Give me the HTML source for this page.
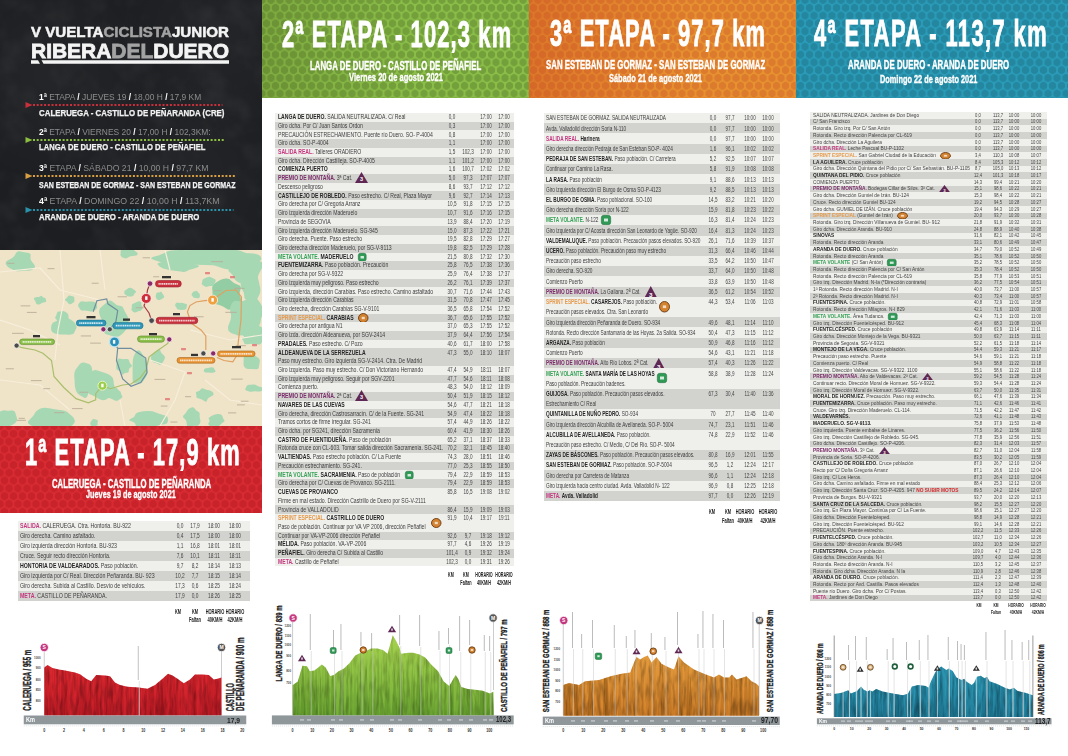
<!DOCTYPE html><html><head><meta charset="utf-8"><style>
*{margin:0;padding:0;box-sizing:border-box}
html,body{width:1068px;height:756px;overflow:hidden;background:#fff;font-family:"Liberation Sans",sans-serif}
.t{position:absolute;white-space:nowrap;line-height:1}
.abs{position:absolute}

</style></head><body>
<div class="abs" style="left:0;top:0;width:262px;height:250px;background:#1c1e21;background-image:radial-gradient(circle at 20% 30%,rgba(255,255,255,.035),transparent 40%),radial-gradient(circle at 70% 70%,rgba(255,255,255,.03),transparent 45%),radial-gradient(circle at 85% 15%,rgba(255,255,255,.03),transparent 35%)"></div>
<svg class="abs" style="left:0;top:0" width="262" height="250"><filter id="dn" x="0" y="0" width="100%" height="100%"><feTurbulence type="fractalNoise" baseFrequency="0.035" numOctaves="3" seed="7"/><feColorMatrix type="matrix" values="0 0 0 0 1  0 0 0 0 1  0 0 0 0 1  1.4 0 0 0 -0.62"/></filter><rect width="262" height="250" fill="#fff" filter="url(#dn)" opacity=".07"/></svg>
<div class="t" style="left:31.30px;top:26.42px;font-size:13.8px;font-weight:700;color:#f4f4f4;transform:scaleX(1.0943);transform-origin:0 0;-webkit-text-stroke:.5px currentColor;">V VUELTA<span style="color:#a3a3a3">CICLISTA</span>JUNIOR</div>
<div class="t" style="left:31.30px;top:41.01px;font-size:20.9px;font-weight:700;color:#f4f4f4;transform:scaleX(1.0030);transform-origin:0 0;-webkit-text-stroke:.8px currentColor;">RIBERA<span style="color:#a3a3a3">DEL</span>DUERO</div>
<svg class="abs" style="left:0;top:0" width="262" height="70"><g fill="#f4f4f4"><polygon points="31,60.3 38,60.3 40,63.8 31,63.8"/><polygon points="41.5,60.3 229,60.3 229,63.8 43.5,63.8"/></g></svg>
<div class="t" style="left:38.50px;top:91.67px;font-size:9.6px;font-weight:400;color:#8d8d8d;transform:scaleX(0.8759);transform-origin:0 0;"><b style="color:#fff">1ª</b> <span style="color:#8d8d8d">ETAPA</span> <b style="color:#fff">/</b> <span style="color:#8d8d8d">JUEVES 19</span> <b style="color:#fff">/</b> <span style="color:#8d8d8d">18,00 H</span>  <b style="color:#fff">/</b> <span style="color:#8d8d8d">17,9 KM</span></div>
<svg class="abs" style="left:0;top:101.0px" width="262" height="8"><polygon points="25.5,1 32.5,4 25.5,7" fill="#c8303c"/><line x1="33" y1="4" x2="222.5" y2="4" stroke="#c8303c" stroke-width="2" stroke-dasharray="2 1.7"/></svg>
<div class="t" style="left:39.20px;top:108.79px;font-size:8.4px;font-weight:700;color:#f2f2f2;transform:scaleX(0.9408);transform-origin:0 0;-webkit-text-stroke:.25px #f2f2f2;">CALERUEGA - CASTILLO DE PEÑARANDA (CRE)</div>
<div class="t" style="left:38.50px;top:127.17px;font-size:9.6px;font-weight:400;color:#8d8d8d;transform:scaleX(0.8790);transform-origin:0 0;"><b style="color:#fff">2ª</b> <span style="color:#8d8d8d">ETAPA</span> <b style="color:#fff">/</b> <span style="color:#8d8d8d">VIERNES 20</span> <b style="color:#fff">/</b> <span style="color:#8d8d8d">17,00 H</span>  <b style="color:#fff">/</b> <span style="color:#8d8d8d">102,3KM:</span></div>
<svg class="abs" style="left:0;top:135.6px" width="262" height="8"><polygon points="25.5,1 32.5,4 25.5,7" fill="#8cbf3f"/><line x1="33" y1="4" x2="225" y2="4" stroke="#8cbf3f" stroke-width="2" stroke-dasharray="2 1.7"/></svg>
<div class="t" style="left:39.20px;top:143.39px;font-size:8.4px;font-weight:700;color:#f2f2f2;transform:scaleX(0.9091);transform-origin:0 0;-webkit-text-stroke:.25px #f2f2f2;">LANGA DE DUERO -  CASTILLO DE PEÑAFIEL</div>
<div class="t" style="left:38.50px;top:162.77px;font-size:9.6px;font-weight:400;color:#8d8d8d;transform:scaleX(0.9030);transform-origin:0 0;"><b style="color:#fff">3ª</b> <span style="color:#8d8d8d">ETAPA</span> <b style="color:#fff">/</b> <span style="color:#8d8d8d">SÁBADO 21</span> <b style="color:#fff">/</b> <span style="color:#8d8d8d">10,00 H</span>  <b style="color:#fff">/</b> <span style="color:#8d8d8d">97,7 KM</span></div>
<svg class="abs" style="left:0;top:171.6px" width="262" height="8"><polygon points="25.5,1 32.5,4 25.5,7" fill="#d9a042"/><line x1="33" y1="4" x2="236" y2="4" stroke="#d9a042" stroke-width="2" stroke-dasharray="2 1.7"/></svg>
<div class="t" style="left:39.20px;top:180.89px;font-size:8.4px;font-weight:700;color:#f2f2f2;transform:scaleX(0.8377);transform-origin:0 0;-webkit-text-stroke:.25px #f2f2f2;">SAN ESTEBAN DE GORMAZ -  SAN ESTEBAN DE GORMAZ</div>
<div class="t" style="left:38.50px;top:195.67px;font-size:9.6px;font-weight:400;color:#8d8d8d;transform:scaleX(0.9180);transform-origin:0 0;"><b style="color:#fff">4ª</b> <span style="color:#8d8d8d">ETAPA</span> <b style="color:#fff">/</b> <span style="color:#8d8d8d">DOMINGO 22</span> <b style="color:#fff">/</b> <span style="color:#8d8d8d">10,00 H</span>  <b style="color:#fff">/</b> <span style="color:#8d8d8d">113,7KM</span></div>
<svg class="abs" style="left:0;top:205.6px" width="262" height="8"><polygon points="25.5,1 32.5,4 25.5,7" fill="#2a92aa"/><line x1="33" y1="4" x2="233.5" y2="4" stroke="#2a92aa" stroke-width="2" stroke-dasharray="2 1.7"/></svg>
<div class="t" style="left:39.20px;top:213.39px;font-size:8.4px;font-weight:700;color:#f2f2f2;transform:scaleX(0.9314);transform-origin:0 0;-webkit-text-stroke:.25px #f2f2f2;">ARANDA DE DUERO -  ARANDA DE DUERO</div>
<svg class="abs" style="left:0;top:250px" width="262" height="176" viewBox="0 250 262 176"><rect x="0" y="250" width="262" height="176" fill="#efe3c8"/><path d="M31.1,260.4 Q32.1,262.0 34.1,264.6 Q36.1,267.2 33.5,269.1 Q31.0,271.0 27.4,270.7 Q23.7,270.4 20.8,271.1 Q17.9,271.7 15.2,270.7 Q12.5,269.6 9.9,268.2 Q7.3,266.7 6.0,264.4 Q4.7,262.0 8.0,260.3 Q11.3,258.6 12.9,257.4 Q14.6,256.2 15.9,253.3 Q17.3,250.4 20.6,251.5 Q24.0,252.6 27.5,252.8 Q31.0,253.0 30.6,256.0 Q30.1,258.9 31.1,260.4Z" fill="#a6d8b4"/><path d="M136.4,252.0 Q138.0,253.0 137.5,254.4 Q137.0,255.7 134.4,255.8 Q131.7,255.9 130.6,256.3 Q129.4,256.7 127.6,257.8 Q125.9,258.8 124.1,258.1 Q122.4,257.4 121.2,256.4 Q120.1,255.4 120.5,254.2 Q120.9,253.0 120.6,251.9 Q120.4,250.7 121.5,249.8 Q122.7,248.9 124.4,248.4 Q126.1,247.9 127.8,248.5 Q129.4,249.1 131.1,249.2 Q132.8,249.2 133.8,250.1 Q134.8,251.0 136.4,252.0Z" fill="#a6d8b4"/><path d="M74.4,299.1 Q74.3,300.0 74.4,300.9 Q74.6,301.8 73.8,302.3 Q72.9,302.9 72.0,303.5 Q71.2,304.1 70.0,304.2 Q68.8,304.2 68.2,303.3 Q67.6,302.4 67.2,301.8 Q66.7,301.3 65.4,300.6 Q64.1,300.0 65.1,299.2 Q66.1,298.5 66.7,297.9 Q67.3,297.3 68.0,296.2 Q68.6,295.0 69.8,295.6 Q71.1,296.2 72.4,296.2 Q73.7,296.3 74.1,297.3 Q74.4,298.3 74.4,299.1Z" fill="#a6d8b4"/><path d="M76.1,325.3 Q77.1,327.0 76.1,328.7 Q75.1,330.4 74.4,332.4 Q73.6,334.4 71.0,334.6 Q68.3,334.9 66.1,334.6 Q63.8,334.4 61.1,334.4 Q58.3,334.4 54.9,333.4 Q51.5,332.4 51.2,329.7 Q50.8,327.0 51.7,324.5 Q52.5,322.0 55.9,321.2 Q59.2,320.4 61.1,318.7 Q63.0,317.1 65.8,317.8 Q68.5,318.5 70.6,319.5 Q72.6,320.6 73.9,322.1 Q75.1,323.6 76.1,325.3Z" fill="#a6d8b4"/><path d="M126.9,315.0 Q129.0,318.0 128.6,321.9 Q128.3,325.9 126.2,329.2 Q124.2,332.6 121.0,335.0 Q117.9,337.5 114.2,336.6 Q110.5,335.7 106.8,334.6 Q103.2,333.5 104.0,328.3 Q104.7,323.1 102.5,320.6 Q100.3,318.0 99.3,313.7 Q98.3,309.3 101.4,306.9 Q104.5,304.4 107.4,301.7 Q110.2,298.9 113.3,302.3 Q116.4,305.8 119.5,305.7 Q122.6,305.7 123.7,308.9 Q124.8,312.0 126.9,315.0Z" fill="#a6d8b4"/><path d="M255.5,256.1 Q263.2,258.0 260.7,260.3 Q258.2,262.6 247.0,263.8 Q235.9,265.0 225.3,265.3 Q214.6,265.6 205.8,265.0 Q197.0,264.3 184.0,265.0 Q171.0,265.7 165.8,263.8 Q160.7,261.8 154.2,259.9 Q147.7,258.0 155.4,256.2 Q163.2,254.4 166.1,252.1 Q169.1,249.9 182.2,250.1 Q195.3,250.3 206.6,249.0 Q218.0,247.7 229.1,248.9 Q240.2,250.1 244.0,252.2 Q247.9,254.3 255.5,256.1Z" fill="#a6d8b4"/><path d="M197.1,265.0 Q200.4,266.0 198.2,267.1 Q195.9,268.3 192.5,268.9 Q189.2,269.5 187.0,270.9 Q184.8,272.4 180.6,271.6 Q176.3,270.9 172.7,270.5 Q169.2,270.1 166.1,269.3 Q163.0,268.5 160.7,267.2 Q158.4,266.0 157.7,264.3 Q157.0,262.7 162.4,262.0 Q167.8,261.4 171.1,260.0 Q174.3,258.5 180.0,258.5 Q185.7,258.5 188.2,260.3 Q190.7,262.0 192.2,263.0 Q193.7,264.0 197.1,265.0Z" fill="#a6d8b4"/><path d="M262.7,266.4 Q261.2,270.0 259.6,272.4 Q258.0,274.9 257.6,278.4 Q257.2,281.9 252.6,281.1 Q248.0,280.4 244.5,282.2 Q240.9,283.9 237.8,282.0 Q234.6,280.1 233.7,277.3 Q232.8,274.6 229.9,272.3 Q226.9,270.0 230.0,267.7 Q233.0,265.5 233.6,262.5 Q234.2,259.5 238.1,259.5 Q242.0,259.6 245.0,259.6 Q248.1,259.5 251.9,259.5 Q255.7,259.5 260.0,261.2 Q264.2,262.8 262.7,266.4Z" fill="#a6d8b4"/><path d="M240.4,289.9 Q238.7,294.0 240.9,298.4 Q243.0,302.7 238.2,303.3 Q233.4,303.9 231.6,307.6 Q229.7,311.4 226.6,308.7 Q223.4,306.0 220.7,305.4 Q218.0,304.7 213.3,303.8 Q208.7,302.9 211.1,298.4 Q213.4,294.0 212.4,290.3 Q211.4,286.5 214.1,284.1 Q216.9,281.8 219.8,280.3 Q222.7,278.8 226.0,278.6 Q229.3,278.4 231.5,281.0 Q233.7,283.6 237.9,284.7 Q242.0,285.8 240.4,289.9Z" fill="#93cda3"/><path d="M260.8,313.4 Q261.6,318.0 260.4,322.4 Q259.2,326.9 256.3,329.3 Q253.5,331.7 251.5,337.8 Q249.6,343.9 245.9,338.7 Q242.3,333.5 238.3,334.4 Q234.4,335.2 230.3,332.5 Q226.3,329.7 229.1,323.8 Q232.0,318.0 230.6,313.1 Q229.2,308.2 231.5,303.9 Q233.7,299.7 237.9,300.9 Q242.2,302.1 245.4,300.0 Q248.5,298.0 252.7,298.4 Q256.8,298.8 258.4,303.8 Q259.9,308.7 260.8,313.4Z" fill="#a6d8b4"/><path d="M142.1,306.2 Q143.2,307.0 142.7,308.0 Q142.2,309.1 141.5,310.1 Q140.9,311.1 139.5,311.1 Q138.1,311.1 136.8,311.9 Q135.4,312.7 134.0,312.2 Q132.6,311.6 131.9,310.5 Q131.1,309.4 131.6,308.2 Q132.1,307.0 131.8,305.9 Q131.5,304.8 132.6,304.1 Q133.6,303.5 134.7,303.1 Q135.9,302.8 137.3,301.8 Q138.7,300.9 140.2,301.4 Q141.8,302.0 141.4,303.7 Q141.0,305.4 142.1,306.2Z" fill="#a6d8b4"/><path d="M187.1,305.0 Q186.8,306.0 186.7,306.9 Q186.6,307.8 186.1,308.8 Q185.6,309.9 184.0,309.8 Q182.3,309.8 181.0,309.9 Q179.7,309.9 178.4,309.6 Q177.1,309.3 176.8,308.4 Q176.5,307.4 175.8,306.7 Q175.0,306.0 175.1,305.1 Q175.2,304.1 175.9,303.2 Q176.6,302.4 178.3,302.7 Q180.0,303.0 181.1,302.8 Q182.2,302.5 183.0,303.1 Q183.9,303.6 185.6,303.8 Q187.3,304.0 187.1,305.0Z" fill="#a6d8b4"/><path d="M199.7,294.2 Q199.9,295.0 199.9,295.9 Q199.9,296.9 199.3,297.7 Q198.7,298.4 197.7,298.3 Q196.7,298.1 196.0,298.0 Q195.4,297.8 194.5,297.9 Q193.7,297.9 193.3,297.2 Q192.9,296.5 192.1,295.8 Q191.3,295.0 191.7,294.0 Q192.0,293.1 192.7,292.4 Q193.4,291.7 194.2,291.3 Q195.1,291.0 196.0,290.9 Q197.0,290.7 197.5,291.6 Q198.0,292.5 198.7,292.9 Q199.5,293.3 199.7,294.2Z" fill="#a6d8b4"/><path d="M113.6,380.9 Q113.6,384.0 114.7,387.6 Q115.9,391.2 113.1,394.1 Q110.4,396.9 106.6,399.2 Q102.8,401.5 98.7,398.8 Q94.7,396.1 91.6,395.0 Q88.5,394.0 86.7,391.6 Q85.0,389.2 83.9,386.6 Q82.8,384.0 81.2,380.3 Q79.7,376.6 84.4,375.7 Q89.1,374.7 91.5,371.9 Q93.9,369.1 97.6,370.4 Q101.4,371.7 104.6,372.7 Q107.9,373.6 110.8,375.7 Q113.6,377.7 113.6,380.9Z" fill="#a6d8b4"/><path d="M120.9,392.9 Q121.0,394.0 122.0,395.4 Q123.0,396.9 121.6,398.0 Q120.1,399.1 118.3,400.2 Q116.5,401.3 114.4,400.2 Q112.3,399.1 110.7,398.6 Q109.2,398.0 107.0,397.5 Q104.8,396.9 104.5,395.5 Q104.2,394.0 105.5,392.8 Q106.8,391.7 107.3,390.3 Q107.8,388.8 110.0,388.7 Q112.1,388.5 114.2,387.9 Q116.3,387.2 117.4,388.8 Q118.4,390.3 119.6,391.1 Q120.9,391.8 120.9,392.9Z" fill="#a6d8b4"/><path d="M131.2,364.5 Q132.8,366.0 130.7,367.3 Q128.6,368.5 128.8,370.8 Q128.9,373.1 127.1,372.7 Q125.3,372.3 123.6,374.1 Q122.0,375.9 121.4,373.2 Q120.8,370.6 118.6,370.4 Q116.4,370.2 116.3,368.1 Q116.3,366.0 116.4,363.9 Q116.4,361.8 117.4,359.9 Q118.4,358.0 120.5,358.7 Q122.7,359.3 124.0,359.1 Q125.4,358.9 127.1,359.0 Q128.9,359.0 129.2,361.0 Q129.5,363.0 131.2,364.5Z" fill="#a6d8b4"/><path d="M16.4,416.3 Q17.1,418.0 16.9,419.9 Q16.7,421.9 14.9,423.3 Q13.1,424.7 10.9,425.6 Q8.6,426.5 6.0,426.4 Q3.5,426.3 0.7,426.0 Q-2.1,425.7 -2.7,423.5 Q-3.4,421.4 -5.1,419.7 Q-6.9,418.0 -4.4,416.6 Q-1.8,415.2 -1.2,413.5 Q-0.7,411.7 1.5,410.9 Q3.6,410.0 5.9,410.5 Q8.1,411.0 11.3,410.5 Q14.5,410.0 15.1,412.3 Q15.7,414.5 16.4,416.3Z" fill="#a6d8b4"/><path d="M71.9,416.1 Q74.3,418.0 74.8,420.5 Q75.3,423.1 72.1,425.5 Q68.8,427.8 61.8,427.2 Q54.7,426.6 49.3,427.9 Q43.9,429.2 38.6,428.0 Q33.3,426.7 29.9,424.7 Q26.4,422.7 28.8,420.4 Q31.2,418.0 32.7,416.4 Q34.1,414.8 35.1,412.7 Q36.0,410.7 40.0,408.8 Q43.9,406.9 49.3,408.3 Q54.6,409.6 59.8,409.9 Q65.0,410.2 67.2,412.1 Q69.4,414.1 71.9,416.1Z" fill="#a6d8b4"/><path d="M97.7,422.0 Q97.3,423.0 97.6,423.9 Q97.9,424.9 97.1,425.4 Q96.3,425.8 95.5,426.0 Q94.7,426.2 93.9,426.6 Q93.1,426.9 92.3,426.5 Q91.5,426.1 91.0,425.4 Q90.4,424.7 90.3,423.9 Q90.1,423.0 90.5,422.2 Q90.9,421.5 91.4,420.9 Q91.8,420.3 92.4,419.5 Q93.0,418.7 93.9,419.1 Q94.8,419.5 95.8,419.5 Q96.7,419.6 97.5,420.3 Q98.2,421.0 97.7,422.0Z" fill="#a6d8b4"/><path d="M146.6,362.5 Q147.8,366.0 147.6,370.5 Q147.4,375.1 145.7,377.6 Q144.0,380.2 142.4,381.9 Q140.8,383.7 139.1,383.1 Q137.3,382.5 135.0,383.2 Q132.6,384.0 132.6,378.4 Q132.6,372.9 132.6,369.4 Q132.6,366.0 132.7,362.6 Q132.8,359.2 133.7,356.5 Q134.7,353.8 136.0,352.0 Q137.4,350.1 139.0,350.4 Q140.5,350.7 141.7,352.9 Q142.9,355.0 144.2,357.0 Q145.5,359.0 146.6,362.5Z" fill="#a6d8b4"/><path d="M164.1,355.6 Q165.4,357.0 164.7,358.7 Q164.0,360.4 163.1,361.8 Q162.3,363.3 161.0,364.3 Q159.6,365.4 158.2,364.1 Q156.8,362.9 155.4,362.9 Q154.0,362.9 152.7,361.8 Q151.4,360.7 151.1,358.9 Q150.7,357.0 151.6,355.4 Q152.4,353.8 153.7,353.2 Q155.0,352.5 155.8,351.5 Q156.7,350.5 158.2,349.4 Q159.7,348.3 160.3,350.5 Q160.9,352.7 161.9,353.5 Q162.9,354.3 164.1,355.6Z" fill="#a6d8b4"/><path d="M214.5,369.5 Q214.9,370.0 215.4,370.7 Q216.0,371.4 215.0,372.0 Q214.0,372.5 212.7,372.7 Q211.3,372.9 210.1,372.7 Q208.9,372.5 207.3,372.6 Q205.6,372.7 204.7,372.1 Q203.7,371.5 203.8,370.8 Q204.0,370.0 204.3,369.3 Q204.6,368.7 205.7,368.3 Q206.8,368.0 207.9,367.9 Q209.0,367.9 210.1,367.6 Q211.2,367.3 212.6,367.4 Q213.9,367.5 214.0,368.3 Q214.1,369.0 214.5,369.5Z" fill="#a6d8b4"/><path d="M213.5,393.4 Q214.1,395.0 211.9,396.0 Q209.8,397.1 208.7,397.8 Q207.7,398.4 207.0,400.5 Q206.3,402.5 204.4,401.1 Q202.5,399.8 201.3,399.3 Q200.1,398.7 198.1,398.3 Q196.2,397.8 196.4,396.4 Q196.7,395.0 196.0,393.4 Q195.2,391.8 197.5,391.4 Q199.8,391.0 200.8,389.3 Q201.8,387.6 203.7,388.7 Q205.6,389.7 207.4,389.9 Q209.3,390.0 211.1,390.9 Q213.0,391.8 213.5,393.4Z" fill="#a6d8b4"/><path d="M261.7,387.3 Q264.1,388.0 263.6,389.1 Q263.1,390.2 261.5,391.0 Q259.8,391.8 257.2,391.4 Q254.5,391.0 252.7,391.5 Q250.9,392.1 249.3,391.5 Q247.6,391.0 246.2,390.4 Q244.8,389.8 245.3,388.9 Q245.9,388.0 246.1,387.3 Q246.3,386.6 246.9,385.8 Q247.6,385.0 249.4,384.8 Q251.3,384.7 253.1,384.5 Q255.0,384.2 256.0,385.0 Q257.1,385.7 258.2,386.2 Q259.2,386.7 261.7,387.3Z" fill="#a6d8b4"/><path d="M167.8,417.9 Q168.1,420.0 167.7,422.1 Q167.3,424.1 162.3,424.6 Q157.2,425.1 155.2,427.6 Q153.1,430.0 148.9,428.2 Q144.7,426.5 140.2,426.7 Q135.7,426.9 135.6,424.8 Q135.5,422.7 131.4,421.3 Q127.4,420.0 131.2,418.6 Q134.9,417.2 135.2,415.1 Q135.5,413.0 139.5,412.1 Q143.5,411.2 148.0,411.1 Q152.6,411.0 155.7,412.5 Q158.9,414.0 163.2,414.9 Q167.5,415.8 167.8,417.9Z" fill="#a6d8b4"/><path d="M199.7,414.6 Q199.4,417.0 200.2,419.7 Q200.9,422.4 199.4,424.3 Q197.9,426.3 195.7,425.8 Q193.5,425.2 191.7,427.0 Q189.8,428.8 188.2,427.1 Q186.6,425.4 186.6,422.8 Q186.6,420.2 184.3,418.6 Q182.0,417.0 183.9,415.1 Q185.8,413.3 186.7,411.6 Q187.6,410.0 188.9,408.8 Q190.3,407.7 192.1,407.2 Q193.9,406.8 194.9,408.8 Q195.9,410.8 198.0,411.5 Q200.0,412.2 199.7,414.6Z" fill="#a6d8b4"/><path d="M224.0,419.8 Q225.1,421.0 223.6,422.1 Q222.0,423.2 221.1,424.0 Q220.2,424.9 219.0,426.0 Q217.9,427.2 216.3,426.3 Q214.7,425.4 212.5,425.9 Q210.2,426.4 209.0,425.2 Q207.7,424.0 208.9,422.5 Q210.1,421.0 209.1,419.6 Q208.1,418.1 209.5,417.2 Q211.0,416.3 212.5,415.5 Q214.1,414.7 216.2,414.2 Q218.2,413.7 220.3,414.3 Q222.3,415.0 222.6,416.8 Q222.8,418.5 224.0,419.8Z" fill="#a6d8b4"/><path d="M263.0,338.7 Q262.8,340.0 262.4,341.2 Q262.0,342.4 260.9,343.7 Q259.8,344.9 256.8,344.5 Q253.8,344.0 252.1,343.9 Q250.3,343.7 247.5,344.2 Q244.6,344.6 244.2,343.3 Q243.8,342.0 243.3,341.0 Q242.7,340.0 242.1,338.7 Q241.4,337.4 244.1,337.1 Q246.9,336.8 248.1,335.4 Q249.3,334.0 251.7,334.6 Q254.2,335.1 255.5,336.1 Q256.7,337.0 259.9,337.2 Q263.1,337.3 263.0,338.7Z" fill="#a6d8b4"/><path d="M259.8,360.3 Q259.8,362.0 259.5,363.5 Q259.1,365.1 258.9,367.3 Q258.6,369.4 256.2,369.3 Q253.8,369.2 252.0,369.1 Q250.2,369.0 248.1,368.9 Q245.9,368.9 244.6,367.3 Q243.4,365.7 243.5,363.9 Q243.6,362.0 243.6,360.2 Q243.5,358.3 244.1,356.0 Q244.6,353.6 247.4,354.3 Q250.2,355.0 252.0,354.9 Q253.8,354.8 255.2,355.8 Q256.6,356.8 258.1,357.7 Q259.7,358.7 259.8,360.3Z" fill="#a6d8b4"/><path d="M247.4,328.8 Q248.2,330.0 247.4,331.2 Q246.6,332.4 246.3,334.0 Q246.0,335.6 243.8,335.4 Q241.6,335.2 239.9,335.5 Q238.2,335.9 236.8,335.1 Q235.4,334.3 234.3,333.4 Q233.1,332.5 231.5,331.2 Q229.9,330.0 232.1,329.0 Q234.4,328.0 234.8,326.7 Q235.2,325.5 236.8,325.3 Q238.5,325.1 240.1,324.8 Q241.6,324.6 244.0,324.3 Q246.4,324.0 246.4,325.8 Q246.5,327.6 247.4,328.8Z" fill="#a6d8b4"/><path d="M260.4,259.7 Q258.4,262.0 258.1,263.9 Q257.8,265.7 256.1,267.9 Q254.4,270.1 249.6,272.0 Q244.9,273.8 239.0,272.2 Q233.0,270.6 228.7,269.6 Q224.3,268.7 220.4,267.4 Q216.6,266.1 211.3,264.0 Q206.0,262.0 211.9,260.1 Q217.8,258.2 218.0,255.2 Q218.2,252.2 224.7,251.3 Q231.2,250.3 237.1,251.9 Q243.0,253.5 249.4,253.3 Q255.8,253.2 259.1,255.3 Q262.5,257.4 260.4,259.7Z" fill="#a6d8b4"/><path d="M259.8,286.0 Q260.4,288.0 260.4,290.4 Q260.3,292.7 259.2,294.9 Q258.1,297.0 256.5,300.3 Q255.0,303.5 252.3,302.1 Q249.6,300.6 246.9,300.0 Q244.3,299.4 244.3,295.9 Q244.3,292.4 242.6,290.2 Q240.9,288.0 240.6,284.6 Q240.2,281.3 242.6,279.5 Q245.1,277.7 247.0,274.9 Q248.9,272.2 252.0,272.4 Q255.0,272.6 256.7,275.6 Q258.4,278.6 258.8,281.3 Q259.1,283.9 259.8,286.0Z" fill="#a6d8b4"/><path d="M262.6,307.9 Q263.4,310.0 263.0,312.3 Q262.7,314.7 261.7,316.9 Q260.6,319.2 258.2,318.9 Q255.8,318.5 253.8,319.6 Q251.8,320.6 249.5,320.1 Q247.2,319.5 245.6,317.4 Q244.0,315.3 245.3,312.7 Q246.6,310.0 245.9,307.6 Q245.2,305.3 246.6,303.5 Q248.0,301.7 250.0,301.0 Q252.0,300.2 254.3,299.0 Q256.5,297.7 258.1,299.9 Q259.7,302.1 260.8,303.9 Q261.9,305.8 262.6,307.9Z" fill="#a6d8b4"/><path d="M262.9,329.9 Q263.1,332.0 262.9,334.0 Q262.6,336.1 261.9,338.2 Q261.2,340.4 259.6,341.6 Q257.9,342.7 256.0,342.7 Q254.1,342.7 253.0,340.6 Q252.0,338.5 250.0,337.7 Q248.1,336.9 248.7,334.4 Q249.3,332.0 249.8,330.3 Q250.4,328.5 251.5,327.5 Q252.6,326.6 253.5,324.9 Q254.4,323.2 255.8,324.0 Q257.3,324.9 258.5,325.4 Q259.8,325.9 261.3,326.9 Q262.7,327.9 262.9,329.9Z" fill="#a6d8b4"/><path d="M96.9,304.9 Q97.2,306.0 97.2,307.2 Q97.2,308.5 95.8,309.5 Q94.4,310.5 92.4,311.2 Q90.4,311.9 88.3,311.1 Q86.2,310.3 83.6,310.6 Q80.9,310.9 80.3,309.6 Q79.6,308.3 78.7,307.1 Q77.8,306.0 78.2,304.8 Q78.7,303.5 79.9,302.3 Q81.0,301.2 83.6,301.4 Q86.3,301.7 88.1,301.6 Q89.9,301.5 92.1,301.6 Q94.3,301.6 95.4,302.7 Q96.5,303.7 96.9,304.9Z" fill="#a6d8b4"/><path d="M68.5,316.4 Q68.3,318.0 69.2,319.9 Q70.0,321.9 68.8,323.4 Q67.5,324.9 65.7,325.7 Q63.9,326.4 62.1,326.2 Q60.2,325.9 58.5,325.3 Q56.7,324.6 57.1,322.4 Q57.5,320.2 56.0,319.1 Q54.5,318.0 55.5,316.7 Q56.6,315.4 56.8,313.6 Q57.1,311.8 58.8,311.6 Q60.5,311.4 62.1,311.2 Q63.6,310.9 65.0,311.7 Q66.5,312.4 67.5,313.6 Q68.6,314.8 68.5,316.4Z" fill="#a6d8b4"/><path d="M135.8,291.2 Q136.6,292.0 135.4,292.7 Q134.2,293.3 134.1,294.3 Q134.0,295.3 132.8,296.0 Q131.6,296.6 130.0,296.6 Q128.4,296.6 127.3,295.9 Q126.2,295.2 125.2,294.5 Q124.2,293.9 124.3,292.9 Q124.4,292.0 124.5,291.1 Q124.5,290.2 125.8,289.9 Q127.1,289.6 127.8,288.6 Q128.5,287.7 130.0,287.8 Q131.4,287.9 132.3,288.6 Q133.3,289.3 134.2,289.8 Q135.0,290.4 135.8,291.2Z" fill="#a6d8b4"/><path d="M215.7,280.6 Q215.5,282.0 214.8,283.0 Q214.1,284.1 213.5,285.2 Q212.9,286.4 211.0,286.0 Q209.2,285.7 207.7,286.6 Q206.3,287.4 205.1,286.5 Q203.9,285.6 202.6,285.0 Q201.3,284.3 201.8,283.2 Q202.3,282.0 202.3,281.0 Q202.2,280.0 203.2,279.3 Q204.2,278.6 205.4,278.1 Q206.6,277.6 208.2,277.0 Q209.8,276.5 211.0,277.3 Q212.3,278.1 214.1,278.7 Q215.9,279.3 215.7,280.6Z" fill="#a6d8b4"/><path d="M163.7,295.4 Q164.2,296.0 164.2,296.8 Q164.2,297.6 163.4,298.1 Q162.6,298.6 161.8,299.1 Q161.0,299.7 159.9,299.9 Q158.8,300.0 157.7,299.7 Q156.6,299.4 156.4,298.4 Q156.1,297.5 155.8,296.7 Q155.4,296.0 155.9,295.3 Q156.3,294.6 156.3,293.4 Q156.3,292.3 157.7,292.4 Q159.0,292.6 160.2,291.9 Q161.4,291.3 161.9,292.4 Q162.4,293.6 162.8,294.2 Q163.3,294.7 163.7,295.4Z" fill="#a6d8b4"/><path d="M45.8,299.1 Q45.9,300.0 46.2,301.1 Q46.5,302.1 44.7,302.2 Q42.8,302.3 42.0,302.9 Q41.2,303.4 39.7,304.2 Q38.3,304.9 37.1,304.2 Q35.9,303.4 35.8,302.4 Q35.7,301.4 35.1,300.7 Q34.5,300.0 34.0,298.9 Q33.4,297.9 34.9,297.4 Q36.4,297.0 37.7,297.1 Q39.0,297.1 40.3,296.2 Q41.6,295.2 42.3,296.4 Q43.0,297.5 44.4,297.8 Q45.8,298.1 45.8,299.1Z" fill="#a6d8b4"/><path d="M93.0,376.6 Q93.3,380.0 92.5,382.9 Q91.7,385.9 90.4,388.0 Q89.1,390.2 87.9,394.7 Q86.7,399.2 84.2,397.7 Q81.7,396.3 79.4,395.1 Q77.1,393.8 75.9,390.5 Q74.7,387.1 74.7,383.6 Q74.7,380.0 74.2,376.1 Q73.8,372.2 75.7,369.6 Q77.5,367.0 79.5,364.4 Q81.4,361.9 83.9,362.5 Q86.4,363.0 88.9,364.1 Q91.4,365.1 92.1,369.2 Q92.7,373.3 93.0,376.6Z" fill="#a6d8b4"/><path d="M0,272 L40,268 L60,290 L100,300" fill="none" stroke="#f7eedc" stroke-width="1.2"/><path d="M60,250 L64,300 L58,330 L55,360" fill="none" stroke="#f7eedc" stroke-width="1.2"/><path d="M100,250 L105,290" fill="none" stroke="#f7eedc" stroke-width="1.2"/><path d="M0,320 L30,330 L60,345" fill="none" stroke="#f7eedc" stroke-width="1.2"/><path d="M150,360 L185,372 L175,400 L160,426" fill="none" stroke="#f7eedc" stroke-width="1.2"/><path d="M190,330 L230,340 L262,335" fill="none" stroke="#f7eedc" stroke-width="1.2"/><path d="M0,380 L40,385 L70,410" fill="none" stroke="#f7eedc" stroke-width="1.2"/><path d="M205,380 L230,400 L262,405" fill="none" stroke="#f7eedc" stroke-width="1.2"/><path d="M165,250 L170,270" fill="none" stroke="#f7eedc" stroke-width="1.2"/><path d="M120,400 L125,426" fill="none" stroke="#f7eedc" stroke-width="1.2"/><rect x="154.5" y="378.9" width="10.8" height="1.1" fill="#b9ad98" opacity=".8"/><rect x="231.2" y="378.6" width="11.5" height="1.1" fill="#b9ad98" opacity=".8"/><rect x="12.0" y="332.8" width="11.7" height="1.1" fill="#b9ad98" opacity=".8"/><rect x="160.8" y="405.5" width="6.7" height="1.1" fill="#b9ad98" opacity=".8"/><rect x="117.6" y="296.2" width="9.3" height="1.1" fill="#b9ad98" opacity=".8"/><rect x="142.7" y="257.2" width="7.3" height="1.1" fill="#b9ad98" opacity=".8"/><rect x="72.1" y="408.0" width="10.6" height="1.1" fill="#b9ad98" opacity=".8"/><rect x="43.3" y="388.1" width="6.8" height="1.1" fill="#b9ad98" opacity=".8"/><rect x="153.2" y="276.2" width="6.0" height="1.1" fill="#b9ad98" opacity=".8"/><rect x="214.1" y="290.0" width="7.3" height="1.1" fill="#b9ad98" opacity=".8"/><rect x="240.8" y="400.7" width="7.7" height="1.1" fill="#b9ad98" opacity=".8"/><rect x="235.8" y="345.1" width="10.1" height="1.1" fill="#b9ad98" opacity=".8"/><rect x="54.1" y="412.1" width="10.1" height="1.1" fill="#b9ad98" opacity=".8"/><rect x="237.0" y="404.3" width="7.8" height="1.1" fill="#b9ad98" opacity=".8"/><rect x="91.7" y="282.7" width="6.9" height="1.1" fill="#b9ad98" opacity=".8"/><rect x="20.6" y="305.3" width="9.6" height="1.1" fill="#b9ad98" opacity=".8"/><rect x="5.8" y="368.2" width="8.0" height="1.1" fill="#b9ad98" opacity=".8"/><rect x="79.4" y="391.7" width="8.9" height="1.1" fill="#b9ad98" opacity=".8"/><rect x="80.8" y="335.4" width="10.2" height="1.1" fill="#b9ad98" opacity=".8"/><rect x="18.7" y="417.8" width="6.1" height="1.1" fill="#b9ad98" opacity=".8"/><rect x="185.0" y="396.1" width="6.1" height="1.1" fill="#b9ad98" opacity=".8"/><rect x="194.1" y="316.2" width="9.5" height="1.1" fill="#b9ad98" opacity=".8"/><rect x="7.2" y="262.8" width="7.1" height="1.1" fill="#b9ad98" opacity=".8"/><rect x="234.2" y="287.8" width="10.5" height="1.1" fill="#b9ad98" opacity=".8"/><rect x="228.1" y="412.3" width="8.1" height="1.1" fill="#b9ad98" opacity=".8"/><rect x="90.2" y="342.6" width="10.7" height="1.1" fill="#b9ad98" opacity=".8"/><rect x="30.9" y="380.0" width="10.8" height="1.1" fill="#b9ad98" opacity=".8"/><rect x="211.3" y="261.1" width="11.7" height="1.1" fill="#b9ad98" opacity=".8"/><rect x="26.9" y="311.9" width="9.7" height="1.1" fill="#b9ad98" opacity=".8"/><rect x="225.3" y="311.8" width="11.5" height="1.1" fill="#b9ad98" opacity=".8"/><rect x="135.8" y="307.2" width="7.9" height="1.1" fill="#b9ad98" opacity=".8"/><rect x="47.6" y="268.1" width="6.9" height="1.1" fill="#b9ad98" opacity=".8"/><rect x="170.4" y="421.5" width="7.0" height="1.1" fill="#b9ad98" opacity=".8"/><rect x="16.7" y="419.8" width="9.2" height="1.1" fill="#b9ad98" opacity=".8"/><rect x="205" y="272" width="5" height="2.2" rx=".6" fill="#e07070" opacity=".8"/><rect x="230" y="276" width="5" height="2.2" rx=".6" fill="#e07070" opacity=".8"/><rect x="181" y="348" width="5" height="2.2" rx=".6" fill="#e07070" opacity=".8"/><rect x="187" y="372" width="5" height="2.2" rx=".6" fill="#e07070" opacity=".8"/><rect x="165" y="398" width="5" height="2.2" rx=".6" fill="#e07070" opacity=".8"/><rect x="252" y="344" width="5" height="2.2" rx=".6" fill="#e07070" opacity=".8"/><path d="M150,283.6 L147.5,290 L146.3,298.3 L144,306 L149,313 L151.6,320.6" fill="none" stroke="#a83a44" stroke-width="1.2"/><path d="M212.6,300.1 L204.6,300.7 L196,302 L189.9,305.6 L187.4,311.8 L191,323 L201,330 L205.8,336 L205.8,350" fill="none" stroke="#e0a060" stroke-width="1.2"/><path d="M212.6,300.1 L218,296 L226,290.5 L236,290 L241.4,297 L241,320 L239,336 L237.7,347 M236.5,356 L232.8,361.8 L224,360.5 L216.9,357.5" fill="none" stroke="#e0a060" stroke-width="1.2"/><path d="M16.6,345.6 L22,347.7 L35,350 L42.9,353.2 L51.5,360.5 L54,376.5 L63.8,387.5 L76,398.6 L88.3,402.8 L95.7,399.8 L95.7,393.6 L102.4,385.7 L110.4,388.7 L122.7,385 L131,384 L140,378 L146,370 L149,357 L155.5,352 L167.8,343.4 L169.3,339.4" fill="none" stroke="#a9bf6c" stroke-width="1.2"/><path d="M114.1,342.1 L117.7,348.3 L131,348.3 L145.7,358 L147,372.8 L140.8,382.6 L131,386.3 L122.7,378.9 L116.5,360.5 L117.7,348.3" fill="none" stroke="#6f8e9e" stroke-width="1.2"/><path d="M93.2,311.8 L96.9,300.7 L106.7,298.9 L107.9,303.8 L117.7,310.6 L115.9,321.6 L110,329" fill="none" stroke="#6f8e9e" stroke-width="1.2"/><rect x="155.5" y="280.5" width="25.8" height="6.5" rx="3.2" fill="#c8303c" stroke="#9c2030" stroke-width=".6"/><line x1="158.5" y1="283.8" x2="178.3" y2="283.8" stroke="#fff" stroke-width="1.8" stroke-dasharray="1.3 .5" opacity=".8"/><rect x="156.1" y="317.3" width="41.7" height="6.5" rx="3.2" fill="#c8303c" stroke="#9c2030" stroke-width=".6"/><line x1="159.1" y1="320.6" x2="194.8" y2="320.6" stroke="#fff" stroke-width="1.8" stroke-dasharray="1.3 .5" opacity=".8"/><rect x="76.3" y="320.1" width="29.7" height="5.9" rx="2.9" fill="#2f98b8" stroke="#1f7090" stroke-width=".6"/><line x1="79.3" y1="323.1" x2="103.0" y2="323.1" stroke="#fff" stroke-width="1.8" stroke-dasharray="1.3 .5" opacity=".8"/><rect x="112.8" y="322.6" width="30.3" height="6.2" rx="3.1" fill="#2f98b8" stroke="#1f7090" stroke-width=".6"/><line x1="115.8" y1="325.7" x2="140.1" y2="325.7" stroke="#fff" stroke-width="1.8" stroke-dasharray="1.3 .5" opacity=".8"/><rect x="19.6" y="339" width="35.0" height="5.6" rx="2.8" fill="#8cc04a" stroke="#5a8a2a" stroke-width=".6"/><line x1="22.6" y1="341.8" x2="51.6" y2="341.8" stroke="#fff" stroke-width="1.8" stroke-dasharray="1.3 .5" opacity=".8"/><rect x="137.5" y="336" width="27.0" height="6.2" rx="3.1" fill="#8cc04a" stroke="#5a8a2a" stroke-width=".6"/><line x1="140.5" y1="339.1" x2="161.5" y2="339.1" stroke="#fff" stroke-width="1.8" stroke-dasharray="1.3 .5" opacity=".8"/><rect x="177" y="357.5" width="38.0" height="5.7" rx="2.8" fill="#e89434" stroke="#a86a20" stroke-width=".6"/><line x1="180.0" y1="360.4" x2="212.0" y2="360.4" stroke="#fff" stroke-width="1.8" stroke-dasharray="1.3 .5" opacity=".8"/><rect x="217.5" y="351" width="37.6" height="5.6" rx="2.8" fill="#e89434" stroke="#a86a20" stroke-width=".6"/><line x1="220.5" y1="353.8" x2="252.1" y2="353.8" stroke="#fff" stroke-width="1.8" stroke-dasharray="1.3 .5" opacity=".8"/><circle cx="150" cy="283.6" r="2.8" fill="#8b2a6b" stroke="#fff" stroke-width="0.7"/><circle cx="146.2" cy="298.4" r="5" fill="#cf2e3a" stroke="#fff" stroke-width="0.7"/><circle cx="151.6" cy="320.6" r="2.8" fill="#4a4a4a" stroke="#fff" stroke-width="0.7"/><circle cx="212.6" cy="300.1" r="5" fill="#f0a040" stroke="#fff" stroke-width="0.7"/><circle cx="103.4" cy="329.3" r="2.6" fill="#8b2a6b" stroke="#fff" stroke-width="0.7"/><circle cx="109.8" cy="329.3" r="2.6" fill="#4a4a4a" stroke="#fff" stroke-width="0.7"/><circle cx="114.5" cy="341.9" r="5" fill="#2a90b8" stroke="#bfe6f2" stroke-width="1.2"/><circle cx="102.4" cy="385.7" r="4.5" fill="#9acd4a" stroke="#e6f5c8" stroke-width="1"/><circle cx="16.6" cy="345.6" r="2.6" fill="#4a4a4a" stroke="#fff" stroke-width="0.7"/><circle cx="169.3" cy="339.4" r="2.6" fill="#8b2a6b" stroke="#fff" stroke-width="0.7"/><circle cx="203.4" cy="353.4" r="2.6" fill="#4a4a4a" stroke="#fff" stroke-width="0.7"/><circle cx="213.2" cy="353.4" r="2.6" fill="#8b2a6b" stroke="#fff" stroke-width="0.7"/><rect x="145.10000000000002" y="296.3" width="2.4" height="3.6" fill="#fff"/><rect x="211.4" y="298.1" width="2.4" height="3.6" fill="#fff"/><rect x="112.89999999999999" y="340.1" width="2.4" height="3.6" fill="#fff"/><rect x="101.2" y="383.7" width="2.4" height="3.6" fill="#fff"/><rect x="162" y="276" width="9" height="2.3" fill="#333"/><rect x="173" y="313" width="7" height="2.3" fill="#333"/><rect x="86.5" y="316" width="9" height="2.3" fill="#333"/><rect x="123" y="318.5" width="7" height="2.3" fill="#333"/><rect x="33" y="335" width="7" height="2.3" fill="#333"/><rect x="149" y="333" width="8" height="2.3" fill="#333"/><rect x="191" y="353.8" width="7" height="2.3" fill="#333"/><rect x="232" y="346" width="9" height="2.3" fill="#333"/></svg>
<div class="abs" style="left:0px;top:426px;width:262px;height:87px;background-color:#d82b33;background-image:radial-gradient(circle,#c8232a 0 3.5px,transparent 4.1px),radial-gradient(circle,#c8232a 0 3.5px,transparent 4.1px);background-size:9px 15.6px,9px 15.6px;background-position:0 0,4.5px 7.8px"></div>
<div class="t" style="left:24.50px;top:435.29px;font-size:36.4px;font-weight:700;color:#fff;transform:scaleX(0.6000);transform-origin:0 0;letter-spacing:1.852px;-webkit-text-stroke:.9px #fff;">1ª ETAPA - 17,9 km</div>
<div class="t" style="left:52.30px;top:476.50px;font-size:13.0px;font-weight:700;color:#fff;transform:scaleX(0.5968);transform-origin:0 0;-webkit-text-stroke:.4px #fff;">CALERUEGA - CASTILLO DE PEÑARANDA</div>
<div class="t" style="left:86.40px;top:488.51px;font-size:11.8px;font-weight:700;color:#fff;transform:scaleX(0.6195);transform-origin:0 0;-webkit-text-stroke:.35px #fff;">Jueves 19 de agosto 2021</div>
<div class="abs" style="left:262px;top:0px;width:267px;height:97.5px;background-color:#8bbe49;background-image:linear-gradient(90deg,rgba(60,70,20,.16),rgba(60,70,20,0) 55%),radial-gradient(circle,#74a03b 0 3.5px,transparent 4.1px),radial-gradient(circle,#74a03b 0 3.5px,transparent 4.1px);background-size:100% 100%,9px 15.6px,9px 15.6px;background-position:0 0,0 0,4.5px 7.8px"></div>
<div class="t" style="left:281.90px;top:16.79px;font-size:36.4px;font-weight:700;color:#fff;transform:scaleX(0.6000);transform-origin:0 0;letter-spacing:1.958px;-webkit-text-stroke:.9px #fff;">2ª ETAPA - 102,3 km</div>
<div class="t" style="left:310.20px;top:59.00px;font-size:13.0px;font-weight:700;color:#fff;transform:scaleX(0.6027);transform-origin:0 0;-webkit-text-stroke:.4px #fff;">LANGA DE DUERO - CASTILLO DE PEÑAFIEL</div>
<div class="t" style="left:348.80px;top:72.41px;font-size:11.8px;font-weight:700;color:#fff;transform:scaleX(0.6379);transform-origin:0 0;-webkit-text-stroke:.35px #fff;">Viernes 20 de agosto 2021</div>
<div class="abs" style="left:529px;top:0px;width:267px;height:97.5px;background-color:#e79230;background-image:linear-gradient(90deg,rgba(200,70,30,.35),rgba(200,70,30,0) 60%),radial-gradient(circle,#dc7a2d 0 3.5px,transparent 4.1px),radial-gradient(circle,#dc7a2d 0 3.5px,transparent 4.1px);background-size:100% 100%,9px 15.6px,9px 15.6px;background-position:0 0,0 0,4.5px 7.8px"></div>
<div class="t" style="left:550.25px;top:15.69px;font-size:36.4px;font-weight:700;color:#fff;transform:scaleX(0.6000);transform-origin:0 0;letter-spacing:1.881px;-webkit-text-stroke:.9px #fff;">3ª ETAPA - 97,7 km</div>
<div class="t" style="left:546.00px;top:57.75px;font-size:13.0px;font-weight:700;color:#fff;transform:scaleX(0.6023);transform-origin:0 0;-webkit-text-stroke:.4px #fff;">SAN ESTEBAN DE GORMAZ - SAN ESTEBAN DE GORMAZ</div>
<div class="t" style="left:608.50px;top:72.51px;font-size:11.8px;font-weight:700;color:#fff;transform:scaleX(0.6303);transform-origin:0 0;-webkit-text-stroke:.35px #fff;">Sábado 21 de agosto 2021</div>
<div class="abs" style="left:796px;top:0px;width:272px;height:97.5px;background-color:#2a9bb8;background-image:radial-gradient(circle,#24879f 0 3.5px,transparent 4.1px),radial-gradient(circle,#24879f 0 3.5px,transparent 4.1px);background-size:9px 15.6px,9px 15.6px;background-position:0 0,4.5px 7.8px"></div>
<div class="t" style="left:814.30px;top:16.29px;font-size:36.4px;font-weight:700;color:#fff;transform:scaleX(0.6000);transform-origin:0 0;letter-spacing:2.394px;-webkit-text-stroke:.9px #fff;">4ª ETAPA - 113,7 km</div>
<div class="t" style="left:848.20px;top:58.30px;font-size:13.0px;font-weight:700;color:#fff;transform:scaleX(0.6032);transform-origin:0 0;-webkit-text-stroke:.4px #fff;">ARANDA DE DUERO - ARANDA DE DUERO</div>
<div class="t" style="left:880.00px;top:73.51px;font-size:11.8px;font-weight:700;color:#fff;transform:scaleX(0.6242);transform-origin:0 0;-webkit-text-stroke:.35px #fff;">Domingo 22 de agosto 2021</div>
<div class="abs" style="left:17.5px;top:521.30px;width:232.00px;height:10.04px;background:#efefec"></div>
<div class="t" style="left:20.00px;top:522.28px;font-size:8.0px;color:#3c3c3c;transform:scaleX(0.655);transform-origin:0 0"><span style="color:#c4377f;font-weight:700">SALIDA.</span> CALERUEGA. Ctra. Hontoria. BU-922</div>
<div class="t" style="left:159.50px;width:40px;text-align:center;top:522.28px;font-size:8.0px;color:#444;transform:scaleX(0.6)">0,0</div>
<div class="t" style="left:174.50px;width:40px;text-align:center;top:522.28px;font-size:8.0px;color:#444;transform:scaleX(0.6)">17,9</div>
<div class="t" style="left:193.75px;width:40px;text-align:center;top:522.28px;font-size:8.0px;color:#444;transform:scaleX(0.6)">18:00</div>
<div class="t" style="left:214.50px;width:40px;text-align:center;top:522.28px;font-size:8.0px;color:#444;transform:scaleX(0.6)">18:00</div>
<div class="abs" style="left:17.5px;top:531.29px;width:232.00px;height:10.04px;background:#d2d2cf"></div>
<div class="t" style="left:20.00px;top:532.27px;font-size:8.0px;color:#3c3c3c;transform:scaleX(0.655);transform-origin:0 0">Giro derecha. Camino asfaltado.</div>
<div class="t" style="left:159.50px;width:40px;text-align:center;top:532.27px;font-size:8.0px;color:#444;transform:scaleX(0.6)">0,4</div>
<div class="t" style="left:174.50px;width:40px;text-align:center;top:532.27px;font-size:8.0px;color:#444;transform:scaleX(0.6)">17,5</div>
<div class="t" style="left:193.75px;width:40px;text-align:center;top:532.27px;font-size:8.0px;color:#444;transform:scaleX(0.6)">18:00</div>
<div class="t" style="left:214.50px;width:40px;text-align:center;top:532.27px;font-size:8.0px;color:#444;transform:scaleX(0.6)">18:00</div>
<div class="abs" style="left:17.5px;top:541.27px;width:232.00px;height:10.04px;background:#efefec"></div>
<div class="t" style="left:20.00px;top:542.26px;font-size:8.0px;color:#3c3c3c;transform:scaleX(0.655);transform-origin:0 0">Giro izquierda dirección Hontoria. BU-923</div>
<div class="t" style="left:159.50px;width:40px;text-align:center;top:542.26px;font-size:8.0px;color:#444;transform:scaleX(0.6)">1,1</div>
<div class="t" style="left:174.50px;width:40px;text-align:center;top:542.26px;font-size:8.0px;color:#444;transform:scaleX(0.6)">16,8</div>
<div class="t" style="left:193.75px;width:40px;text-align:center;top:542.26px;font-size:8.0px;color:#444;transform:scaleX(0.6)">18:01</div>
<div class="t" style="left:214.50px;width:40px;text-align:center;top:542.26px;font-size:8.0px;color:#444;transform:scaleX(0.6)">18:01</div>
<div class="abs" style="left:17.5px;top:551.26px;width:232.00px;height:10.04px;background:#d2d2cf"></div>
<div class="t" style="left:20.00px;top:552.24px;font-size:8.0px;color:#3c3c3c;transform:scaleX(0.655);transform-origin:0 0">Cruce. Seguir recto dirección Hontoria.</div>
<div class="t" style="left:159.50px;width:40px;text-align:center;top:552.24px;font-size:8.0px;color:#444;transform:scaleX(0.6)">7,6</div>
<div class="t" style="left:174.50px;width:40px;text-align:center;top:552.24px;font-size:8.0px;color:#444;transform:scaleX(0.6)">10,1</div>
<div class="t" style="left:193.75px;width:40px;text-align:center;top:552.24px;font-size:8.0px;color:#444;transform:scaleX(0.6)">18:11</div>
<div class="t" style="left:214.50px;width:40px;text-align:center;top:552.24px;font-size:8.0px;color:#444;transform:scaleX(0.6)">18:11</div>
<div class="abs" style="left:17.5px;top:561.25px;width:232.00px;height:10.04px;background:#efefec"></div>
<div class="t" style="left:20.00px;top:562.23px;font-size:8.0px;color:#3c3c3c;transform:scaleX(0.655);transform-origin:0 0"><span style="color:#262626;font-weight:700">HONTORIA DE VALDEARADOS.</span> Paso población.</div>
<div class="t" style="left:159.50px;width:40px;text-align:center;top:562.23px;font-size:8.0px;color:#444;transform:scaleX(0.6)">9,7</div>
<div class="t" style="left:174.50px;width:40px;text-align:center;top:562.23px;font-size:8.0px;color:#444;transform:scaleX(0.6)">8,2</div>
<div class="t" style="left:193.75px;width:40px;text-align:center;top:562.23px;font-size:8.0px;color:#444;transform:scaleX(0.6)">18:14</div>
<div class="t" style="left:214.50px;width:40px;text-align:center;top:562.23px;font-size:8.0px;color:#444;transform:scaleX(0.6)">18:13</div>
<div class="abs" style="left:17.5px;top:571.24px;width:232.00px;height:10.04px;background:#d2d2cf"></div>
<div class="t" style="left:20.00px;top:572.22px;font-size:8.0px;color:#3c3c3c;transform:scaleX(0.655);transform-origin:0 0">Giro izquierda por C/ Real. Dirección Peñaranda. BU- 923</div>
<div class="t" style="left:159.50px;width:40px;text-align:center;top:572.22px;font-size:8.0px;color:#444;transform:scaleX(0.6)">10,2</div>
<div class="t" style="left:174.50px;width:40px;text-align:center;top:572.22px;font-size:8.0px;color:#444;transform:scaleX(0.6)">7,7</div>
<div class="t" style="left:193.75px;width:40px;text-align:center;top:572.22px;font-size:8.0px;color:#444;transform:scaleX(0.6)">18:15</div>
<div class="t" style="left:214.50px;width:40px;text-align:center;top:572.22px;font-size:8.0px;color:#444;transform:scaleX(0.6)">18:14</div>
<div class="abs" style="left:17.5px;top:581.23px;width:232.00px;height:10.04px;background:#efefec"></div>
<div class="t" style="left:20.00px;top:582.21px;font-size:8.0px;color:#3c3c3c;transform:scaleX(0.655);transform-origin:0 0">Giro derecha. Subida al Castillo. Desvío de vehículos.</div>
<div class="t" style="left:159.50px;width:40px;text-align:center;top:582.21px;font-size:8.0px;color:#444;transform:scaleX(0.6)">17,3</div>
<div class="t" style="left:174.50px;width:40px;text-align:center;top:582.21px;font-size:8.0px;color:#444;transform:scaleX(0.6)">0,6</div>
<div class="t" style="left:193.75px;width:40px;text-align:center;top:582.21px;font-size:8.0px;color:#444;transform:scaleX(0.6)">18:25</div>
<div class="t" style="left:214.50px;width:40px;text-align:center;top:582.21px;font-size:8.0px;color:#444;transform:scaleX(0.6)">18:24</div>
<div class="abs" style="left:17.5px;top:591.21px;width:232.00px;height:10.04px;background:#d2d2cf"></div>
<div class="t" style="left:20.00px;top:592.19px;font-size:8.0px;color:#3c3c3c;transform:scaleX(0.655);transform-origin:0 0"><span style="color:#c4377f;font-weight:700">META.</span> CASTILLO DE PEÑARANDA.</div>
<div class="t" style="left:159.50px;width:40px;text-align:center;top:592.19px;font-size:8.0px;color:#444;transform:scaleX(0.6)">17,9</div>
<div class="t" style="left:174.50px;width:40px;text-align:center;top:592.19px;font-size:8.0px;color:#444;transform:scaleX(0.6)">0,0</div>
<div class="t" style="left:193.75px;width:40px;text-align:center;top:592.19px;font-size:8.0px;color:#444;transform:scaleX(0.6)">18:26</div>
<div class="t" style="left:214.50px;width:40px;text-align:center;top:592.19px;font-size:8.0px;color:#444;transform:scaleX(0.6)">18:25</div>
<div class="abs" style="left:274.8px;top:113.00px;width:239.00px;height:8.77px;background:#efefec"></div>
<div class="t" style="left:277.80px;top:114.15px;font-size:6.4px;color:#3c3c3c;transform:scaleX(0.8);transform-origin:0 0"><span style="color:#262626;font-weight:700">LANGA DE DUERO.</span> SALIDA NEUTRALIZADA. C/ Real</div>
<div class="t" style="left:432.40px;width:40px;text-align:center;top:114.15px;font-size:6.4px;color:#444;transform:scaleX(0.72)">0,0</div>
<div class="t" style="left:466.40px;width:40px;text-align:center;top:114.15px;font-size:6.4px;color:#444;transform:scaleX(0.72)">17:00</div>
<div class="t" style="left:484.40px;width:40px;text-align:center;top:114.15px;font-size:6.4px;color:#444;transform:scaleX(0.72)">17:00</div>
<div class="abs" style="left:274.8px;top:121.72px;width:239.00px;height:8.77px;background:#d2d2cf"></div>
<div class="t" style="left:277.80px;top:122.87px;font-size:6.4px;color:#3c3c3c;transform:scaleX(0.8);transform-origin:0 0">Giro dcha. Por C/ Juan Santos Ordon</div>
<div class="t" style="left:432.40px;width:40px;text-align:center;top:122.87px;font-size:6.4px;color:#444;transform:scaleX(0.72)">0,3</div>
<div class="t" style="left:466.40px;width:40px;text-align:center;top:122.87px;font-size:6.4px;color:#444;transform:scaleX(0.72)">17:00</div>
<div class="t" style="left:484.40px;width:40px;text-align:center;top:122.87px;font-size:6.4px;color:#444;transform:scaleX(0.72)">17:00</div>
<div class="abs" style="left:274.8px;top:130.44px;width:239.00px;height:8.77px;background:#efefec"></div>
<div class="t" style="left:277.80px;top:131.59px;font-size:6.4px;color:#3c3c3c;transform:scaleX(0.8);transform-origin:0 0">PRECAUCIÓN ESTRECHAMIENTO. Puente río Duero. SO- P-4004</div>
<div class="t" style="left:432.40px;width:40px;text-align:center;top:131.59px;font-size:6.4px;color:#444;transform:scaleX(0.72)">0,8</div>
<div class="t" style="left:466.40px;width:40px;text-align:center;top:131.59px;font-size:6.4px;color:#444;transform:scaleX(0.72)">17:00</div>
<div class="t" style="left:484.40px;width:40px;text-align:center;top:131.59px;font-size:6.4px;color:#444;transform:scaleX(0.72)">17:00</div>
<div class="abs" style="left:274.8px;top:139.16px;width:239.00px;height:8.77px;background:#d2d2cf"></div>
<div class="t" style="left:277.80px;top:140.31px;font-size:6.4px;color:#3c3c3c;transform:scaleX(0.8);transform-origin:0 0">Giro dcha. SO-P-4004</div>
<div class="t" style="left:432.40px;width:40px;text-align:center;top:140.31px;font-size:6.4px;color:#444;transform:scaleX(0.72)">1,1</div>
<div class="t" style="left:466.40px;width:40px;text-align:center;top:140.31px;font-size:6.4px;color:#444;transform:scaleX(0.72)">17:00</div>
<div class="t" style="left:484.40px;width:40px;text-align:center;top:140.31px;font-size:6.4px;color:#444;transform:scaleX(0.72)">17:00</div>
<div class="abs" style="left:274.8px;top:147.88px;width:239.00px;height:8.77px;background:#efefec"></div>
<div class="t" style="left:277.80px;top:149.03px;font-size:6.4px;color:#3c3c3c;transform:scaleX(0.8);transform-origin:0 0"><span style="color:#c4377f;font-weight:700">SALIDA REAL.</span> Talleres ORADIERO</div>
<div class="t" style="left:432.40px;width:40px;text-align:center;top:149.03px;font-size:6.4px;color:#444;transform:scaleX(0.72)">1,5</div>
<div class="t" style="left:447.50px;width:40px;text-align:center;top:149.03px;font-size:6.4px;color:#444;transform:scaleX(0.72)">102,3</div>
<div class="t" style="left:466.40px;width:40px;text-align:center;top:149.03px;font-size:6.4px;color:#444;transform:scaleX(0.72)">17:00</div>
<div class="t" style="left:484.40px;width:40px;text-align:center;top:149.03px;font-size:6.4px;color:#444;transform:scaleX(0.72)">17:00</div>
<div class="abs" style="left:274.8px;top:156.60px;width:239.00px;height:8.77px;background:#d2d2cf"></div>
<div class="t" style="left:277.80px;top:157.75px;font-size:6.4px;color:#3c3c3c;transform:scaleX(0.8);transform-origin:0 0">Giro dcha. Dirección Castilleja. SO-P-4005</div>
<div class="t" style="left:432.40px;width:40px;text-align:center;top:157.75px;font-size:6.4px;color:#444;transform:scaleX(0.72)">1,1</div>
<div class="t" style="left:447.50px;width:40px;text-align:center;top:157.75px;font-size:6.4px;color:#444;transform:scaleX(0.72)">101,2</div>
<div class="t" style="left:466.40px;width:40px;text-align:center;top:157.75px;font-size:6.4px;color:#444;transform:scaleX(0.72)">17:00</div>
<div class="t" style="left:484.40px;width:40px;text-align:center;top:157.75px;font-size:6.4px;color:#444;transform:scaleX(0.72)">17:00</div>
<div class="abs" style="left:274.8px;top:165.32px;width:239.00px;height:8.77px;background:#efefec"></div>
<div class="t" style="left:277.80px;top:166.47px;font-size:6.4px;color:#3c3c3c;transform:scaleX(0.8);transform-origin:0 0"><span style="color:#262626;font-weight:700">COMIENZA PUERTO</span></div>
<div class="t" style="left:432.40px;width:40px;text-align:center;top:166.47px;font-size:6.4px;color:#444;transform:scaleX(0.72)">1,6</div>
<div class="t" style="left:447.50px;width:40px;text-align:center;top:166.47px;font-size:6.4px;color:#444;transform:scaleX(0.72)">100,7</div>
<div class="t" style="left:466.40px;width:40px;text-align:center;top:166.47px;font-size:6.4px;color:#444;transform:scaleX(0.72)">17:02</div>
<div class="t" style="left:484.40px;width:40px;text-align:center;top:166.47px;font-size:6.4px;color:#444;transform:scaleX(0.72)">17:02</div>
<div class="abs" style="left:274.8px;top:174.03px;width:239.00px;height:8.77px;background:#d2d2cf"></div>
<div class="t" style="left:277.80px;top:175.18px;font-size:6.4px;color:#3c3c3c;transform:scaleX(0.8);transform-origin:0 0"><span style="color:#7b2c6a;font-weight:700">PREMIO DE MONTAÑA.</span> 3ª Cat.</div>
<svg class="abs" style="left:355.14px;top:172.39px;overflow:visible" width="13" height="11"><polygon points="6.50,0 13.00,11.00 0,11.00" fill="#5f2753"/><text x="6.50" y="9.35" font-size="5.50" fill="#fff" text-anchor="middle" font-family="Liberation Sans" font-weight="700">3</text></svg>
<div class="t" style="left:432.40px;width:40px;text-align:center;top:175.18px;font-size:6.4px;color:#444;transform:scaleX(0.72)">5,0</div>
<div class="t" style="left:447.50px;width:40px;text-align:center;top:175.18px;font-size:6.4px;color:#444;transform:scaleX(0.72)">97,3</div>
<div class="t" style="left:466.40px;width:40px;text-align:center;top:175.18px;font-size:6.4px;color:#444;transform:scaleX(0.72)">17:07</div>
<div class="t" style="left:484.40px;width:40px;text-align:center;top:175.18px;font-size:6.4px;color:#444;transform:scaleX(0.72)">17:07</div>
<div class="abs" style="left:274.8px;top:182.75px;width:239.00px;height:8.77px;background:#efefec"></div>
<div class="t" style="left:277.80px;top:183.90px;font-size:6.4px;color:#3c3c3c;transform:scaleX(0.8);transform-origin:0 0">Descenso peligroso</div>
<div class="t" style="left:432.40px;width:40px;text-align:center;top:183.90px;font-size:6.4px;color:#444;transform:scaleX(0.72)">8,6</div>
<div class="t" style="left:447.50px;width:40px;text-align:center;top:183.90px;font-size:6.4px;color:#444;transform:scaleX(0.72)">93,7</div>
<div class="t" style="left:466.40px;width:40px;text-align:center;top:183.90px;font-size:6.4px;color:#444;transform:scaleX(0.72)">17:12</div>
<div class="t" style="left:484.40px;width:40px;text-align:center;top:183.90px;font-size:6.4px;color:#444;transform:scaleX(0.72)">17:12</div>
<div class="abs" style="left:274.8px;top:191.47px;width:239.00px;height:8.77px;background:#d2d2cf"></div>
<div class="t" style="left:277.80px;top:192.62px;font-size:6.4px;color:#3c3c3c;transform:scaleX(0.8);transform-origin:0 0"><span style="color:#262626;font-weight:700">CASTILLEJO DE ROBLEDO.</span> Paso estrecho. C/ Real, Plaza Mayor</div>
<div class="t" style="left:432.40px;width:40px;text-align:center;top:192.62px;font-size:6.4px;color:#444;transform:scaleX(0.72)">9,6</div>
<div class="t" style="left:447.50px;width:40px;text-align:center;top:192.62px;font-size:6.4px;color:#444;transform:scaleX(0.72)">92,7</div>
<div class="t" style="left:466.40px;width:40px;text-align:center;top:192.62px;font-size:6.4px;color:#444;transform:scaleX(0.72)">17:14</div>
<div class="t" style="left:484.40px;width:40px;text-align:center;top:192.62px;font-size:6.4px;color:#444;transform:scaleX(0.72)">17:13</div>
<div class="abs" style="left:274.8px;top:200.19px;width:239.00px;height:8.77px;background:#efefec"></div>
<div class="t" style="left:277.80px;top:201.34px;font-size:6.4px;color:#3c3c3c;transform:scaleX(0.8);transform-origin:0 0">Giro derecha por C/ Gregoria Arranz</div>
<div class="t" style="left:432.40px;width:40px;text-align:center;top:201.34px;font-size:6.4px;color:#444;transform:scaleX(0.72)">10,5</div>
<div class="t" style="left:447.50px;width:40px;text-align:center;top:201.34px;font-size:6.4px;color:#444;transform:scaleX(0.72)">91,8</div>
<div class="t" style="left:466.40px;width:40px;text-align:center;top:201.34px;font-size:6.4px;color:#444;transform:scaleX(0.72)">17:15</div>
<div class="t" style="left:484.40px;width:40px;text-align:center;top:201.34px;font-size:6.4px;color:#444;transform:scaleX(0.72)">17:15</div>
<div class="abs" style="left:274.8px;top:208.91px;width:239.00px;height:8.77px;background:#d2d2cf"></div>
<div class="t" style="left:277.80px;top:210.06px;font-size:6.4px;color:#3c3c3c;transform:scaleX(0.8);transform-origin:0 0">Giro izquierda dirección Maderuelo</div>
<div class="t" style="left:432.40px;width:40px;text-align:center;top:210.06px;font-size:6.4px;color:#444;transform:scaleX(0.72)">10,7</div>
<div class="t" style="left:447.50px;width:40px;text-align:center;top:210.06px;font-size:6.4px;color:#444;transform:scaleX(0.72)">91,6</div>
<div class="t" style="left:466.40px;width:40px;text-align:center;top:210.06px;font-size:6.4px;color:#444;transform:scaleX(0.72)">17:16</div>
<div class="t" style="left:484.40px;width:40px;text-align:center;top:210.06px;font-size:6.4px;color:#444;transform:scaleX(0.72)">17:15</div>
<div class="abs" style="left:274.8px;top:217.63px;width:239.00px;height:8.77px;background:#efefec"></div>
<div class="t" style="left:277.80px;top:218.78px;font-size:6.4px;color:#3c3c3c;transform:scaleX(0.8);transform-origin:0 0">Provincia de SEGOVIA</div>
<div class="t" style="left:432.40px;width:40px;text-align:center;top:218.78px;font-size:6.4px;color:#444;transform:scaleX(0.72)">13,9</div>
<div class="t" style="left:447.50px;width:40px;text-align:center;top:218.78px;font-size:6.4px;color:#444;transform:scaleX(0.72)">88,4</div>
<div class="t" style="left:466.40px;width:40px;text-align:center;top:218.78px;font-size:6.4px;color:#444;transform:scaleX(0.72)">17:20</div>
<div class="t" style="left:484.40px;width:40px;text-align:center;top:218.78px;font-size:6.4px;color:#444;transform:scaleX(0.72)">17:19</div>
<div class="abs" style="left:274.8px;top:226.35px;width:239.00px;height:8.77px;background:#d2d2cf"></div>
<div class="t" style="left:277.80px;top:227.50px;font-size:6.4px;color:#3c3c3c;transform:scaleX(0.8);transform-origin:0 0">Giro izquierda dirección Maderuelo. SG-945</div>
<div class="t" style="left:432.40px;width:40px;text-align:center;top:227.50px;font-size:6.4px;color:#444;transform:scaleX(0.72)">15,0</div>
<div class="t" style="left:447.50px;width:40px;text-align:center;top:227.50px;font-size:6.4px;color:#444;transform:scaleX(0.72)">87,3</div>
<div class="t" style="left:466.40px;width:40px;text-align:center;top:227.50px;font-size:6.4px;color:#444;transform:scaleX(0.72)">17:22</div>
<div class="t" style="left:484.40px;width:40px;text-align:center;top:227.50px;font-size:6.4px;color:#444;transform:scaleX(0.72)">17:21</div>
<div class="abs" style="left:274.8px;top:235.07px;width:239.00px;height:8.77px;background:#efefec"></div>
<div class="t" style="left:277.80px;top:236.22px;font-size:6.4px;color:#3c3c3c;transform:scaleX(0.8);transform-origin:0 0">Giro derecha. Puente. Paso estrecho</div>
<div class="t" style="left:432.40px;width:40px;text-align:center;top:236.22px;font-size:6.4px;color:#444;transform:scaleX(0.72)">19,5</div>
<div class="t" style="left:447.50px;width:40px;text-align:center;top:236.22px;font-size:6.4px;color:#444;transform:scaleX(0.72)">82,8</div>
<div class="t" style="left:466.40px;width:40px;text-align:center;top:236.22px;font-size:6.4px;color:#444;transform:scaleX(0.72)">17:29</div>
<div class="t" style="left:484.40px;width:40px;text-align:center;top:236.22px;font-size:6.4px;color:#444;transform:scaleX(0.72)">17:27</div>
<div class="abs" style="left:274.8px;top:243.79px;width:239.00px;height:8.77px;background:#d2d2cf"></div>
<div class="t" style="left:277.80px;top:244.94px;font-size:6.4px;color:#3c3c3c;transform:scaleX(0.8);transform-origin:0 0">Giro derecha dirección Maderuelo, por SG-V-9113</div>
<div class="t" style="left:432.40px;width:40px;text-align:center;top:244.94px;font-size:6.4px;color:#444;transform:scaleX(0.72)">19,8</div>
<div class="t" style="left:447.50px;width:40px;text-align:center;top:244.94px;font-size:6.4px;color:#444;transform:scaleX(0.72)">82,5</div>
<div class="t" style="left:466.40px;width:40px;text-align:center;top:244.94px;font-size:6.4px;color:#444;transform:scaleX(0.72)">17:29</div>
<div class="t" style="left:484.40px;width:40px;text-align:center;top:244.94px;font-size:6.4px;color:#444;transform:scaleX(0.72)">17:28</div>
<div class="abs" style="left:274.8px;top:252.51px;width:239.00px;height:8.77px;background:#efefec"></div>
<div class="t" style="left:277.80px;top:253.66px;font-size:6.4px;color:#3c3c3c;transform:scaleX(0.8);transform-origin:0 0"><span style="color:#37a257;font-weight:700">META VOLANTE.</span> <span style="color:#262626;font-weight:700">MADERUELO</span></div>
<svg class="abs" style="left:358.46px;top:252.62px;overflow:visible" width="8.5" height="8.5"><rect x=".3" y=".3" width="7.90" height="7.90" rx="2.12" fill="#2f9a55" stroke="#1f6a3a" stroke-width=".5"/><rect x="2.55" y="2.97" width="3.40" height="2.55" fill="#fff" opacity=".8"/></svg>
<div class="t" style="left:432.40px;width:40px;text-align:center;top:253.66px;font-size:6.4px;color:#444;transform:scaleX(0.72)">21,5</div>
<div class="t" style="left:447.50px;width:40px;text-align:center;top:253.66px;font-size:6.4px;color:#444;transform:scaleX(0.72)">80,8</div>
<div class="t" style="left:466.40px;width:40px;text-align:center;top:253.66px;font-size:6.4px;color:#444;transform:scaleX(0.72)">17:32</div>
<div class="t" style="left:484.40px;width:40px;text-align:center;top:253.66px;font-size:6.4px;color:#444;transform:scaleX(0.72)">17:30</div>
<div class="abs" style="left:274.8px;top:261.23px;width:239.00px;height:8.77px;background:#d2d2cf"></div>
<div class="t" style="left:277.80px;top:262.38px;font-size:6.4px;color:#3c3c3c;transform:scaleX(0.8);transform-origin:0 0"><span style="color:#262626;font-weight:700">FUENTEMIZARRA.</span> Paso población. Precaución</div>
<div class="t" style="left:432.40px;width:40px;text-align:center;top:262.38px;font-size:6.4px;color:#444;transform:scaleX(0.72)">25,8</div>
<div class="t" style="left:447.50px;width:40px;text-align:center;top:262.38px;font-size:6.4px;color:#444;transform:scaleX(0.72)">76,5</div>
<div class="t" style="left:466.40px;width:40px;text-align:center;top:262.38px;font-size:6.4px;color:#444;transform:scaleX(0.72)">17:38</div>
<div class="t" style="left:484.40px;width:40px;text-align:center;top:262.38px;font-size:6.4px;color:#444;transform:scaleX(0.72)">17:36</div>
<div class="abs" style="left:274.8px;top:269.95px;width:239.00px;height:8.77px;background:#efefec"></div>
<div class="t" style="left:277.80px;top:271.10px;font-size:6.4px;color:#3c3c3c;transform:scaleX(0.8);transform-origin:0 0">Giro derecha por SG-V-9322</div>
<div class="t" style="left:432.40px;width:40px;text-align:center;top:271.10px;font-size:6.4px;color:#444;transform:scaleX(0.72)">25,9</div>
<div class="t" style="left:447.50px;width:40px;text-align:center;top:271.10px;font-size:6.4px;color:#444;transform:scaleX(0.72)">76,4</div>
<div class="t" style="left:466.40px;width:40px;text-align:center;top:271.10px;font-size:6.4px;color:#444;transform:scaleX(0.72)">17:38</div>
<div class="t" style="left:484.40px;width:40px;text-align:center;top:271.10px;font-size:6.4px;color:#444;transform:scaleX(0.72)">17:37</div>
<div class="abs" style="left:274.8px;top:278.67px;width:239.00px;height:8.77px;background:#d2d2cf"></div>
<div class="t" style="left:277.80px;top:279.82px;font-size:6.4px;color:#3c3c3c;transform:scaleX(0.8);transform-origin:0 0">Giro izquierda muy peligroso. Paso estrecho</div>
<div class="t" style="left:432.40px;width:40px;text-align:center;top:279.82px;font-size:6.4px;color:#444;transform:scaleX(0.72)">26,2</div>
<div class="t" style="left:447.50px;width:40px;text-align:center;top:279.82px;font-size:6.4px;color:#444;transform:scaleX(0.72)">76,1</div>
<div class="t" style="left:466.40px;width:40px;text-align:center;top:279.82px;font-size:6.4px;color:#444;transform:scaleX(0.72)">17:39</div>
<div class="t" style="left:484.40px;width:40px;text-align:center;top:279.82px;font-size:6.4px;color:#444;transform:scaleX(0.72)">17:37</div>
<div class="abs" style="left:274.8px;top:287.38px;width:239.00px;height:8.77px;background:#efefec"></div>
<div class="t" style="left:277.80px;top:288.53px;font-size:6.4px;color:#3c3c3c;transform:scaleX(0.8);transform-origin:0 0">Giro izquierda, dirección Carabias. Paso estrecho. Camino asfaltado</div>
<div class="t" style="left:432.40px;width:40px;text-align:center;top:288.53px;font-size:6.4px;color:#444;transform:scaleX(0.72)">30,7</div>
<div class="t" style="left:447.50px;width:40px;text-align:center;top:288.53px;font-size:6.4px;color:#444;transform:scaleX(0.72)">71,6</div>
<div class="t" style="left:466.40px;width:40px;text-align:center;top:288.53px;font-size:6.4px;color:#444;transform:scaleX(0.72)">17:44</div>
<div class="t" style="left:484.40px;width:40px;text-align:center;top:288.53px;font-size:6.4px;color:#444;transform:scaleX(0.72)">17:43</div>
<div class="abs" style="left:274.8px;top:296.10px;width:239.00px;height:8.77px;background:#d2d2cf"></div>
<div class="t" style="left:277.80px;top:297.25px;font-size:6.4px;color:#3c3c3c;transform:scaleX(0.8);transform-origin:0 0">Giro izquierda dirección Carabias</div>
<div class="t" style="left:432.40px;width:40px;text-align:center;top:297.25px;font-size:6.4px;color:#444;transform:scaleX(0.72)">31,5</div>
<div class="t" style="left:447.50px;width:40px;text-align:center;top:297.25px;font-size:6.4px;color:#444;transform:scaleX(0.72)">70,8</div>
<div class="t" style="left:466.40px;width:40px;text-align:center;top:297.25px;font-size:6.4px;color:#444;transform:scaleX(0.72)">17:47</div>
<div class="t" style="left:484.40px;width:40px;text-align:center;top:297.25px;font-size:6.4px;color:#444;transform:scaleX(0.72)">17:45</div>
<div class="abs" style="left:274.8px;top:304.82px;width:239.00px;height:8.77px;background:#efefec"></div>
<div class="t" style="left:277.80px;top:305.97px;font-size:6.4px;color:#3c3c3c;transform:scaleX(0.8);transform-origin:0 0">Giro derecha, dirección Carabias SG-V-9101</div>
<div class="t" style="left:432.40px;width:40px;text-align:center;top:305.97px;font-size:6.4px;color:#444;transform:scaleX(0.72)">36,5</div>
<div class="t" style="left:447.50px;width:40px;text-align:center;top:305.97px;font-size:6.4px;color:#444;transform:scaleX(0.72)">65,8</div>
<div class="t" style="left:466.40px;width:40px;text-align:center;top:305.97px;font-size:6.4px;color:#444;transform:scaleX(0.72)">17:54</div>
<div class="t" style="left:484.40px;width:40px;text-align:center;top:305.97px;font-size:6.4px;color:#444;transform:scaleX(0.72)">17:52</div>
<div class="abs" style="left:274.8px;top:313.54px;width:239.00px;height:8.77px;background:#d2d2cf"></div>
<div class="t" style="left:277.80px;top:314.69px;font-size:6.4px;color:#3c3c3c;transform:scaleX(0.8);transform-origin:0 0"><span style="color:#e49a4c;font-weight:700">SPRINT ESPECIAL.</span> <span style="color:#262626;font-weight:700">CARABIAS</span></div>
<svg class="abs" style="left:358.47px;top:312.90px;overflow:visible" width="10.5" height="10"><ellipse cx="5.25" cy="5.00" rx="4.75" ry="4.50" fill="#d3822f" stroke="#6a3a10" stroke-width=".9"/><rect x="3.67" y="3.80" width="3.15" height="2.40" fill="#fff" opacity=".7"/></svg>
<div class="t" style="left:432.40px;width:40px;text-align:center;top:314.69px;font-size:6.4px;color:#444;transform:scaleX(0.72)">36,7</div>
<div class="t" style="left:447.50px;width:40px;text-align:center;top:314.69px;font-size:6.4px;color:#444;transform:scaleX(0.72)">65,6</div>
<div class="t" style="left:466.40px;width:40px;text-align:center;top:314.69px;font-size:6.4px;color:#444;transform:scaleX(0.72)">17:55</div>
<div class="t" style="left:484.40px;width:40px;text-align:center;top:314.69px;font-size:6.4px;color:#444;transform:scaleX(0.72)">17:52</div>
<div class="abs" style="left:274.8px;top:322.26px;width:239.00px;height:8.77px;background:#efefec"></div>
<div class="t" style="left:277.80px;top:323.41px;font-size:6.4px;color:#3c3c3c;transform:scaleX(0.8);transform-origin:0 0">Giro derecha por antigua N1</div>
<div class="t" style="left:432.40px;width:40px;text-align:center;top:323.41px;font-size:6.4px;color:#444;transform:scaleX(0.72)">37,0</div>
<div class="t" style="left:447.50px;width:40px;text-align:center;top:323.41px;font-size:6.4px;color:#444;transform:scaleX(0.72)">65,3</div>
<div class="t" style="left:466.40px;width:40px;text-align:center;top:323.41px;font-size:6.4px;color:#444;transform:scaleX(0.72)">17:55</div>
<div class="t" style="left:484.40px;width:40px;text-align:center;top:323.41px;font-size:6.4px;color:#444;transform:scaleX(0.72)">17:52</div>
<div class="abs" style="left:274.8px;top:330.98px;width:239.00px;height:8.77px;background:#d2d2cf"></div>
<div class="t" style="left:277.80px;top:332.13px;font-size:6.4px;color:#3c3c3c;transform:scaleX(0.8);transform-origin:0 0">Giro izda. dirección Aldeanueva, por SGV-2414</div>
<div class="t" style="left:432.40px;width:40px;text-align:center;top:332.13px;font-size:6.4px;color:#444;transform:scaleX(0.72)">37,9</div>
<div class="t" style="left:447.50px;width:40px;text-align:center;top:332.13px;font-size:6.4px;color:#444;transform:scaleX(0.72)">64,4</div>
<div class="t" style="left:466.40px;width:40px;text-align:center;top:332.13px;font-size:6.4px;color:#444;transform:scaleX(0.72)">17:56</div>
<div class="t" style="left:484.40px;width:40px;text-align:center;top:332.13px;font-size:6.4px;color:#444;transform:scaleX(0.72)">17:54</div>
<div class="abs" style="left:274.8px;top:339.70px;width:239.00px;height:8.77px;background:#efefec"></div>
<div class="t" style="left:277.80px;top:340.85px;font-size:6.4px;color:#3c3c3c;transform:scaleX(0.8);transform-origin:0 0"><span style="color:#262626;font-weight:700">PRADALES.</span> Paso estrecho. C/ Pozo</div>
<div class="t" style="left:432.40px;width:40px;text-align:center;top:340.85px;font-size:6.4px;color:#444;transform:scaleX(0.72)">40,6</div>
<div class="t" style="left:447.50px;width:40px;text-align:center;top:340.85px;font-size:6.4px;color:#444;transform:scaleX(0.72)">61,7</div>
<div class="t" style="left:466.40px;width:40px;text-align:center;top:340.85px;font-size:6.4px;color:#444;transform:scaleX(0.72)">18:00</div>
<div class="t" style="left:484.40px;width:40px;text-align:center;top:340.85px;font-size:6.4px;color:#444;transform:scaleX(0.72)">17:58</div>
<div class="abs" style="left:274.8px;top:348.42px;width:239.00px;height:17.49px;background:#d2d2cf"></div>
<div class="t" style="left:277.80px;top:349.57px;font-size:6.4px;color:#3c3c3c;transform:scaleX(0.8);transform-origin:0 0"><span style="color:#262626;font-weight:700">ALDEANUEVA DE LA SERREZUELA</span></div>
<div class="t" style="left:277.80px;top:358.29px;font-size:6.4px;color:#3c3c3c;transform:scaleX(0.8);transform-origin:0 0">Paso muy estrecho. Giro izquierda SG-V-2414. Ctra. De Madrid</div>
<div class="t" style="left:432.40px;width:40px;text-align:center;top:349.57px;font-size:6.4px;color:#444;transform:scaleX(0.72)">47,3</div>
<div class="t" style="left:447.50px;width:40px;text-align:center;top:349.57px;font-size:6.4px;color:#444;transform:scaleX(0.72)">55,0</div>
<div class="t" style="left:466.40px;width:40px;text-align:center;top:349.57px;font-size:6.4px;color:#444;transform:scaleX(0.72)">18:10</div>
<div class="t" style="left:484.40px;width:40px;text-align:center;top:349.57px;font-size:6.4px;color:#444;transform:scaleX(0.72)">18:07</div>
<div class="abs" style="left:274.8px;top:365.86px;width:239.00px;height:8.77px;background:#efefec"></div>
<div class="t" style="left:277.80px;top:367.01px;font-size:6.4px;color:#3c3c3c;transform:scaleX(0.8);transform-origin:0 0">Giro izquierda. Paso muy estrecho. C/ Don Victoriano Hernando</div>
<div class="t" style="left:432.40px;width:40px;text-align:center;top:367.01px;font-size:6.4px;color:#444;transform:scaleX(0.72)">47,4</div>
<div class="t" style="left:447.50px;width:40px;text-align:center;top:367.01px;font-size:6.4px;color:#444;transform:scaleX(0.72)">54,9</div>
<div class="t" style="left:466.40px;width:40px;text-align:center;top:367.01px;font-size:6.4px;color:#444;transform:scaleX(0.72)">18:11</div>
<div class="t" style="left:484.40px;width:40px;text-align:center;top:367.01px;font-size:6.4px;color:#444;transform:scaleX(0.72)">18:07</div>
<div class="abs" style="left:274.8px;top:374.58px;width:239.00px;height:8.77px;background:#d2d2cf"></div>
<div class="t" style="left:277.80px;top:375.73px;font-size:6.4px;color:#3c3c3c;transform:scaleX(0.8);transform-origin:0 0">Giro izquierda muy peligroso. Seguir por SGV-2201</div>
<div class="t" style="left:432.40px;width:40px;text-align:center;top:375.73px;font-size:6.4px;color:#444;transform:scaleX(0.72)">47,7</div>
<div class="t" style="left:447.50px;width:40px;text-align:center;top:375.73px;font-size:6.4px;color:#444;transform:scaleX(0.72)">54,6</div>
<div class="t" style="left:466.40px;width:40px;text-align:center;top:375.73px;font-size:6.4px;color:#444;transform:scaleX(0.72)">18:11</div>
<div class="t" style="left:484.40px;width:40px;text-align:center;top:375.73px;font-size:6.4px;color:#444;transform:scaleX(0.72)">18:08</div>
<div class="abs" style="left:274.8px;top:383.30px;width:239.00px;height:8.77px;background:#efefec"></div>
<div class="t" style="left:277.80px;top:384.45px;font-size:6.4px;color:#3c3c3c;transform:scaleX(0.8);transform-origin:0 0">Comienza puerto.</div>
<div class="t" style="left:432.40px;width:40px;text-align:center;top:384.45px;font-size:6.4px;color:#444;transform:scaleX(0.72)">48,3</div>
<div class="t" style="left:447.50px;width:40px;text-align:center;top:384.45px;font-size:6.4px;color:#444;transform:scaleX(0.72)">54,0</div>
<div class="t" style="left:466.40px;width:40px;text-align:center;top:384.45px;font-size:6.4px;color:#444;transform:scaleX(0.72)">18:12</div>
<div class="t" style="left:484.40px;width:40px;text-align:center;top:384.45px;font-size:6.4px;color:#444;transform:scaleX(0.72)">18:09</div>
<div class="abs" style="left:274.8px;top:392.02px;width:239.00px;height:8.77px;background:#d2d2cf"></div>
<div class="t" style="left:277.80px;top:393.17px;font-size:6.4px;color:#3c3c3c;transform:scaleX(0.8);transform-origin:0 0"><span style="color:#7b2c6a;font-weight:700">PREMIO DE MONTAÑA.</span> 2ª Cat.</div>
<svg class="abs" style="left:355.14px;top:390.38px;overflow:visible" width="13" height="11"><polygon points="6.50,0 13.00,11.00 0,11.00" fill="#5f2753"/><text x="6.50" y="9.35" font-size="5.50" fill="#fff" text-anchor="middle" font-family="Liberation Sans" font-weight="700">3</text></svg>
<div class="t" style="left:432.40px;width:40px;text-align:center;top:393.17px;font-size:6.4px;color:#444;transform:scaleX(0.72)">50,4</div>
<div class="t" style="left:447.50px;width:40px;text-align:center;top:393.17px;font-size:6.4px;color:#444;transform:scaleX(0.72)">51,9</div>
<div class="t" style="left:466.40px;width:40px;text-align:center;top:393.17px;font-size:6.4px;color:#444;transform:scaleX(0.72)">18:15</div>
<div class="t" style="left:484.40px;width:40px;text-align:center;top:393.17px;font-size:6.4px;color:#444;transform:scaleX(0.72)">18:12</div>
<div class="abs" style="left:274.8px;top:400.73px;width:239.00px;height:8.77px;background:#efefec"></div>
<div class="t" style="left:277.80px;top:401.88px;font-size:6.4px;color:#3c3c3c;transform:scaleX(0.8);transform-origin:0 0"><span style="color:#262626;font-weight:700">NAVARES DE LAS CUEVAS</span></div>
<div class="t" style="left:432.40px;width:40px;text-align:center;top:401.88px;font-size:6.4px;color:#444;transform:scaleX(0.72)">54,6</div>
<div class="t" style="left:447.50px;width:40px;text-align:center;top:401.88px;font-size:6.4px;color:#444;transform:scaleX(0.72)">47,7</div>
<div class="t" style="left:466.40px;width:40px;text-align:center;top:401.88px;font-size:6.4px;color:#444;transform:scaleX(0.72)">18:21</div>
<div class="t" style="left:484.40px;width:40px;text-align:center;top:401.88px;font-size:6.4px;color:#444;transform:scaleX(0.72)">18:18</div>
<div class="abs" style="left:274.8px;top:409.45px;width:239.00px;height:8.77px;background:#d2d2cf"></div>
<div class="t" style="left:277.80px;top:410.60px;font-size:6.4px;color:#3c3c3c;transform:scaleX(0.8);transform-origin:0 0">Giro derecha, dirección Castrosarracín. C/ de la Fuente. SG-241</div>
<div class="t" style="left:432.40px;width:40px;text-align:center;top:410.60px;font-size:6.4px;color:#444;transform:scaleX(0.72)">54,9</div>
<div class="t" style="left:447.50px;width:40px;text-align:center;top:410.60px;font-size:6.4px;color:#444;transform:scaleX(0.72)">47,4</div>
<div class="t" style="left:466.40px;width:40px;text-align:center;top:410.60px;font-size:6.4px;color:#444;transform:scaleX(0.72)">18:22</div>
<div class="t" style="left:484.40px;width:40px;text-align:center;top:410.60px;font-size:6.4px;color:#444;transform:scaleX(0.72)">18:18</div>
<div class="abs" style="left:274.8px;top:418.17px;width:239.00px;height:8.77px;background:#efefec"></div>
<div class="t" style="left:277.80px;top:419.32px;font-size:6.4px;color:#3c3c3c;transform:scaleX(0.8);transform-origin:0 0">Tramos cortos de firme irregular. SG-241</div>
<div class="t" style="left:432.40px;width:40px;text-align:center;top:419.32px;font-size:6.4px;color:#444;transform:scaleX(0.72)">57,4</div>
<div class="t" style="left:447.50px;width:40px;text-align:center;top:419.32px;font-size:6.4px;color:#444;transform:scaleX(0.72)">44,9</div>
<div class="t" style="left:466.40px;width:40px;text-align:center;top:419.32px;font-size:6.4px;color:#444;transform:scaleX(0.72)">18:26</div>
<div class="t" style="left:484.40px;width:40px;text-align:center;top:419.32px;font-size:6.4px;color:#444;transform:scaleX(0.72)">18:22</div>
<div class="abs" style="left:274.8px;top:426.89px;width:239.00px;height:8.77px;background:#d2d2cf"></div>
<div class="t" style="left:277.80px;top:428.04px;font-size:6.4px;color:#3c3c3c;transform:scaleX(0.8);transform-origin:0 0">Giro dcha. por SG241, dirección Sacramenia</div>
<div class="t" style="left:432.40px;width:40px;text-align:center;top:428.04px;font-size:6.4px;color:#444;transform:scaleX(0.72)">60,4</div>
<div class="t" style="left:447.50px;width:40px;text-align:center;top:428.04px;font-size:6.4px;color:#444;transform:scaleX(0.72)">41,9</div>
<div class="t" style="left:466.40px;width:40px;text-align:center;top:428.04px;font-size:6.4px;color:#444;transform:scaleX(0.72)">18:30</div>
<div class="t" style="left:484.40px;width:40px;text-align:center;top:428.04px;font-size:6.4px;color:#444;transform:scaleX(0.72)">18:26</div>
<div class="abs" style="left:274.8px;top:435.61px;width:239.00px;height:8.77px;background:#efefec"></div>
<div class="t" style="left:277.80px;top:436.76px;font-size:6.4px;color:#3c3c3c;transform:scaleX(0.8);transform-origin:0 0"><span style="color:#262626;font-weight:700">CASTRO DE FUENTIDUEÑA.</span> Paso de población</div>
<div class="t" style="left:432.40px;width:40px;text-align:center;top:436.76px;font-size:6.4px;color:#444;transform:scaleX(0.72)">65,2</div>
<div class="t" style="left:447.50px;width:40px;text-align:center;top:436.76px;font-size:6.4px;color:#444;transform:scaleX(0.72)">37,1</div>
<div class="t" style="left:466.40px;width:40px;text-align:center;top:436.76px;font-size:6.4px;color:#444;transform:scaleX(0.72)">18:37</div>
<div class="t" style="left:484.40px;width:40px;text-align:center;top:436.76px;font-size:6.4px;color:#444;transform:scaleX(0.72)">18:33</div>
<div class="abs" style="left:274.8px;top:444.33px;width:239.00px;height:8.77px;background:#d2d2cf"></div>
<div class="t" style="left:277.80px;top:445.48px;font-size:6.4px;color:#3c3c3c;transform:scaleX(0.8);transform-origin:0 0">Rotonda cruce con CL-603. Tomar salida dirección Sacramenia. SG-241.</div>
<div class="t" style="left:432.40px;width:40px;text-align:center;top:445.48px;font-size:6.4px;color:#444;transform:scaleX(0.72)">70,2</div>
<div class="t" style="left:447.50px;width:40px;text-align:center;top:445.48px;font-size:6.4px;color:#444;transform:scaleX(0.72)">32,1</div>
<div class="t" style="left:466.40px;width:40px;text-align:center;top:445.48px;font-size:6.4px;color:#444;transform:scaleX(0.72)">18:45</div>
<div class="t" style="left:484.40px;width:40px;text-align:center;top:445.48px;font-size:6.4px;color:#444;transform:scaleX(0.72)">18:40</div>
<div class="abs" style="left:274.8px;top:453.05px;width:239.00px;height:8.77px;background:#efefec"></div>
<div class="t" style="left:277.80px;top:454.20px;font-size:6.4px;color:#3c3c3c;transform:scaleX(0.8);transform-origin:0 0"><span style="color:#262626;font-weight:700">VALTIENDAS.</span> Paso estrecho población. C/ La Fuente</div>
<div class="t" style="left:432.40px;width:40px;text-align:center;top:454.20px;font-size:6.4px;color:#444;transform:scaleX(0.72)">74,3</div>
<div class="t" style="left:447.50px;width:40px;text-align:center;top:454.20px;font-size:6.4px;color:#444;transform:scaleX(0.72)">28,0</div>
<div class="t" style="left:466.40px;width:40px;text-align:center;top:454.20px;font-size:6.4px;color:#444;transform:scaleX(0.72)">18:51</div>
<div class="t" style="left:484.40px;width:40px;text-align:center;top:454.20px;font-size:6.4px;color:#444;transform:scaleX(0.72)">18:46</div>
<div class="abs" style="left:274.8px;top:461.77px;width:239.00px;height:8.77px;background:#d2d2cf"></div>
<div class="t" style="left:277.80px;top:462.92px;font-size:6.4px;color:#3c3c3c;transform:scaleX(0.8);transform-origin:0 0">Precaución estrechamiento. SG-241.</div>
<div class="t" style="left:432.40px;width:40px;text-align:center;top:462.92px;font-size:6.4px;color:#444;transform:scaleX(0.72)">77,0</div>
<div class="t" style="left:447.50px;width:40px;text-align:center;top:462.92px;font-size:6.4px;color:#444;transform:scaleX(0.72)">25,3</div>
<div class="t" style="left:466.40px;width:40px;text-align:center;top:462.92px;font-size:6.4px;color:#444;transform:scaleX(0.72)">18:55</div>
<div class="t" style="left:484.40px;width:40px;text-align:center;top:462.92px;font-size:6.4px;color:#444;transform:scaleX(0.72)">18:50</div>
<div class="abs" style="left:274.8px;top:470.49px;width:239.00px;height:8.77px;background:#efefec"></div>
<div class="t" style="left:277.80px;top:471.64px;font-size:6.4px;color:#3c3c3c;transform:scaleX(0.8);transform-origin:0 0"><span style="color:#37a257;font-weight:700">META VOLANTE.</span> <span style="color:#262626;font-weight:700">SACRAMENIA.</span> Paso de población</div>
<svg class="abs" style="left:405.14px;top:470.60px;overflow:visible" width="8.5" height="8.5"><rect x=".3" y=".3" width="7.90" height="7.90" rx="2.12" fill="#2f9a55" stroke="#1f6a3a" stroke-width=".5"/><rect x="2.55" y="2.97" width="3.40" height="2.55" fill="#fff" opacity=".8"/></svg>
<div class="t" style="left:432.40px;width:40px;text-align:center;top:471.64px;font-size:6.4px;color:#444;transform:scaleX(0.72)">79,4</div>
<div class="t" style="left:447.50px;width:40px;text-align:center;top:471.64px;font-size:6.4px;color:#444;transform:scaleX(0.72)">22,9</div>
<div class="t" style="left:466.40px;width:40px;text-align:center;top:471.64px;font-size:6.4px;color:#444;transform:scaleX(0.72)">18:59</div>
<div class="t" style="left:484.40px;width:40px;text-align:center;top:471.64px;font-size:6.4px;color:#444;transform:scaleX(0.72)">18:53</div>
<div class="abs" style="left:274.8px;top:479.21px;width:239.00px;height:8.77px;background:#d2d2cf"></div>
<div class="t" style="left:277.80px;top:480.36px;font-size:6.4px;color:#3c3c3c;transform:scaleX(0.8);transform-origin:0 0">Giro derecha por C/ Cuevas de Provanco. SG-2111.</div>
<div class="t" style="left:432.40px;width:40px;text-align:center;top:480.36px;font-size:6.4px;color:#444;transform:scaleX(0.72)">79,4</div>
<div class="t" style="left:447.50px;width:40px;text-align:center;top:480.36px;font-size:6.4px;color:#444;transform:scaleX(0.72)">22,9</div>
<div class="t" style="left:466.40px;width:40px;text-align:center;top:480.36px;font-size:6.4px;color:#444;transform:scaleX(0.72)">18:59</div>
<div class="t" style="left:484.40px;width:40px;text-align:center;top:480.36px;font-size:6.4px;color:#444;transform:scaleX(0.72)">18:53</div>
<div class="abs" style="left:274.8px;top:487.93px;width:239.00px;height:17.49px;background:#efefec"></div>
<div class="t" style="left:277.80px;top:489.08px;font-size:6.4px;color:#3c3c3c;transform:scaleX(0.8);transform-origin:0 0"><span style="color:#262626;font-weight:700">CUEVAS DE PROVANCO</span></div>
<div class="t" style="left:277.80px;top:497.80px;font-size:6.4px;color:#3c3c3c;transform:scaleX(0.8);transform-origin:0 0">Firme en mal estado. Dirección Castrillo de Duero por SG-V-2111</div>
<div class="t" style="left:432.40px;width:40px;text-align:center;top:489.08px;font-size:6.4px;color:#444;transform:scaleX(0.72)">85,8</div>
<div class="t" style="left:447.50px;width:40px;text-align:center;top:489.08px;font-size:6.4px;color:#444;transform:scaleX(0.72)">16,5</div>
<div class="t" style="left:466.40px;width:40px;text-align:center;top:489.08px;font-size:6.4px;color:#444;transform:scaleX(0.72)">19:08</div>
<div class="t" style="left:484.40px;width:40px;text-align:center;top:489.08px;font-size:6.4px;color:#444;transform:scaleX(0.72)">19:02</div>
<div class="abs" style="left:274.8px;top:505.37px;width:239.00px;height:8.77px;background:#d2d2cf"></div>
<div class="t" style="left:277.80px;top:506.52px;font-size:6.4px;color:#3c3c3c;transform:scaleX(0.8);transform-origin:0 0">Provincia de VALLADOLID</div>
<div class="t" style="left:432.40px;width:40px;text-align:center;top:506.52px;font-size:6.4px;color:#444;transform:scaleX(0.72)">86,4</div>
<div class="t" style="left:447.50px;width:40px;text-align:center;top:506.52px;font-size:6.4px;color:#444;transform:scaleX(0.72)">15,9</div>
<div class="t" style="left:466.40px;width:40px;text-align:center;top:506.52px;font-size:6.4px;color:#444;transform:scaleX(0.72)">19:09</div>
<div class="t" style="left:484.40px;width:40px;text-align:center;top:506.52px;font-size:6.4px;color:#444;transform:scaleX(0.72)">19:03</div>
<div class="abs" style="left:274.8px;top:514.08px;width:239.00px;height:17.49px;background:#efefec"></div>
<div class="t" style="left:277.80px;top:515.23px;font-size:6.4px;color:#3c3c3c;transform:scaleX(0.8);transform-origin:0 0"><span style="color:#e49a4c;font-weight:700">SPRINT ESPECIAL.</span> <span style="color:#262626;font-weight:700">CASTRILLO DE DUERO</span></div>
<div class="t" style="left:277.80px;top:523.95px;font-size:6.4px;color:#3c3c3c;transform:scaleX(0.8);transform-origin:0 0">Paso de población. Continuar por VA VP 2006, dirección Peñafiel</div>
<svg class="abs" style="left:430.61px;top:517.80px;overflow:visible" width="10.5" height="10"><ellipse cx="5.25" cy="5.00" rx="4.75" ry="4.50" fill="#d3822f" stroke="#6a3a10" stroke-width=".9"/><rect x="3.67" y="3.80" width="3.15" height="2.40" fill="#fff" opacity=".7"/></svg>
<div class="t" style="left:432.40px;width:40px;text-align:center;top:515.23px;font-size:6.4px;color:#444;transform:scaleX(0.72)">91,9</div>
<div class="t" style="left:447.50px;width:40px;text-align:center;top:515.23px;font-size:6.4px;color:#444;transform:scaleX(0.72)">10,4</div>
<div class="t" style="left:466.40px;width:40px;text-align:center;top:515.23px;font-size:6.4px;color:#444;transform:scaleX(0.72)">19:17</div>
<div class="t" style="left:484.40px;width:40px;text-align:center;top:515.23px;font-size:6.4px;color:#444;transform:scaleX(0.72)">19:11</div>
<div class="abs" style="left:274.8px;top:531.52px;width:239.00px;height:8.77px;background:#d2d2cf"></div>
<div class="t" style="left:277.80px;top:532.67px;font-size:6.4px;color:#3c3c3c;transform:scaleX(0.8);transform-origin:0 0">Continuar por VA-VP-2006 dirección Peñafiel</div>
<div class="t" style="left:432.40px;width:40px;text-align:center;top:532.67px;font-size:6.4px;color:#444;transform:scaleX(0.72)">92,6</div>
<div class="t" style="left:447.50px;width:40px;text-align:center;top:532.67px;font-size:6.4px;color:#444;transform:scaleX(0.72)">9,7</div>
<div class="t" style="left:466.40px;width:40px;text-align:center;top:532.67px;font-size:6.4px;color:#444;transform:scaleX(0.72)">19:18</div>
<div class="t" style="left:484.40px;width:40px;text-align:center;top:532.67px;font-size:6.4px;color:#444;transform:scaleX(0.72)">19:12</div>
<div class="abs" style="left:274.8px;top:540.24px;width:239.00px;height:8.77px;background:#efefec"></div>
<div class="t" style="left:277.80px;top:541.39px;font-size:6.4px;color:#3c3c3c;transform:scaleX(0.8);transform-origin:0 0"><span style="color:#262626;font-weight:700">MÉLIDA.</span> Paso población. VA-VP-2006</div>
<div class="t" style="left:432.40px;width:40px;text-align:center;top:541.39px;font-size:6.4px;color:#444;transform:scaleX(0.72)">97,7</div>
<div class="t" style="left:447.50px;width:40px;text-align:center;top:541.39px;font-size:6.4px;color:#444;transform:scaleX(0.72)">4,6</div>
<div class="t" style="left:466.40px;width:40px;text-align:center;top:541.39px;font-size:6.4px;color:#444;transform:scaleX(0.72)">19:26</div>
<div class="t" style="left:484.40px;width:40px;text-align:center;top:541.39px;font-size:6.4px;color:#444;transform:scaleX(0.72)">19:19</div>
<div class="abs" style="left:274.8px;top:548.96px;width:239.00px;height:8.77px;background:#d2d2cf"></div>
<div class="t" style="left:277.80px;top:550.11px;font-size:6.4px;color:#3c3c3c;transform:scaleX(0.8);transform-origin:0 0"><span style="color:#262626;font-weight:700">PEÑAFIEL.</span> Giro derecha C/ Subida al Castillo</div>
<div class="t" style="left:432.40px;width:40px;text-align:center;top:550.11px;font-size:6.4px;color:#444;transform:scaleX(0.72)">101,4</div>
<div class="t" style="left:447.50px;width:40px;text-align:center;top:550.11px;font-size:6.4px;color:#444;transform:scaleX(0.72)">0,9</div>
<div class="t" style="left:466.40px;width:40px;text-align:center;top:550.11px;font-size:6.4px;color:#444;transform:scaleX(0.72)">19:32</div>
<div class="t" style="left:484.40px;width:40px;text-align:center;top:550.11px;font-size:6.4px;color:#444;transform:scaleX(0.72)">19:24</div>
<div class="abs" style="left:274.8px;top:557.68px;width:239.00px;height:8.77px;background:#efefec"></div>
<div class="t" style="left:277.80px;top:558.83px;font-size:6.4px;color:#3c3c3c;transform:scaleX(0.8);transform-origin:0 0"><span style="color:#c4377f;font-weight:700">META.</span> Castillo de Peñafiel</div>
<div class="t" style="left:432.40px;width:40px;text-align:center;top:558.83px;font-size:6.4px;color:#444;transform:scaleX(0.72)">102,3</div>
<div class="t" style="left:447.50px;width:40px;text-align:center;top:558.83px;font-size:6.4px;color:#444;transform:scaleX(0.72)">0,0</div>
<div class="t" style="left:466.40px;width:40px;text-align:center;top:558.83px;font-size:6.4px;color:#444;transform:scaleX(0.72)">19:31</div>
<div class="t" style="left:484.40px;width:40px;text-align:center;top:558.83px;font-size:6.4px;color:#444;transform:scaleX(0.72)">19:26</div>
<div class="abs" style="left:543.7px;top:113.00px;width:236.30px;height:10.26px;background:#efefec"></div>
<div class="t" style="left:545.50px;top:114.29px;font-size:7.6px;color:#3c3c3c;transform:scaleX(0.625);transform-origin:0 0">SAN ESTEBAN DE GORMAZ. SALIDA NEUTRALIZADA</div>
<div class="t" style="left:693.25px;width:40px;text-align:center;top:114.29px;font-size:7.6px;color:#444;transform:scaleX(0.6)">0,0</div>
<div class="t" style="left:710.25px;width:40px;text-align:center;top:114.29px;font-size:7.6px;color:#444;transform:scaleX(0.6)">97,7</div>
<div class="t" style="left:730.25px;width:40px;text-align:center;top:114.29px;font-size:7.6px;color:#444;transform:scaleX(0.6)">10:00</div>
<div class="t" style="left:748.25px;width:40px;text-align:center;top:114.29px;font-size:7.6px;color:#444;transform:scaleX(0.6)">10:00</div>
<div class="abs" style="left:543.7px;top:123.21px;width:236.30px;height:10.26px;background:#d2d2cf"></div>
<div class="t" style="left:545.50px;top:124.50px;font-size:7.6px;color:#3c3c3c;transform:scaleX(0.625);transform-origin:0 0">Avda. Valladolid dirección Soria N-110</div>
<div class="t" style="left:693.25px;width:40px;text-align:center;top:124.50px;font-size:7.6px;color:#444;transform:scaleX(0.6)">0,0</div>
<div class="t" style="left:710.25px;width:40px;text-align:center;top:124.50px;font-size:7.6px;color:#444;transform:scaleX(0.6)">97,7</div>
<div class="t" style="left:730.25px;width:40px;text-align:center;top:124.50px;font-size:7.6px;color:#444;transform:scaleX(0.6)">10:00</div>
<div class="t" style="left:748.25px;width:40px;text-align:center;top:124.50px;font-size:7.6px;color:#444;transform:scaleX(0.6)">10:00</div>
<div class="abs" style="left:543.7px;top:133.42px;width:236.30px;height:10.26px;background:#efefec"></div>
<div class="t" style="left:545.50px;top:134.71px;font-size:7.6px;color:#3c3c3c;transform:scaleX(0.625);transform-origin:0 0"><span style="color:#c4377f;font-weight:700">SALIDA REAL.</span> <span style="color:#262626;font-weight:700">Harinera</span></div>
<div class="t" style="left:693.25px;width:40px;text-align:center;top:134.71px;font-size:7.6px;color:#444;transform:scaleX(0.6)">0,0</div>
<div class="t" style="left:710.25px;width:40px;text-align:center;top:134.71px;font-size:7.6px;color:#444;transform:scaleX(0.6)">97,7</div>
<div class="t" style="left:730.25px;width:40px;text-align:center;top:134.71px;font-size:7.6px;color:#444;transform:scaleX(0.6)">10:00</div>
<div class="t" style="left:748.25px;width:40px;text-align:center;top:134.71px;font-size:7.6px;color:#444;transform:scaleX(0.6)">10:00</div>
<div class="abs" style="left:543.7px;top:143.63px;width:236.30px;height:10.26px;background:#d2d2cf"></div>
<div class="t" style="left:545.50px;top:144.93px;font-size:7.6px;color:#3c3c3c;transform:scaleX(0.625);transform-origin:0 0">Giro derecha dirección Pedraja de San Esteban SO-P- 4024</div>
<div class="t" style="left:693.25px;width:40px;text-align:center;top:144.93px;font-size:7.6px;color:#444;transform:scaleX(0.6)">1,6</div>
<div class="t" style="left:710.25px;width:40px;text-align:center;top:144.93px;font-size:7.6px;color:#444;transform:scaleX(0.6)">96,1</div>
<div class="t" style="left:730.25px;width:40px;text-align:center;top:144.93px;font-size:7.6px;color:#444;transform:scaleX(0.6)">10:02</div>
<div class="t" style="left:748.25px;width:40px;text-align:center;top:144.93px;font-size:7.6px;color:#444;transform:scaleX(0.6)">10:02</div>
<div class="abs" style="left:543.7px;top:153.84px;width:236.30px;height:10.26px;background:#efefec"></div>
<div class="t" style="left:545.50px;top:155.14px;font-size:7.6px;color:#3c3c3c;transform:scaleX(0.625);transform-origin:0 0"><span style="color:#262626;font-weight:700">PEDRAJA DE SAN ESTEBAN.</span> Paso población. C/ Carretera</div>
<div class="t" style="left:693.25px;width:40px;text-align:center;top:155.14px;font-size:7.6px;color:#444;transform:scaleX(0.6)">5,2</div>
<div class="t" style="left:710.25px;width:40px;text-align:center;top:155.14px;font-size:7.6px;color:#444;transform:scaleX(0.6)">92,5</div>
<div class="t" style="left:730.25px;width:40px;text-align:center;top:155.14px;font-size:7.6px;color:#444;transform:scaleX(0.6)">10:07</div>
<div class="t" style="left:748.25px;width:40px;text-align:center;top:155.14px;font-size:7.6px;color:#444;transform:scaleX(0.6)">10:07</div>
<div class="abs" style="left:543.7px;top:164.05px;width:236.30px;height:10.26px;background:#d2d2cf"></div>
<div class="t" style="left:545.50px;top:165.35px;font-size:7.6px;color:#3c3c3c;transform:scaleX(0.625);transform-origin:0 0">Continuar por Camino La Rasa.</div>
<div class="t" style="left:693.25px;width:40px;text-align:center;top:165.35px;font-size:7.6px;color:#444;transform:scaleX(0.6)">5,8</div>
<div class="t" style="left:710.25px;width:40px;text-align:center;top:165.35px;font-size:7.6px;color:#444;transform:scaleX(0.6)">91,9</div>
<div class="t" style="left:730.25px;width:40px;text-align:center;top:165.35px;font-size:7.6px;color:#444;transform:scaleX(0.6)">10:08</div>
<div class="t" style="left:748.25px;width:40px;text-align:center;top:165.35px;font-size:7.6px;color:#444;transform:scaleX(0.6)">10:08</div>
<div class="abs" style="left:543.7px;top:174.26px;width:236.30px;height:10.26px;background:#efefec"></div>
<div class="t" style="left:545.50px;top:175.56px;font-size:7.6px;color:#3c3c3c;transform:scaleX(0.625);transform-origin:0 0"><span style="color:#262626;font-weight:700">LA RASA.</span> Paso población</div>
<div class="t" style="left:693.25px;width:40px;text-align:center;top:175.56px;font-size:7.6px;color:#444;transform:scaleX(0.6)">9,1</div>
<div class="t" style="left:710.25px;width:40px;text-align:center;top:175.56px;font-size:7.6px;color:#444;transform:scaleX(0.6)">88,6</div>
<div class="t" style="left:730.25px;width:40px;text-align:center;top:175.56px;font-size:7.6px;color:#444;transform:scaleX(0.6)">10:13</div>
<div class="t" style="left:748.25px;width:40px;text-align:center;top:175.56px;font-size:7.6px;color:#444;transform:scaleX(0.6)">10:13</div>
<div class="abs" style="left:543.7px;top:184.47px;width:236.30px;height:10.26px;background:#d2d2cf"></div>
<div class="t" style="left:545.50px;top:185.77px;font-size:7.6px;color:#3c3c3c;transform:scaleX(0.625);transform-origin:0 0">Giro izquierda dirección El Burgo de Osma SO-P-4123</div>
<div class="t" style="left:693.25px;width:40px;text-align:center;top:185.77px;font-size:7.6px;color:#444;transform:scaleX(0.6)">9,2</div>
<div class="t" style="left:710.25px;width:40px;text-align:center;top:185.77px;font-size:7.6px;color:#444;transform:scaleX(0.6)">88,5</div>
<div class="t" style="left:730.25px;width:40px;text-align:center;top:185.77px;font-size:7.6px;color:#444;transform:scaleX(0.6)">10:13</div>
<div class="t" style="left:748.25px;width:40px;text-align:center;top:185.77px;font-size:7.6px;color:#444;transform:scaleX(0.6)">10:13</div>
<div class="abs" style="left:543.7px;top:194.68px;width:236.30px;height:10.26px;background:#efefec"></div>
<div class="t" style="left:545.50px;top:195.98px;font-size:7.6px;color:#3c3c3c;transform:scaleX(0.625);transform-origin:0 0"><span style="color:#262626;font-weight:700">EL BURGO DE OSMA.</span> Paso poblacional. SO-160</div>
<div class="t" style="left:693.25px;width:40px;text-align:center;top:195.98px;font-size:7.6px;color:#444;transform:scaleX(0.6)">14,5</div>
<div class="t" style="left:710.25px;width:40px;text-align:center;top:195.98px;font-size:7.6px;color:#444;transform:scaleX(0.6)">83,2</div>
<div class="t" style="left:730.25px;width:40px;text-align:center;top:195.98px;font-size:7.6px;color:#444;transform:scaleX(0.6)">10:21</div>
<div class="t" style="left:748.25px;width:40px;text-align:center;top:195.98px;font-size:7.6px;color:#444;transform:scaleX(0.6)">10:20</div>
<div class="abs" style="left:543.7px;top:204.89px;width:236.30px;height:10.26px;background:#d2d2cf"></div>
<div class="t" style="left:545.50px;top:206.19px;font-size:7.6px;color:#3c3c3c;transform:scaleX(0.625);transform-origin:0 0">Giro derecha dirección Soria por N-122</div>
<div class="t" style="left:693.25px;width:40px;text-align:center;top:206.19px;font-size:7.6px;color:#444;transform:scaleX(0.6)">15,9</div>
<div class="t" style="left:710.25px;width:40px;text-align:center;top:206.19px;font-size:7.6px;color:#444;transform:scaleX(0.6)">81,8</div>
<div class="t" style="left:730.25px;width:40px;text-align:center;top:206.19px;font-size:7.6px;color:#444;transform:scaleX(0.6)">10:23</div>
<div class="t" style="left:748.25px;width:40px;text-align:center;top:206.19px;font-size:7.6px;color:#444;transform:scaleX(0.6)">10:22</div>
<div class="abs" style="left:543.7px;top:215.11px;width:236.30px;height:10.26px;background:#efefec"></div>
<div class="t" style="left:545.50px;top:216.40px;font-size:7.6px;color:#3c3c3c;transform:scaleX(0.625);transform-origin:0 0"><span style="color:#37a257;font-weight:700">META VOLANTE.</span> N-122</div>
<svg class="abs" style="left:601.02px;top:215.21px;overflow:visible" width="10" height="10"><rect x=".3" y=".3" width="9.40" height="9.40" rx="2.50" fill="#2f9a55" stroke="#1f6a3a" stroke-width=".5"/><rect x="3.00" y="3.50" width="4.00" height="3.00" fill="#fff" opacity=".8"/></svg>
<div class="t" style="left:693.25px;width:40px;text-align:center;top:216.40px;font-size:7.6px;color:#444;transform:scaleX(0.6)">16,3</div>
<div class="t" style="left:710.25px;width:40px;text-align:center;top:216.40px;font-size:7.6px;color:#444;transform:scaleX(0.6)">81,4</div>
<div class="t" style="left:730.25px;width:40px;text-align:center;top:216.40px;font-size:7.6px;color:#444;transform:scaleX(0.6)">10:24</div>
<div class="t" style="left:748.25px;width:40px;text-align:center;top:216.40px;font-size:7.6px;color:#444;transform:scaleX(0.6)">10:23</div>
<div class="abs" style="left:543.7px;top:225.32px;width:236.30px;height:10.26px;background:#d2d2cf"></div>
<div class="t" style="left:545.50px;top:226.61px;font-size:7.6px;color:#3c3c3c;transform:scaleX(0.625);transform-origin:0 0">Giro izquierda por C/ Acosta dirección San Leonardo de Yagüe. SO-920</div>
<div class="t" style="left:693.25px;width:40px;text-align:center;top:226.61px;font-size:7.6px;color:#444;transform:scaleX(0.6)">16,4</div>
<div class="t" style="left:710.25px;width:40px;text-align:center;top:226.61px;font-size:7.6px;color:#444;transform:scaleX(0.6)">81,3</div>
<div class="t" style="left:730.25px;width:40px;text-align:center;top:226.61px;font-size:7.6px;color:#444;transform:scaleX(0.6)">10:24</div>
<div class="t" style="left:748.25px;width:40px;text-align:center;top:226.61px;font-size:7.6px;color:#444;transform:scaleX(0.6)">10:23</div>
<div class="abs" style="left:543.7px;top:235.53px;width:236.30px;height:10.26px;background:#efefec"></div>
<div class="t" style="left:545.50px;top:236.82px;font-size:7.6px;color:#3c3c3c;transform:scaleX(0.625);transform-origin:0 0"><span style="color:#262626;font-weight:700">VALDEMALUQUE.</span> Paso población. Precaución pasos elevados. SO-920</div>
<div class="t" style="left:693.25px;width:40px;text-align:center;top:236.82px;font-size:7.6px;color:#444;transform:scaleX(0.6)">26,1</div>
<div class="t" style="left:710.25px;width:40px;text-align:center;top:236.82px;font-size:7.6px;color:#444;transform:scaleX(0.6)">71,6</div>
<div class="t" style="left:730.25px;width:40px;text-align:center;top:236.82px;font-size:7.6px;color:#444;transform:scaleX(0.6)">10:39</div>
<div class="t" style="left:748.25px;width:40px;text-align:center;top:236.82px;font-size:7.6px;color:#444;transform:scaleX(0.6)">10:37</div>
<div class="abs" style="left:543.7px;top:245.74px;width:236.30px;height:10.26px;background:#d2d2cf"></div>
<div class="t" style="left:545.50px;top:247.03px;font-size:7.6px;color:#3c3c3c;transform:scaleX(0.625);transform-origin:0 0"><span style="color:#262626;font-weight:700">UCERO.</span> Paso población. Precaución paso muy estrecho</div>
<div class="t" style="left:693.25px;width:40px;text-align:center;top:247.03px;font-size:7.6px;color:#444;transform:scaleX(0.6)">31,3</div>
<div class="t" style="left:710.25px;width:40px;text-align:center;top:247.03px;font-size:7.6px;color:#444;transform:scaleX(0.6)">66,4</div>
<div class="t" style="left:730.25px;width:40px;text-align:center;top:247.03px;font-size:7.6px;color:#444;transform:scaleX(0.6)">10:46</div>
<div class="t" style="left:748.25px;width:40px;text-align:center;top:247.03px;font-size:7.6px;color:#444;transform:scaleX(0.6)">10:44</div>
<div class="abs" style="left:543.7px;top:255.95px;width:236.30px;height:10.26px;background:#efefec"></div>
<div class="t" style="left:545.50px;top:257.24px;font-size:7.6px;color:#3c3c3c;transform:scaleX(0.625);transform-origin:0 0">Precaución paso estrecho</div>
<div class="t" style="left:693.25px;width:40px;text-align:center;top:257.24px;font-size:7.6px;color:#444;transform:scaleX(0.6)">33,5</div>
<div class="t" style="left:710.25px;width:40px;text-align:center;top:257.24px;font-size:7.6px;color:#444;transform:scaleX(0.6)">64,2</div>
<div class="t" style="left:730.25px;width:40px;text-align:center;top:257.24px;font-size:7.6px;color:#444;transform:scaleX(0.6)">10:50</div>
<div class="t" style="left:748.25px;width:40px;text-align:center;top:257.24px;font-size:7.6px;color:#444;transform:scaleX(0.6)">10:47</div>
<div class="abs" style="left:543.7px;top:266.16px;width:236.30px;height:10.26px;background:#d2d2cf"></div>
<div class="t" style="left:545.50px;top:267.45px;font-size:7.6px;color:#3c3c3c;transform:scaleX(0.625);transform-origin:0 0">Giro derecha. SO-920</div>
<div class="t" style="left:693.25px;width:40px;text-align:center;top:267.45px;font-size:7.6px;color:#444;transform:scaleX(0.6)">33,7</div>
<div class="t" style="left:710.25px;width:40px;text-align:center;top:267.45px;font-size:7.6px;color:#444;transform:scaleX(0.6)">64,0</div>
<div class="t" style="left:730.25px;width:40px;text-align:center;top:267.45px;font-size:7.6px;color:#444;transform:scaleX(0.6)">10:50</div>
<div class="t" style="left:748.25px;width:40px;text-align:center;top:267.45px;font-size:7.6px;color:#444;transform:scaleX(0.6)">10:48</div>
<div class="abs" style="left:543.7px;top:276.37px;width:236.30px;height:10.26px;background:#efefec"></div>
<div class="t" style="left:545.50px;top:277.66px;font-size:7.6px;color:#3c3c3c;transform:scaleX(0.625);transform-origin:0 0">Comienzo Puerto</div>
<div class="t" style="left:693.25px;width:40px;text-align:center;top:277.66px;font-size:7.6px;color:#444;transform:scaleX(0.6)">33,8</div>
<div class="t" style="left:710.25px;width:40px;text-align:center;top:277.66px;font-size:7.6px;color:#444;transform:scaleX(0.6)">63,9</div>
<div class="t" style="left:730.25px;width:40px;text-align:center;top:277.66px;font-size:7.6px;color:#444;transform:scaleX(0.6)">10:50</div>
<div class="t" style="left:748.25px;width:40px;text-align:center;top:277.66px;font-size:7.6px;color:#444;transform:scaleX(0.6)">10:48</div>
<div class="abs" style="left:543.7px;top:286.58px;width:236.30px;height:10.26px;background:#d2d2cf"></div>
<div class="t" style="left:545.50px;top:287.87px;font-size:7.6px;color:#3c3c3c;transform:scaleX(0.625);transform-origin:0 0"><span style="color:#7b2c6a;font-weight:700">PREMIO DE MONTAÑA.</span> La Galiana. 2ª Cat.</div>
<svg class="abs" style="left:643.58px;top:286.43px;overflow:visible" width="13.5" height="12.5"><polygon points="6.75,0 13.50,12.50 0,12.50" fill="#5f2753"/><text x="6.75" y="10.62" font-size="6.25" fill="#fff" text-anchor="middle" font-family="Liberation Sans" font-weight="700">3</text></svg>
<div class="t" style="left:693.25px;width:40px;text-align:center;top:287.87px;font-size:7.6px;color:#444;transform:scaleX(0.6)">36,5</div>
<div class="t" style="left:710.25px;width:40px;text-align:center;top:287.87px;font-size:7.6px;color:#444;transform:scaleX(0.6)">61,2</div>
<div class="t" style="left:730.25px;width:40px;text-align:center;top:287.87px;font-size:7.6px;color:#444;transform:scaleX(0.6)">10:54</div>
<div class="t" style="left:748.25px;width:40px;text-align:center;top:287.87px;font-size:7.6px;color:#444;transform:scaleX(0.6)">10:52</div>
<div class="abs" style="left:543.7px;top:296.79px;width:236.30px;height:20.47px;background:#efefec"></div>
<div class="t" style="left:545.50px;top:298.08px;font-size:7.6px;color:#3c3c3c;transform:scaleX(0.625);transform-origin:0 0"><span style="color:#e49a4c;font-weight:700">SPRINT ESPECIAL.</span> <span style="color:#262626;font-weight:700">CASAREJOS.</span> Paso población.</div>
<svg class="abs" style="left:659.13px;top:301.25px;overflow:visible" width="11" height="11.5"><ellipse cx="5.50" cy="5.75" rx="5.00" ry="5.25" fill="#d3822f" stroke="#6a3a10" stroke-width=".9"/><rect x="3.85" y="4.37" width="3.30" height="2.76" fill="#fff" opacity=".7"/></svg>
<div class="t" style="left:545.50px;top:308.29px;font-size:7.6px;color:#3c3c3c;transform:scaleX(0.625);transform-origin:0 0">Precaución pasos elevados. Ctra. San Leonardo</div>
<div class="t" style="left:693.25px;width:40px;text-align:center;top:298.08px;font-size:7.6px;color:#444;transform:scaleX(0.6)">44,3</div>
<div class="t" style="left:710.25px;width:40px;text-align:center;top:298.08px;font-size:7.6px;color:#444;transform:scaleX(0.6)">53,4</div>
<div class="t" style="left:730.25px;width:40px;text-align:center;top:298.08px;font-size:7.6px;color:#444;transform:scaleX(0.6)">11:06</div>
<div class="t" style="left:748.25px;width:40px;text-align:center;top:298.08px;font-size:7.6px;color:#444;transform:scaleX(0.6)">11:03</div>
<div class="abs" style="left:543.7px;top:317.21px;width:236.30px;height:10.26px;background:#d2d2cf"></div>
<div class="t" style="left:545.50px;top:318.50px;font-size:7.6px;color:#3c3c3c;transform:scaleX(0.625);transform-origin:0 0">Giro izquierda dirección Peñaranda de Duero. SO-934</div>
<div class="t" style="left:693.25px;width:40px;text-align:center;top:318.50px;font-size:7.6px;color:#444;transform:scaleX(0.6)">49,6</div>
<div class="t" style="left:710.25px;width:40px;text-align:center;top:318.50px;font-size:7.6px;color:#444;transform:scaleX(0.6)">48,1</div>
<div class="t" style="left:730.25px;width:40px;text-align:center;top:318.50px;font-size:7.6px;color:#444;transform:scaleX(0.6)">11:14</div>
<div class="t" style="left:748.25px;width:40px;text-align:center;top:318.50px;font-size:7.6px;color:#444;transform:scaleX(0.6)">11:10</div>
<div class="abs" style="left:543.7px;top:327.42px;width:236.30px;height:10.26px;background:#efefec"></div>
<div class="t" style="left:545.50px;top:328.71px;font-size:7.6px;color:#3c3c3c;transform:scaleX(0.625);transform-origin:0 0">Rotonda. Recto dirección Santamaría de las Hoyas. 2a Salida. SO-934</div>
<div class="t" style="left:693.25px;width:40px;text-align:center;top:328.71px;font-size:7.6px;color:#444;transform:scaleX(0.6)">50,4</div>
<div class="t" style="left:710.25px;width:40px;text-align:center;top:328.71px;font-size:7.6px;color:#444;transform:scaleX(0.6)">47,3</div>
<div class="t" style="left:730.25px;width:40px;text-align:center;top:328.71px;font-size:7.6px;color:#444;transform:scaleX(0.6)">11:15</div>
<div class="t" style="left:748.25px;width:40px;text-align:center;top:328.71px;font-size:7.6px;color:#444;transform:scaleX(0.6)">11:12</div>
<div class="abs" style="left:543.7px;top:337.63px;width:236.30px;height:10.26px;background:#d2d2cf"></div>
<div class="t" style="left:545.50px;top:338.93px;font-size:7.6px;color:#3c3c3c;transform:scaleX(0.625);transform-origin:0 0"><span style="color:#262626;font-weight:700">ARGANZA.</span> Paso población</div>
<div class="t" style="left:693.25px;width:40px;text-align:center;top:338.93px;font-size:7.6px;color:#444;transform:scaleX(0.6)">50,9</div>
<div class="t" style="left:710.25px;width:40px;text-align:center;top:338.93px;font-size:7.6px;color:#444;transform:scaleX(0.6)">46,8</div>
<div class="t" style="left:730.25px;width:40px;text-align:center;top:338.93px;font-size:7.6px;color:#444;transform:scaleX(0.6)">11:16</div>
<div class="t" style="left:748.25px;width:40px;text-align:center;top:338.93px;font-size:7.6px;color:#444;transform:scaleX(0.6)">11:12</div>
<div class="abs" style="left:543.7px;top:347.84px;width:236.30px;height:10.26px;background:#efefec"></div>
<div class="t" style="left:545.50px;top:349.14px;font-size:7.6px;color:#3c3c3c;transform:scaleX(0.625);transform-origin:0 0">Comienzo Puerto</div>
<div class="t" style="left:693.25px;width:40px;text-align:center;top:349.14px;font-size:7.6px;color:#444;transform:scaleX(0.6)">54,6</div>
<div class="t" style="left:710.25px;width:40px;text-align:center;top:349.14px;font-size:7.6px;color:#444;transform:scaleX(0.6)">43,1</div>
<div class="t" style="left:730.25px;width:40px;text-align:center;top:349.14px;font-size:7.6px;color:#444;transform:scaleX(0.6)">11:21</div>
<div class="t" style="left:748.25px;width:40px;text-align:center;top:349.14px;font-size:7.6px;color:#444;transform:scaleX(0.6)">11:18</div>
<div class="abs" style="left:543.7px;top:358.05px;width:236.30px;height:10.26px;background:#d2d2cf"></div>
<div class="t" style="left:545.50px;top:359.35px;font-size:7.6px;color:#3c3c3c;transform:scaleX(0.625);transform-origin:0 0"><span style="color:#7b2c6a;font-weight:700">PREMIO DE MONTAÑA.</span> Alto Río Lobos. 2ª Cat.</div>
<svg class="abs" style="left:651.50px;top:357.91px;overflow:visible" width="13.5" height="12.5"><polygon points="6.75,0 13.50,12.50 0,12.50" fill="#5f2753"/><text x="6.75" y="10.62" font-size="6.25" fill="#fff" text-anchor="middle" font-family="Liberation Sans" font-weight="700">3</text></svg>
<div class="t" style="left:693.25px;width:40px;text-align:center;top:359.35px;font-size:7.6px;color:#444;transform:scaleX(0.6)">57,4</div>
<div class="t" style="left:710.25px;width:40px;text-align:center;top:359.35px;font-size:7.6px;color:#444;transform:scaleX(0.6)">40,3</div>
<div class="t" style="left:730.25px;width:40px;text-align:center;top:359.35px;font-size:7.6px;color:#444;transform:scaleX(0.6)">11:26</div>
<div class="t" style="left:748.25px;width:40px;text-align:center;top:359.35px;font-size:7.6px;color:#444;transform:scaleX(0.6)">11:22</div>
<div class="abs" style="left:543.7px;top:368.26px;width:236.30px;height:20.47px;background:#efefec"></div>
<div class="t" style="left:545.50px;top:369.56px;font-size:7.6px;color:#3c3c3c;transform:scaleX(0.625);transform-origin:0 0"><span style="color:#37a257;font-weight:700">META VOLANTE.</span> <span style="color:#262626;font-weight:700">SANTA MARÍA DE LAS HOYAS</span></div>
<svg class="abs" style="left:657.14px;top:373.47px;overflow:visible" width="10" height="10"><rect x=".3" y=".3" width="9.40" height="9.40" rx="2.50" fill="#2f9a55" stroke="#1f6a3a" stroke-width=".5"/><rect x="3.00" y="3.50" width="4.00" height="3.00" fill="#fff" opacity=".8"/></svg>
<div class="t" style="left:545.50px;top:379.77px;font-size:7.6px;color:#3c3c3c;transform:scaleX(0.625);transform-origin:0 0">Paso población. Precaución badenes.</div>
<div class="t" style="left:693.25px;width:40px;text-align:center;top:369.56px;font-size:7.6px;color:#444;transform:scaleX(0.6)">58,8</div>
<div class="t" style="left:710.25px;width:40px;text-align:center;top:369.56px;font-size:7.6px;color:#444;transform:scaleX(0.6)">38,9</div>
<div class="t" style="left:730.25px;width:40px;text-align:center;top:369.56px;font-size:7.6px;color:#444;transform:scaleX(0.6)">11:28</div>
<div class="t" style="left:748.25px;width:40px;text-align:center;top:369.56px;font-size:7.6px;color:#444;transform:scaleX(0.6)">11:24</div>
<div class="abs" style="left:543.7px;top:388.68px;width:236.30px;height:20.47px;background:#d2d2cf"></div>
<div class="t" style="left:545.50px;top:389.98px;font-size:7.6px;color:#3c3c3c;transform:scaleX(0.625);transform-origin:0 0"><span style="color:#262626;font-weight:700">GUIJOSA.</span> Paso población. Precaución pasos elevados.</div>
<div class="t" style="left:545.50px;top:400.19px;font-size:7.6px;color:#3c3c3c;transform:scaleX(0.625);transform-origin:0 0">Estrechamiento C/ Real</div>
<div class="t" style="left:693.25px;width:40px;text-align:center;top:389.98px;font-size:7.6px;color:#444;transform:scaleX(0.6)">67,3</div>
<div class="t" style="left:710.25px;width:40px;text-align:center;top:389.98px;font-size:7.6px;color:#444;transform:scaleX(0.6)">30,4</div>
<div class="t" style="left:730.25px;width:40px;text-align:center;top:389.98px;font-size:7.6px;color:#444;transform:scaleX(0.6)">11:40</div>
<div class="t" style="left:748.25px;width:40px;text-align:center;top:389.98px;font-size:7.6px;color:#444;transform:scaleX(0.6)">11:36</div>
<div class="abs" style="left:543.7px;top:409.11px;width:236.30px;height:10.26px;background:#efefec"></div>
<div class="t" style="left:545.50px;top:410.40px;font-size:7.6px;color:#3c3c3c;transform:scaleX(0.625);transform-origin:0 0"><span style="color:#262626;font-weight:700">QUINTANILLA DE NUÑO PEDRO.</span> SO-934</div>
<div class="t" style="left:693.25px;width:40px;text-align:center;top:410.40px;font-size:7.6px;color:#444;transform:scaleX(0.6)">70</div>
<div class="t" style="left:710.25px;width:40px;text-align:center;top:410.40px;font-size:7.6px;color:#444;transform:scaleX(0.6)">27,7</div>
<div class="t" style="left:730.25px;width:40px;text-align:center;top:410.40px;font-size:7.6px;color:#444;transform:scaleX(0.6)">11:45</div>
<div class="t" style="left:748.25px;width:40px;text-align:center;top:410.40px;font-size:7.6px;color:#444;transform:scaleX(0.6)">11:40</div>
<div class="abs" style="left:543.7px;top:419.32px;width:236.30px;height:10.26px;background:#d2d2cf"></div>
<div class="t" style="left:545.50px;top:420.61px;font-size:7.6px;color:#3c3c3c;transform:scaleX(0.625);transform-origin:0 0">Giro izquierda dirección Alcubilla de Avellaneda. SO-P- 5004</div>
<div class="t" style="left:693.25px;width:40px;text-align:center;top:420.61px;font-size:7.6px;color:#444;transform:scaleX(0.6)">74,7</div>
<div class="t" style="left:710.25px;width:40px;text-align:center;top:420.61px;font-size:7.6px;color:#444;transform:scaleX(0.6)">23,1</div>
<div class="t" style="left:730.25px;width:40px;text-align:center;top:420.61px;font-size:7.6px;color:#444;transform:scaleX(0.6)">11:51</div>
<div class="t" style="left:748.25px;width:40px;text-align:center;top:420.61px;font-size:7.6px;color:#444;transform:scaleX(0.6)">11:46</div>
<div class="abs" style="left:543.7px;top:429.53px;width:236.30px;height:20.47px;background:#efefec"></div>
<div class="t" style="left:545.50px;top:430.82px;font-size:7.6px;color:#3c3c3c;transform:scaleX(0.625);transform-origin:0 0"><span style="color:#262626;font-weight:700">ALCUBILLA DE AVELLANEDA.</span> Paso población.</div>
<div class="t" style="left:545.50px;top:441.03px;font-size:7.6px;color:#3c3c3c;transform:scaleX(0.625);transform-origin:0 0">Precaución paso estrecho. C/ Medio, C/ Del Río. SO-P- 5004</div>
<div class="t" style="left:693.25px;width:40px;text-align:center;top:430.82px;font-size:7.6px;color:#444;transform:scaleX(0.6)">74,8</div>
<div class="t" style="left:710.25px;width:40px;text-align:center;top:430.82px;font-size:7.6px;color:#444;transform:scaleX(0.6)">22,9</div>
<div class="t" style="left:730.25px;width:40px;text-align:center;top:430.82px;font-size:7.6px;color:#444;transform:scaleX(0.6)">11:52</div>
<div class="t" style="left:748.25px;width:40px;text-align:center;top:430.82px;font-size:7.6px;color:#444;transform:scaleX(0.6)">11:46</div>
<div class="abs" style="left:543.7px;top:449.95px;width:236.30px;height:10.26px;background:#d2d2cf"></div>
<div class="t" style="left:545.50px;top:451.24px;font-size:7.6px;color:#3c3c3c;transform:scaleX(0.625);transform-origin:0 0"><span style="color:#262626;font-weight:700">ZAYAS DE BÁSCONES.</span> Paso población. Precaución pasos elevados.</div>
<div class="t" style="left:693.25px;width:40px;text-align:center;top:451.24px;font-size:7.6px;color:#444;transform:scaleX(0.6)">80,8</div>
<div class="t" style="left:710.25px;width:40px;text-align:center;top:451.24px;font-size:7.6px;color:#444;transform:scaleX(0.6)">16,9</div>
<div class="t" style="left:730.25px;width:40px;text-align:center;top:451.24px;font-size:7.6px;color:#444;transform:scaleX(0.6)">12:01</div>
<div class="t" style="left:748.25px;width:40px;text-align:center;top:451.24px;font-size:7.6px;color:#444;transform:scaleX(0.6)">11:55</div>
<div class="abs" style="left:543.7px;top:460.16px;width:236.30px;height:10.26px;background:#efefec"></div>
<div class="t" style="left:545.50px;top:461.45px;font-size:7.6px;color:#3c3c3c;transform:scaleX(0.625);transform-origin:0 0"><span style="color:#262626;font-weight:700">SAN ESTEBAN DE GORMAZ.</span> Paso población. SO-P-5004</div>
<div class="t" style="left:693.25px;width:40px;text-align:center;top:461.45px;font-size:7.6px;color:#444;transform:scaleX(0.6)">96,5</div>
<div class="t" style="left:710.25px;width:40px;text-align:center;top:461.45px;font-size:7.6px;color:#444;transform:scaleX(0.6)">1,2</div>
<div class="t" style="left:730.25px;width:40px;text-align:center;top:461.45px;font-size:7.6px;color:#444;transform:scaleX(0.6)">12:24</div>
<div class="t" style="left:748.25px;width:40px;text-align:center;top:461.45px;font-size:7.6px;color:#444;transform:scaleX(0.6)">12:17</div>
<div class="abs" style="left:543.7px;top:470.37px;width:236.30px;height:10.26px;background:#d2d2cf"></div>
<div class="t" style="left:545.50px;top:471.66px;font-size:7.6px;color:#3c3c3c;transform:scaleX(0.625);transform-origin:0 0">Giro derecha por Carretera de Matanza</div>
<div class="t" style="left:693.25px;width:40px;text-align:center;top:471.66px;font-size:7.6px;color:#444;transform:scaleX(0.6)">96,6</div>
<div class="t" style="left:710.25px;width:40px;text-align:center;top:471.66px;font-size:7.6px;color:#444;transform:scaleX(0.6)">1,1</div>
<div class="t" style="left:730.25px;width:40px;text-align:center;top:471.66px;font-size:7.6px;color:#444;transform:scaleX(0.6)">12:24</div>
<div class="t" style="left:748.25px;width:40px;text-align:center;top:471.66px;font-size:7.6px;color:#444;transform:scaleX(0.6)">12:18</div>
<div class="abs" style="left:543.7px;top:480.58px;width:236.30px;height:10.26px;background:#efefec"></div>
<div class="t" style="left:545.50px;top:481.87px;font-size:7.6px;color:#3c3c3c;transform:scaleX(0.625);transform-origin:0 0">Giro izquierda hacia centro ciudad. Avda. Valladolid N- 122</div>
<div class="t" style="left:693.25px;width:40px;text-align:center;top:481.87px;font-size:7.6px;color:#444;transform:scaleX(0.6)">96,9</div>
<div class="t" style="left:710.25px;width:40px;text-align:center;top:481.87px;font-size:7.6px;color:#444;transform:scaleX(0.6)">0,8</div>
<div class="t" style="left:730.25px;width:40px;text-align:center;top:481.87px;font-size:7.6px;color:#444;transform:scaleX(0.6)">12:25</div>
<div class="t" style="left:748.25px;width:40px;text-align:center;top:481.87px;font-size:7.6px;color:#444;transform:scaleX(0.6)">12:18</div>
<div class="abs" style="left:543.7px;top:490.79px;width:236.30px;height:10.26px;background:#d2d2cf"></div>
<div class="t" style="left:545.50px;top:492.08px;font-size:7.6px;color:#3c3c3c;transform:scaleX(0.625);transform-origin:0 0"><span style="color:#c4377f;font-weight:700">META.</span> <span style="color:#262626;font-weight:700">Avda. Valladolid</span></div>
<div class="t" style="left:693.25px;width:40px;text-align:center;top:492.08px;font-size:7.6px;color:#444;transform:scaleX(0.6)">97,7</div>
<div class="t" style="left:710.25px;width:40px;text-align:center;top:492.08px;font-size:7.6px;color:#444;transform:scaleX(0.6)">0,0</div>
<div class="t" style="left:730.25px;width:40px;text-align:center;top:492.08px;font-size:7.6px;color:#444;transform:scaleX(0.6)">12:26</div>
<div class="t" style="left:748.25px;width:40px;text-align:center;top:492.08px;font-size:7.6px;color:#444;transform:scaleX(0.6)">12:19</div>
<div class="abs" style="left:809.5px;top:112.00px;width:237.50px;height:6.75px;background:#efefec"></div>
<div class="t" style="left:813.00px;top:112.74px;font-size:5.2px;color:#444;transform:scaleX(0.925);transform-origin:0 0">SALIDA NEUTRALIZADA. Jardines de Don Diego</div>
<div class="t" style="left:957.70px;width:40px;text-align:center;top:112.74px;font-size:5.2px;color:#444;transform:scaleX(0.8)">0,0</div>
<div class="t" style="left:978.20px;width:40px;text-align:center;top:112.74px;font-size:5.2px;color:#444;transform:scaleX(0.8)">113,7</div>
<div class="t" style="left:994.00px;width:40px;text-align:center;top:112.74px;font-size:5.2px;color:#444;transform:scaleX(0.8)">10:00</div>
<div class="t" style="left:1015.90px;width:40px;text-align:center;top:112.74px;font-size:5.2px;color:#444;transform:scaleX(0.8)">10:00</div>
<div class="abs" style="left:809.5px;top:118.70px;width:237.50px;height:6.75px;background:#d2d2cf"></div>
<div class="t" style="left:813.00px;top:119.45px;font-size:5.2px;color:#444;transform:scaleX(0.925);transform-origin:0 0">C/ San Francisco</div>
<div class="t" style="left:957.70px;width:40px;text-align:center;top:119.45px;font-size:5.2px;color:#444;transform:scaleX(0.8)">0,0</div>
<div class="t" style="left:978.20px;width:40px;text-align:center;top:119.45px;font-size:5.2px;color:#444;transform:scaleX(0.8)">113,7</div>
<div class="t" style="left:994.00px;width:40px;text-align:center;top:119.45px;font-size:5.2px;color:#444;transform:scaleX(0.8)">10:00</div>
<div class="t" style="left:1015.90px;width:40px;text-align:center;top:119.45px;font-size:5.2px;color:#444;transform:scaleX(0.8)">10:00</div>
<div class="abs" style="left:809.5px;top:125.41px;width:237.50px;height:6.75px;background:#efefec"></div>
<div class="t" style="left:813.00px;top:126.15px;font-size:5.2px;color:#444;transform:scaleX(0.925);transform-origin:0 0">Rotonda. Giro izq. Por C/ San Antón</div>
<div class="t" style="left:957.70px;width:40px;text-align:center;top:126.15px;font-size:5.2px;color:#444;transform:scaleX(0.8)">0,0</div>
<div class="t" style="left:978.20px;width:40px;text-align:center;top:126.15px;font-size:5.2px;color:#444;transform:scaleX(0.8)">113,7</div>
<div class="t" style="left:994.00px;width:40px;text-align:center;top:126.15px;font-size:5.2px;color:#444;transform:scaleX(0.8)">10:00</div>
<div class="t" style="left:1015.90px;width:40px;text-align:center;top:126.15px;font-size:5.2px;color:#444;transform:scaleX(0.8)">10:00</div>
<div class="abs" style="left:809.5px;top:132.11px;width:237.50px;height:6.75px;background:#d2d2cf"></div>
<div class="t" style="left:813.00px;top:132.86px;font-size:5.2px;color:#444;transform:scaleX(0.925);transform-origin:0 0">Rotonda. Recto dirección Palencia por CL-619</div>
<div class="t" style="left:957.70px;width:40px;text-align:center;top:132.86px;font-size:5.2px;color:#444;transform:scaleX(0.8)">0,0</div>
<div class="t" style="left:978.20px;width:40px;text-align:center;top:132.86px;font-size:5.2px;color:#444;transform:scaleX(0.8)">113,7</div>
<div class="t" style="left:994.00px;width:40px;text-align:center;top:132.86px;font-size:5.2px;color:#444;transform:scaleX(0.8)">10:00</div>
<div class="t" style="left:1015.90px;width:40px;text-align:center;top:132.86px;font-size:5.2px;color:#444;transform:scaleX(0.8)">10:00</div>
<div class="abs" style="left:809.5px;top:138.82px;width:237.50px;height:6.75px;background:#efefec"></div>
<div class="t" style="left:813.00px;top:139.56px;font-size:5.2px;color:#444;transform:scaleX(0.925);transform-origin:0 0">Giro dcha. Dirección La Aguilera</div>
<div class="t" style="left:957.70px;width:40px;text-align:center;top:139.56px;font-size:5.2px;color:#444;transform:scaleX(0.8)">0,0</div>
<div class="t" style="left:978.20px;width:40px;text-align:center;top:139.56px;font-size:5.2px;color:#444;transform:scaleX(0.8)">113,7</div>
<div class="t" style="left:994.00px;width:40px;text-align:center;top:139.56px;font-size:5.2px;color:#444;transform:scaleX(0.8)">10:00</div>
<div class="t" style="left:1015.90px;width:40px;text-align:center;top:139.56px;font-size:5.2px;color:#444;transform:scaleX(0.8)">10:00</div>
<div class="abs" style="left:809.5px;top:145.52px;width:237.50px;height:6.75px;background:#d2d2cf"></div>
<div class="t" style="left:813.00px;top:146.26px;font-size:5.2px;color:#444;transform:scaleX(0.925);transform-origin:0 0"><span style="color:#c4377f;font-weight:700">SALIDA REAL.</span> Leche Pascual BU-P-1102</div>
<div class="t" style="left:957.70px;width:40px;text-align:center;top:146.26px;font-size:5.2px;color:#444;transform:scaleX(0.8)">0,0</div>
<div class="t" style="left:978.20px;width:40px;text-align:center;top:146.26px;font-size:5.2px;color:#444;transform:scaleX(0.8)">113,7</div>
<div class="t" style="left:994.00px;width:40px;text-align:center;top:146.26px;font-size:5.2px;color:#444;transform:scaleX(0.8)">10:00</div>
<div class="t" style="left:1015.90px;width:40px;text-align:center;top:146.26px;font-size:5.2px;color:#444;transform:scaleX(0.8)">10:00</div>
<div class="abs" style="left:809.5px;top:152.22px;width:237.50px;height:6.75px;background:#efefec"></div>
<div class="t" style="left:813.00px;top:152.97px;font-size:5.2px;color:#444;transform:scaleX(0.925);transform-origin:0 0"><span style="color:#e49a4c;font-weight:700">SPRINT ESPECIAL.</span> San Gabriel Ciudad de la Educación</div>
<svg class="abs" style="left:940.24px;top:151.83px;overflow:visible" width="11" height="7.5"><ellipse cx="5.50" cy="3.75" rx="5.00" ry="3.25" fill="#d3822f" stroke="#6a3a10" stroke-width=".9"/><rect x="3.85" y="2.85" width="3.30" height="1.80" fill="#fff" opacity=".7"/></svg>
<div class="t" style="left:957.70px;width:40px;text-align:center;top:152.97px;font-size:5.2px;color:#444;transform:scaleX(0.8)">3,4</div>
<div class="t" style="left:978.20px;width:40px;text-align:center;top:152.97px;font-size:5.2px;color:#444;transform:scaleX(0.8)">110,3</div>
<div class="t" style="left:994.00px;width:40px;text-align:center;top:152.97px;font-size:5.2px;color:#444;transform:scaleX(0.8)">10:08</div>
<div class="t" style="left:1015.90px;width:40px;text-align:center;top:152.97px;font-size:5.2px;color:#444;transform:scaleX(0.8)">10:07</div>
<div class="abs" style="left:809.5px;top:158.93px;width:237.50px;height:6.75px;background:#d2d2cf"></div>
<div class="t" style="left:813.00px;top:159.67px;font-size:5.2px;color:#444;transform:scaleX(0.925);transform-origin:0 0"><span style="color:#262626;font-weight:700">LA AGUILERA.</span> Cruce población</div>
<div class="t" style="left:957.70px;width:40px;text-align:center;top:159.67px;font-size:5.2px;color:#444;transform:scaleX(0.8)">8,4</div>
<div class="t" style="left:978.20px;width:40px;text-align:center;top:159.67px;font-size:5.2px;color:#444;transform:scaleX(0.8)">105,3</div>
<div class="t" style="left:994.00px;width:40px;text-align:center;top:159.67px;font-size:5.2px;color:#444;transform:scaleX(0.8)">10:12</div>
<div class="t" style="left:1015.90px;width:40px;text-align:center;top:159.67px;font-size:5.2px;color:#444;transform:scaleX(0.8)">10:12</div>
<div class="abs" style="left:809.5px;top:165.63px;width:237.50px;height:6.75px;background:#efefec"></div>
<div class="t" style="left:813.00px;top:166.38px;font-size:5.2px;color:#444;transform:scaleX(0.925);transform-origin:0 0">Giro dcha. Dirección Quintana del Pidio por C/ San Sebastián. BU-P-1105</div>
<div class="t" style="left:957.70px;width:40px;text-align:center;top:166.38px;font-size:5.2px;color:#444;transform:scaleX(0.8)">8,7</div>
<div class="t" style="left:978.20px;width:40px;text-align:center;top:166.38px;font-size:5.2px;color:#444;transform:scaleX(0.8)">105,0</div>
<div class="t" style="left:994.00px;width:40px;text-align:center;top:166.38px;font-size:5.2px;color:#444;transform:scaleX(0.8)">10:13</div>
<div class="t" style="left:1015.90px;width:40px;text-align:center;top:166.38px;font-size:5.2px;color:#444;transform:scaleX(0.8)">10:12</div>
<div class="abs" style="left:809.5px;top:172.34px;width:237.50px;height:6.75px;background:#d2d2cf"></div>
<div class="t" style="left:813.00px;top:173.08px;font-size:5.2px;color:#444;transform:scaleX(0.925);transform-origin:0 0"><span style="color:#262626;font-weight:700">QUINTANA DEL PIDIO.</span> Cruce población</div>
<div class="t" style="left:957.70px;width:40px;text-align:center;top:173.08px;font-size:5.2px;color:#444;transform:scaleX(0.8)">12,4</div>
<div class="t" style="left:978.20px;width:40px;text-align:center;top:173.08px;font-size:5.2px;color:#444;transform:scaleX(0.8)">101,3</div>
<div class="t" style="left:994.00px;width:40px;text-align:center;top:173.08px;font-size:5.2px;color:#444;transform:scaleX(0.8)">10:18</div>
<div class="t" style="left:1015.90px;width:40px;text-align:center;top:173.08px;font-size:5.2px;color:#444;transform:scaleX(0.8)">10:17</div>
<div class="abs" style="left:809.5px;top:179.04px;width:237.50px;height:6.75px;background:#efefec"></div>
<div class="t" style="left:813.00px;top:179.79px;font-size:5.2px;color:#444;transform:scaleX(0.925);transform-origin:0 0">COMIENZA PUERTO</div>
<div class="t" style="left:957.70px;width:40px;text-align:center;top:179.79px;font-size:5.2px;color:#444;transform:scaleX(0.8)">14,3</div>
<div class="t" style="left:978.20px;width:40px;text-align:center;top:179.79px;font-size:5.2px;color:#444;transform:scaleX(0.8)">99,4</div>
<div class="t" style="left:994.00px;width:40px;text-align:center;top:179.79px;font-size:5.2px;color:#444;transform:scaleX(0.8)">10:21</div>
<div class="t" style="left:1015.90px;width:40px;text-align:center;top:179.79px;font-size:5.2px;color:#444;transform:scaleX(0.8)">10:20</div>
<div class="abs" style="left:809.5px;top:185.75px;width:237.50px;height:6.75px;background:#d2d2cf"></div>
<div class="t" style="left:813.00px;top:186.49px;font-size:5.2px;color:#444;transform:scaleX(0.925);transform-origin:0 0"><span style="color:#7b2c6a;font-weight:700">PREMIO DE MONTAÑA.</span> Bodegas Cillar de Silos. 3ª Cat.</div>
<svg class="abs" style="left:938.24px;top:185.35px;overflow:visible" width="13" height="8.5"><polygon points="6.50,0 13.00,8.50 0,8.50" fill="#5f2753"/><text x="6.50" y="7.22" font-size="4.25" fill="#fff" text-anchor="middle" font-family="Liberation Sans" font-weight="700">3</text></svg>
<div class="t" style="left:957.70px;width:40px;text-align:center;top:186.49px;font-size:5.2px;color:#444;transform:scaleX(0.8)">15,1</div>
<div class="t" style="left:978.20px;width:40px;text-align:center;top:186.49px;font-size:5.2px;color:#444;transform:scaleX(0.8)">98,6</div>
<div class="t" style="left:994.00px;width:40px;text-align:center;top:186.49px;font-size:5.2px;color:#444;transform:scaleX(0.8)">10:22</div>
<div class="t" style="left:1015.90px;width:40px;text-align:center;top:186.49px;font-size:5.2px;color:#444;transform:scaleX(0.8)">10:21</div>
<div class="abs" style="left:809.5px;top:192.45px;width:237.50px;height:6.75px;background:#efefec"></div>
<div class="t" style="left:813.00px;top:193.19px;font-size:5.2px;color:#444;transform:scaleX(0.925);transform-origin:0 0">Giro dcha. Dirección Gumiel de Izán. BU-124</div>
<div class="t" style="left:957.70px;width:40px;text-align:center;top:193.19px;font-size:5.2px;color:#444;transform:scaleX(0.8)">15,3</div>
<div class="t" style="left:978.20px;width:40px;text-align:center;top:193.19px;font-size:5.2px;color:#444;transform:scaleX(0.8)">98,4</div>
<div class="t" style="left:994.00px;width:40px;text-align:center;top:193.19px;font-size:5.2px;color:#444;transform:scaleX(0.8)">10:22</div>
<div class="t" style="left:1015.90px;width:40px;text-align:center;top:193.19px;font-size:5.2px;color:#444;transform:scaleX(0.8)">10:21</div>
<div class="abs" style="left:809.5px;top:199.15px;width:237.50px;height:6.75px;background:#d2d2cf"></div>
<div class="t" style="left:813.00px;top:199.90px;font-size:5.2px;color:#444;transform:scaleX(0.925);transform-origin:0 0">Cruce. Recto dirección Gumiel BU-124</div>
<div class="t" style="left:957.70px;width:40px;text-align:center;top:199.90px;font-size:5.2px;color:#444;transform:scaleX(0.8)">19,2</div>
<div class="t" style="left:978.20px;width:40px;text-align:center;top:199.90px;font-size:5.2px;color:#444;transform:scaleX(0.8)">94,5</div>
<div class="t" style="left:994.00px;width:40px;text-align:center;top:199.90px;font-size:5.2px;color:#444;transform:scaleX(0.8)">10:28</div>
<div class="t" style="left:1015.90px;width:40px;text-align:center;top:199.90px;font-size:5.2px;color:#444;transform:scaleX(0.8)">10:27</div>
<div class="abs" style="left:809.5px;top:205.86px;width:237.50px;height:6.75px;background:#efefec"></div>
<div class="t" style="left:813.00px;top:206.60px;font-size:5.2px;color:#444;transform:scaleX(0.925);transform-origin:0 0">Giro dcha. GUMIEL DE IZÁN. Cruce población</div>
<div class="t" style="left:957.70px;width:40px;text-align:center;top:206.60px;font-size:5.2px;color:#444;transform:scaleX(0.8)">19,4</div>
<div class="t" style="left:978.20px;width:40px;text-align:center;top:206.60px;font-size:5.2px;color:#444;transform:scaleX(0.8)">94,3</div>
<div class="t" style="left:994.00px;width:40px;text-align:center;top:206.60px;font-size:5.2px;color:#444;transform:scaleX(0.8)">10:29</div>
<div class="t" style="left:1015.90px;width:40px;text-align:center;top:206.60px;font-size:5.2px;color:#444;transform:scaleX(0.8)">10:27</div>
<div class="abs" style="left:809.5px;top:212.56px;width:237.50px;height:6.75px;background:#d2d2cf"></div>
<div class="t" style="left:813.00px;top:213.31px;font-size:5.2px;color:#444;transform:scaleX(0.925);transform-origin:0 0"><span style="color:#e49a4c;font-weight:700">SPRINT ESPECIAL</span> (Gumiel de Izán)</div>
<svg class="abs" style="left:896.92px;top:212.16px;overflow:visible" width="11" height="7.5"><ellipse cx="5.50" cy="3.75" rx="5.00" ry="3.25" fill="#d3822f" stroke="#6a3a10" stroke-width=".9"/><rect x="3.85" y="2.85" width="3.30" height="1.80" fill="#fff" opacity=".7"/></svg>
<div class="t" style="left:957.70px;width:40px;text-align:center;top:213.31px;font-size:5.2px;color:#444;transform:scaleX(0.8)">20,0</div>
<div class="t" style="left:978.20px;width:40px;text-align:center;top:213.31px;font-size:5.2px;color:#444;transform:scaleX(0.8)">93,7</div>
<div class="t" style="left:994.00px;width:40px;text-align:center;top:213.31px;font-size:5.2px;color:#444;transform:scaleX(0.8)">10:30</div>
<div class="t" style="left:1015.90px;width:40px;text-align:center;top:213.31px;font-size:5.2px;color:#444;transform:scaleX(0.8)">10:28</div>
<div class="abs" style="left:809.5px;top:219.27px;width:237.50px;height:6.75px;background:#efefec"></div>
<div class="t" style="left:813.00px;top:220.01px;font-size:5.2px;color:#444;transform:scaleX(0.925);transform-origin:0 0">Rotonda. Giro izq. Dirección Villanueva de Gumiel. BU- 912</div>
<div class="t" style="left:957.70px;width:40px;text-align:center;top:220.01px;font-size:5.2px;color:#444;transform:scaleX(0.8)">21,8</div>
<div class="t" style="left:978.20px;width:40px;text-align:center;top:220.01px;font-size:5.2px;color:#444;transform:scaleX(0.8)">91,9</div>
<div class="t" style="left:994.00px;width:40px;text-align:center;top:220.01px;font-size:5.2px;color:#444;transform:scaleX(0.8)">10:32</div>
<div class="t" style="left:1015.90px;width:40px;text-align:center;top:220.01px;font-size:5.2px;color:#444;transform:scaleX(0.8)">10:31</div>
<div class="abs" style="left:809.5px;top:225.97px;width:237.50px;height:6.75px;background:#d2d2cf"></div>
<div class="t" style="left:813.00px;top:226.71px;font-size:5.2px;color:#444;transform:scaleX(0.925);transform-origin:0 0">Giro dcha. Dirección Aranda. BU-910</div>
<div class="t" style="left:957.70px;width:40px;text-align:center;top:226.71px;font-size:5.2px;color:#444;transform:scaleX(0.8)">24,8</div>
<div class="t" style="left:978.20px;width:40px;text-align:center;top:226.71px;font-size:5.2px;color:#444;transform:scaleX(0.8)">88,9</div>
<div class="t" style="left:994.00px;width:40px;text-align:center;top:226.71px;font-size:5.2px;color:#444;transform:scaleX(0.8)">10:40</div>
<div class="t" style="left:1015.90px;width:40px;text-align:center;top:226.71px;font-size:5.2px;color:#444;transform:scaleX(0.8)">10:38</div>
<div class="abs" style="left:809.5px;top:232.67px;width:237.50px;height:6.75px;background:#efefec"></div>
<div class="t" style="left:813.00px;top:233.42px;font-size:5.2px;color:#444;transform:scaleX(0.925);transform-origin:0 0"><span style="color:#262626;font-weight:700">SINOVAS</span></div>
<div class="t" style="left:957.70px;width:40px;text-align:center;top:233.42px;font-size:5.2px;color:#444;transform:scaleX(0.8)">31,6</div>
<div class="t" style="left:978.20px;width:40px;text-align:center;top:233.42px;font-size:5.2px;color:#444;transform:scaleX(0.8)">82,1</div>
<div class="t" style="left:994.00px;width:40px;text-align:center;top:233.42px;font-size:5.2px;color:#444;transform:scaleX(0.8)">10:42</div>
<div class="t" style="left:1015.90px;width:40px;text-align:center;top:233.42px;font-size:5.2px;color:#444;transform:scaleX(0.8)">10:45</div>
<div class="abs" style="left:809.5px;top:239.38px;width:237.50px;height:6.75px;background:#d2d2cf"></div>
<div class="t" style="left:813.00px;top:240.12px;font-size:5.2px;color:#444;transform:scaleX(0.925);transform-origin:0 0">Rotonda. Recto dirección Aranda</div>
<div class="t" style="left:957.70px;width:40px;text-align:center;top:240.12px;font-size:5.2px;color:#444;transform:scaleX(0.8)">33,1</div>
<div class="t" style="left:978.20px;width:40px;text-align:center;top:240.12px;font-size:5.2px;color:#444;transform:scaleX(0.8)">80,6</div>
<div class="t" style="left:994.00px;width:40px;text-align:center;top:240.12px;font-size:5.2px;color:#444;transform:scaleX(0.8)">10:49</div>
<div class="t" style="left:1015.90px;width:40px;text-align:center;top:240.12px;font-size:5.2px;color:#444;transform:scaleX(0.8)">10:47</div>
<div class="abs" style="left:809.5px;top:246.08px;width:237.50px;height:6.75px;background:#efefec"></div>
<div class="t" style="left:813.00px;top:246.83px;font-size:5.2px;color:#444;transform:scaleX(0.925);transform-origin:0 0"><span style="color:#262626;font-weight:700">ARANDA DE DUERO.</span> Cruce población</div>
<div class="t" style="left:957.70px;width:40px;text-align:center;top:246.83px;font-size:5.2px;color:#444;transform:scaleX(0.8)">34,7</div>
<div class="t" style="left:978.20px;width:40px;text-align:center;top:246.83px;font-size:5.2px;color:#444;transform:scaleX(0.8)">79,0</div>
<div class="t" style="left:994.00px;width:40px;text-align:center;top:246.83px;font-size:5.2px;color:#444;transform:scaleX(0.8)">10:52</div>
<div class="t" style="left:1015.90px;width:40px;text-align:center;top:246.83px;font-size:5.2px;color:#444;transform:scaleX(0.8)">10:49</div>
<div class="abs" style="left:809.5px;top:252.79px;width:237.50px;height:6.75px;background:#d2d2cf"></div>
<div class="t" style="left:813.00px;top:253.53px;font-size:5.2px;color:#444;transform:scaleX(0.925);transform-origin:0 0">Rotonda. Recto dirección Aranda</div>
<div class="t" style="left:957.70px;width:40px;text-align:center;top:253.53px;font-size:5.2px;color:#444;transform:scaleX(0.8)">35,1</div>
<div class="t" style="left:978.20px;width:40px;text-align:center;top:253.53px;font-size:5.2px;color:#444;transform:scaleX(0.8)">78,6</div>
<div class="t" style="left:994.00px;width:40px;text-align:center;top:253.53px;font-size:5.2px;color:#444;transform:scaleX(0.8)">10:52</div>
<div class="t" style="left:1015.90px;width:40px;text-align:center;top:253.53px;font-size:5.2px;color:#444;transform:scaleX(0.8)">10:50</div>
<div class="abs" style="left:809.5px;top:259.49px;width:237.50px;height:6.75px;background:#efefec"></div>
<div class="t" style="left:813.00px;top:260.23px;font-size:5.2px;color:#444;transform:scaleX(0.925);transform-origin:0 0"><span style="color:#37a257;font-weight:700">META VOLANTE</span> (C/ San Antón)</div>
<svg class="abs" style="left:887.29px;top:259.09px;overflow:visible" width="9.5" height="7.5"><rect x=".3" y=".3" width="8.90" height="6.90" rx="1.88" fill="#2f9a55" stroke="#1f6a3a" stroke-width=".5"/><rect x="2.85" y="2.62" width="3.80" height="2.25" fill="#fff" opacity=".8"/></svg>
<div class="t" style="left:957.70px;width:40px;text-align:center;top:260.23px;font-size:5.2px;color:#444;transform:scaleX(0.8)">35,2</div>
<div class="t" style="left:978.20px;width:40px;text-align:center;top:260.23px;font-size:5.2px;color:#444;transform:scaleX(0.8)">78,5</div>
<div class="t" style="left:994.00px;width:40px;text-align:center;top:260.23px;font-size:5.2px;color:#444;transform:scaleX(0.8)">10:52</div>
<div class="t" style="left:1015.90px;width:40px;text-align:center;top:260.23px;font-size:5.2px;color:#444;transform:scaleX(0.8)">10:50</div>
<div class="abs" style="left:809.5px;top:266.19px;width:237.50px;height:6.75px;background:#d2d2cf"></div>
<div class="t" style="left:813.00px;top:266.94px;font-size:5.2px;color:#444;transform:scaleX(0.925);transform-origin:0 0">Rotonda. Recto dirección Palencia por C/ San Antón</div>
<div class="t" style="left:957.70px;width:40px;text-align:center;top:266.94px;font-size:5.2px;color:#444;transform:scaleX(0.8)">35,3</div>
<div class="t" style="left:978.20px;width:40px;text-align:center;top:266.94px;font-size:5.2px;color:#444;transform:scaleX(0.8)">78,4</div>
<div class="t" style="left:994.00px;width:40px;text-align:center;top:266.94px;font-size:5.2px;color:#444;transform:scaleX(0.8)">10:52</div>
<div class="t" style="left:1015.90px;width:40px;text-align:center;top:266.94px;font-size:5.2px;color:#444;transform:scaleX(0.8)">10:50</div>
<div class="abs" style="left:809.5px;top:272.90px;width:237.50px;height:6.75px;background:#efefec"></div>
<div class="t" style="left:813.00px;top:273.64px;font-size:5.2px;color:#444;transform:scaleX(0.925);transform-origin:0 0">Rotonda. Recto dirección Palencia por CL-619</div>
<div class="t" style="left:957.70px;width:40px;text-align:center;top:273.64px;font-size:5.2px;color:#444;transform:scaleX(0.8)">35,8</div>
<div class="t" style="left:978.20px;width:40px;text-align:center;top:273.64px;font-size:5.2px;color:#444;transform:scaleX(0.8)">77,9</div>
<div class="t" style="left:994.00px;width:40px;text-align:center;top:273.64px;font-size:5.2px;color:#444;transform:scaleX(0.8)">10:53</div>
<div class="t" style="left:1015.90px;width:40px;text-align:center;top:273.64px;font-size:5.2px;color:#444;transform:scaleX(0.8)">10:51</div>
<div class="abs" style="left:809.5px;top:279.60px;width:237.50px;height:6.75px;background:#d2d2cf"></div>
<div class="t" style="left:813.00px;top:280.35px;font-size:5.2px;color:#444;transform:scaleX(0.925);transform-origin:0 0">Giro izq. Dirección Madrid. N-Ia (*Dirección contraria)</div>
<div class="t" style="left:957.70px;width:40px;text-align:center;top:280.35px;font-size:5.2px;color:#444;transform:scaleX(0.8)">36,2</div>
<div class="t" style="left:978.20px;width:40px;text-align:center;top:280.35px;font-size:5.2px;color:#444;transform:scaleX(0.8)">77,5</div>
<div class="t" style="left:994.00px;width:40px;text-align:center;top:280.35px;font-size:5.2px;color:#444;transform:scaleX(0.8)">10:54</div>
<div class="t" style="left:1015.90px;width:40px;text-align:center;top:280.35px;font-size:5.2px;color:#444;transform:scaleX(0.8)">10:51</div>
<div class="abs" style="left:809.5px;top:286.31px;width:237.50px;height:6.75px;background:#efefec"></div>
<div class="t" style="left:813.00px;top:287.05px;font-size:5.2px;color:#444;transform:scaleX(0.925);transform-origin:0 0">1ª Rotonda. Recto dirección Madrid. N-I</div>
<div class="t" style="left:957.70px;width:40px;text-align:center;top:287.05px;font-size:5.2px;color:#444;transform:scaleX(0.8)">40,0</div>
<div class="t" style="left:978.20px;width:40px;text-align:center;top:287.05px;font-size:5.2px;color:#444;transform:scaleX(0.8)">73,7</div>
<div class="t" style="left:994.00px;width:40px;text-align:center;top:287.05px;font-size:5.2px;color:#444;transform:scaleX(0.8)">11:00</div>
<div class="t" style="left:1015.90px;width:40px;text-align:center;top:287.05px;font-size:5.2px;color:#444;transform:scaleX(0.8)">10:57</div>
<div class="abs" style="left:809.5px;top:293.01px;width:237.50px;height:6.75px;background:#d2d2cf"></div>
<div class="t" style="left:813.00px;top:293.76px;font-size:5.2px;color:#444;transform:scaleX(0.925);transform-origin:0 0">2ª Rotonda. Recto dirección Madrid. N-I</div>
<div class="t" style="left:957.70px;width:40px;text-align:center;top:293.76px;font-size:5.2px;color:#444;transform:scaleX(0.8)">40,3</div>
<div class="t" style="left:978.20px;width:40px;text-align:center;top:293.76px;font-size:5.2px;color:#444;transform:scaleX(0.8)">73,4</div>
<div class="t" style="left:994.00px;width:40px;text-align:center;top:293.76px;font-size:5.2px;color:#444;transform:scaleX(0.8)">11:00</div>
<div class="t" style="left:1015.90px;width:40px;text-align:center;top:293.76px;font-size:5.2px;color:#444;transform:scaleX(0.8)">10:57</div>
<div class="abs" style="left:809.5px;top:299.72px;width:237.50px;height:6.75px;background:#efefec"></div>
<div class="t" style="left:813.00px;top:300.46px;font-size:5.2px;color:#444;transform:scaleX(0.925);transform-origin:0 0"><span style="color:#262626;font-weight:700">FUENTESPINA.</span> Cruce población.</div>
<div class="t" style="left:957.70px;width:40px;text-align:center;top:300.46px;font-size:5.2px;color:#444;transform:scaleX(0.8)">40,8</div>
<div class="t" style="left:978.20px;width:40px;text-align:center;top:300.46px;font-size:5.2px;color:#444;transform:scaleX(0.8)">72,9</div>
<div class="t" style="left:994.00px;width:40px;text-align:center;top:300.46px;font-size:5.2px;color:#444;transform:scaleX(0.8)">11:01</div>
<div class="t" style="left:1015.90px;width:40px;text-align:center;top:300.46px;font-size:5.2px;color:#444;transform:scaleX(0.8)">10:58</div>
<div class="abs" style="left:809.5px;top:306.42px;width:237.50px;height:6.75px;background:#d2d2cf"></div>
<div class="t" style="left:813.00px;top:307.16px;font-size:5.2px;color:#444;transform:scaleX(0.925);transform-origin:0 0">Rotonda. Recto dirección Milagros. N-I 829</div>
<div class="t" style="left:957.70px;width:40px;text-align:center;top:307.16px;font-size:5.2px;color:#444;transform:scaleX(0.8)">42,1</div>
<div class="t" style="left:978.20px;width:40px;text-align:center;top:307.16px;font-size:5.2px;color:#444;transform:scaleX(0.8)">71,6</div>
<div class="t" style="left:994.00px;width:40px;text-align:center;top:307.16px;font-size:5.2px;color:#444;transform:scaleX(0.8)">11:03</div>
<div class="t" style="left:1015.90px;width:40px;text-align:center;top:307.16px;font-size:5.2px;color:#444;transform:scaleX(0.8)">11:00</div>
<div class="abs" style="left:809.5px;top:313.12px;width:237.50px;height:6.75px;background:#efefec"></div>
<div class="t" style="left:813.00px;top:313.87px;font-size:5.2px;color:#444;transform:scaleX(0.925);transform-origin:0 0"><span style="color:#37a257;font-weight:700">META VOLANTE.</span> Área Tudanca.</div>
<svg class="abs" style="left:888.37px;top:312.73px;overflow:visible" width="9.5" height="7.5"><rect x=".3" y=".3" width="8.90" height="6.90" rx="1.88" fill="#2f9a55" stroke="#1f6a3a" stroke-width=".5"/><rect x="2.85" y="2.62" width="3.80" height="2.25" fill="#fff" opacity=".8"/></svg>
<div class="t" style="left:957.70px;width:40px;text-align:center;top:313.87px;font-size:5.2px;color:#444;transform:scaleX(0.8)">42,4</div>
<div class="t" style="left:978.20px;width:40px;text-align:center;top:313.87px;font-size:5.2px;color:#444;transform:scaleX(0.8)">71,3</div>
<div class="t" style="left:994.00px;width:40px;text-align:center;top:313.87px;font-size:5.2px;color:#444;transform:scaleX(0.8)">11:03</div>
<div class="t" style="left:1015.90px;width:40px;text-align:center;top:313.87px;font-size:5.2px;color:#444;transform:scaleX(0.8)">11:00</div>
<div class="abs" style="left:809.5px;top:319.83px;width:237.50px;height:6.75px;background:#d2d2cf"></div>
<div class="t" style="left:813.00px;top:320.57px;font-size:5.2px;color:#444;transform:scaleX(0.925);transform-origin:0 0">Giro izq. Dirección Fuentelcésped. BU-912</div>
<div class="t" style="left:957.70px;width:40px;text-align:center;top:320.57px;font-size:5.2px;color:#444;transform:scaleX(0.8)">45,4</div>
<div class="t" style="left:978.20px;width:40px;text-align:center;top:320.57px;font-size:5.2px;color:#444;transform:scaleX(0.8)">68,3</div>
<div class="t" style="left:994.00px;width:40px;text-align:center;top:320.57px;font-size:5.2px;color:#444;transform:scaleX(0.8)">11:08</div>
<div class="t" style="left:1015.90px;width:40px;text-align:center;top:320.57px;font-size:5.2px;color:#444;transform:scaleX(0.8)">11:04</div>
<div class="abs" style="left:809.5px;top:326.53px;width:237.50px;height:6.75px;background:#efefec"></div>
<div class="t" style="left:813.00px;top:327.28px;font-size:5.2px;color:#444;transform:scaleX(0.925);transform-origin:0 0"><span style="color:#262626;font-weight:700">FUENTELCÉSPED.</span> Cruce población</div>
<div class="t" style="left:957.70px;width:40px;text-align:center;top:327.28px;font-size:5.2px;color:#444;transform:scaleX(0.8)">49,8</div>
<div class="t" style="left:978.20px;width:40px;text-align:center;top:327.28px;font-size:5.2px;color:#444;transform:scaleX(0.8)">63,9</div>
<div class="t" style="left:994.00px;width:40px;text-align:center;top:327.28px;font-size:5.2px;color:#444;transform:scaleX(0.8)">11:14</div>
<div class="t" style="left:1015.90px;width:40px;text-align:center;top:327.28px;font-size:5.2px;color:#444;transform:scaleX(0.8)">11:11</div>
<div class="abs" style="left:809.5px;top:333.24px;width:237.50px;height:6.75px;background:#d2d2cf"></div>
<div class="t" style="left:813.00px;top:333.98px;font-size:5.2px;color:#444;transform:scaleX(0.925);transform-origin:0 0">Giro dcha. Dirección Montejo de la Vega. BU-9321</div>
<div class="t" style="left:957.70px;width:40px;text-align:center;top:333.98px;font-size:5.2px;color:#444;transform:scaleX(0.8)">50,0</div>
<div class="t" style="left:978.20px;width:40px;text-align:center;top:333.98px;font-size:5.2px;color:#444;transform:scaleX(0.8)">63,7</div>
<div class="t" style="left:994.00px;width:40px;text-align:center;top:333.98px;font-size:5.2px;color:#444;transform:scaleX(0.8)">11:15</div>
<div class="t" style="left:1015.90px;width:40px;text-align:center;top:333.98px;font-size:5.2px;color:#444;transform:scaleX(0.8)">11:11</div>
<div class="abs" style="left:809.5px;top:339.94px;width:237.50px;height:6.75px;background:#efefec"></div>
<div class="t" style="left:813.00px;top:340.68px;font-size:5.2px;color:#444;transform:scaleX(0.925);transform-origin:0 0">Provincia de Segovia. SG-V-9321</div>
<div class="t" style="left:957.70px;width:40px;text-align:center;top:340.68px;font-size:5.2px;color:#444;transform:scaleX(0.8)">52,2</div>
<div class="t" style="left:978.20px;width:40px;text-align:center;top:340.68px;font-size:5.2px;color:#444;transform:scaleX(0.8)">61,5</div>
<div class="t" style="left:994.00px;width:40px;text-align:center;top:340.68px;font-size:5.2px;color:#444;transform:scaleX(0.8)">11:18</div>
<div class="t" style="left:1015.90px;width:40px;text-align:center;top:340.68px;font-size:5.2px;color:#444;transform:scaleX(0.8)">11:14</div>
<div class="abs" style="left:809.5px;top:346.64px;width:237.50px;height:6.75px;background:#d2d2cf"></div>
<div class="t" style="left:813.00px;top:347.39px;font-size:5.2px;color:#444;transform:scaleX(0.925);transform-origin:0 0"><span style="color:#262626;font-weight:700">MONTEJO DE LA VEGA.</span> Cruce población.</div>
<div class="t" style="left:957.70px;width:40px;text-align:center;top:347.39px;font-size:5.2px;color:#444;transform:scaleX(0.8)">54,4</div>
<div class="t" style="left:978.20px;width:40px;text-align:center;top:347.39px;font-size:5.2px;color:#444;transform:scaleX(0.8)">59,3</div>
<div class="t" style="left:994.00px;width:40px;text-align:center;top:347.39px;font-size:5.2px;color:#444;transform:scaleX(0.8)">11:21</div>
<div class="t" style="left:1015.90px;width:40px;text-align:center;top:347.39px;font-size:5.2px;color:#444;transform:scaleX(0.8)">11:17</div>
<div class="abs" style="left:809.5px;top:353.35px;width:237.50px;height:6.75px;background:#efefec"></div>
<div class="t" style="left:813.00px;top:354.09px;font-size:5.2px;color:#444;transform:scaleX(0.925);transform-origin:0 0">Precaución paso estrecho. Puente</div>
<div class="t" style="left:957.70px;width:40px;text-align:center;top:354.09px;font-size:5.2px;color:#444;transform:scaleX(0.8)">54,6</div>
<div class="t" style="left:978.20px;width:40px;text-align:center;top:354.09px;font-size:5.2px;color:#444;transform:scaleX(0.8)">59,1</div>
<div class="t" style="left:994.00px;width:40px;text-align:center;top:354.09px;font-size:5.2px;color:#444;transform:scaleX(0.8)">11:21</div>
<div class="t" style="left:1015.90px;width:40px;text-align:center;top:354.09px;font-size:5.2px;color:#444;transform:scaleX(0.8)">11:18</div>
<div class="abs" style="left:809.5px;top:360.05px;width:237.50px;height:6.75px;background:#d2d2cf"></div>
<div class="t" style="left:813.00px;top:360.80px;font-size:5.2px;color:#444;transform:scaleX(0.925);transform-origin:0 0">Comienza puerto. C/ Real</div>
<div class="t" style="left:957.70px;width:40px;text-align:center;top:360.80px;font-size:5.2px;color:#444;transform:scaleX(0.8)">54,9</div>
<div class="t" style="left:978.20px;width:40px;text-align:center;top:360.80px;font-size:5.2px;color:#444;transform:scaleX(0.8)">58,8</div>
<div class="t" style="left:994.00px;width:40px;text-align:center;top:360.80px;font-size:5.2px;color:#444;transform:scaleX(0.8)">11:22</div>
<div class="t" style="left:1015.90px;width:40px;text-align:center;top:360.80px;font-size:5.2px;color:#444;transform:scaleX(0.8)">11:18</div>
<div class="abs" style="left:809.5px;top:366.76px;width:237.50px;height:6.75px;background:#efefec"></div>
<div class="t" style="left:813.00px;top:367.50px;font-size:5.2px;color:#444;transform:scaleX(0.925);transform-origin:0 0">Giro izq. Dirección Valdevacas. SG-V-9322. 1100</div>
<div class="t" style="left:957.70px;width:40px;text-align:center;top:367.50px;font-size:5.2px;color:#444;transform:scaleX(0.8)">55,1</div>
<div class="t" style="left:978.20px;width:40px;text-align:center;top:367.50px;font-size:5.2px;color:#444;transform:scaleX(0.8)">58,6</div>
<div class="t" style="left:994.00px;width:40px;text-align:center;top:367.50px;font-size:5.2px;color:#444;transform:scaleX(0.8)">11:22</div>
<div class="t" style="left:1015.90px;width:40px;text-align:center;top:367.50px;font-size:5.2px;color:#444;transform:scaleX(0.8)">11:18</div>
<div class="abs" style="left:809.5px;top:373.46px;width:237.50px;height:6.75px;background:#d2d2cf"></div>
<div class="t" style="left:813.00px;top:374.20px;font-size:5.2px;color:#444;transform:scaleX(0.925);transform-origin:0 0"><span style="color:#7b2c6a;font-weight:700">PREMIO MONTAÑA.</span> Alto de Valdevacas. 2ª Cat.</div>
<svg class="abs" style="left:921.05px;top:373.06px;overflow:visible" width="13" height="8.5"><polygon points="6.50,0 13.00,8.50 0,8.50" fill="#5f2753"/><text x="6.50" y="7.22" font-size="4.25" fill="#fff" text-anchor="middle" font-family="Liberation Sans" font-weight="700">3</text></svg>
<div class="t" style="left:957.70px;width:40px;text-align:center;top:374.20px;font-size:5.2px;color:#444;transform:scaleX(0.8)">59,2</div>
<div class="t" style="left:978.20px;width:40px;text-align:center;top:374.20px;font-size:5.2px;color:#444;transform:scaleX(0.8)">54,5</div>
<div class="t" style="left:994.00px;width:40px;text-align:center;top:374.20px;font-size:5.2px;color:#444;transform:scaleX(0.8)">11:28</div>
<div class="t" style="left:1015.90px;width:40px;text-align:center;top:374.20px;font-size:5.2px;color:#444;transform:scaleX(0.8)">11:24</div>
<div class="abs" style="left:809.5px;top:380.16px;width:237.50px;height:6.75px;background:#efefec"></div>
<div class="t" style="left:813.00px;top:380.91px;font-size:5.2px;color:#444;transform:scaleX(0.925);transform-origin:0 0">Continuar recto. Dirección Moral de Hornuez. SG-V-9322.</div>
<div class="t" style="left:957.70px;width:40px;text-align:center;top:380.91px;font-size:5.2px;color:#444;transform:scaleX(0.8)">59,3</div>
<div class="t" style="left:978.20px;width:40px;text-align:center;top:380.91px;font-size:5.2px;color:#444;transform:scaleX(0.8)">54,4</div>
<div class="t" style="left:994.00px;width:40px;text-align:center;top:380.91px;font-size:5.2px;color:#444;transform:scaleX(0.8)">11:28</div>
<div class="t" style="left:1015.90px;width:40px;text-align:center;top:380.91px;font-size:5.2px;color:#444;transform:scaleX(0.8)">11:24</div>
<div class="abs" style="left:809.5px;top:386.87px;width:237.50px;height:6.75px;background:#d2d2cf"></div>
<div class="t" style="left:813.00px;top:387.61px;font-size:5.2px;color:#444;transform:scaleX(0.925);transform-origin:0 0">Giro izq. Dirección Moral de Hornuez. SG-V-9322.</div>
<div class="t" style="left:957.70px;width:40px;text-align:center;top:387.61px;font-size:5.2px;color:#444;transform:scaleX(0.8)">63,7</div>
<div class="t" style="left:978.20px;width:40px;text-align:center;top:387.61px;font-size:5.2px;color:#444;transform:scaleX(0.8)">50,0</div>
<div class="t" style="left:994.00px;width:40px;text-align:center;top:387.61px;font-size:5.2px;color:#444;transform:scaleX(0.8)">11:35</div>
<div class="t" style="left:1015.90px;width:40px;text-align:center;top:387.61px;font-size:5.2px;color:#444;transform:scaleX(0.8)">11:31</div>
<div class="abs" style="left:809.5px;top:393.57px;width:237.50px;height:6.75px;background:#efefec"></div>
<div class="t" style="left:813.00px;top:394.32px;font-size:5.2px;color:#444;transform:scaleX(0.925);transform-origin:0 0"><span style="color:#262626;font-weight:700">MORAL DE HORNUEZ.</span> Precaución. Paso muy estrecho.</div>
<div class="t" style="left:957.70px;width:40px;text-align:center;top:394.32px;font-size:5.2px;color:#444;transform:scaleX(0.8)">66,1</div>
<div class="t" style="left:978.20px;width:40px;text-align:center;top:394.32px;font-size:5.2px;color:#444;transform:scaleX(0.8)">47,6</div>
<div class="t" style="left:994.00px;width:40px;text-align:center;top:394.32px;font-size:5.2px;color:#444;transform:scaleX(0.8)">11:39</div>
<div class="t" style="left:1015.90px;width:40px;text-align:center;top:394.32px;font-size:5.2px;color:#444;transform:scaleX(0.8)">11:34</div>
<div class="abs" style="left:809.5px;top:400.28px;width:237.50px;height:6.75px;background:#d2d2cf"></div>
<div class="t" style="left:813.00px;top:401.02px;font-size:5.2px;color:#444;transform:scaleX(0.925);transform-origin:0 0"><span style="color:#262626;font-weight:700">FUENTEMIZARRA.</span> Cruce población. Paso muy estrecho.</div>
<div class="t" style="left:957.70px;width:40px;text-align:center;top:401.02px;font-size:5.2px;color:#444;transform:scaleX(0.8)">71,1</div>
<div class="t" style="left:978.20px;width:40px;text-align:center;top:401.02px;font-size:5.2px;color:#444;transform:scaleX(0.8)">42,6</div>
<div class="t" style="left:994.00px;width:40px;text-align:center;top:401.02px;font-size:5.2px;color:#444;transform:scaleX(0.8)">11:46</div>
<div class="t" style="left:1015.90px;width:40px;text-align:center;top:401.02px;font-size:5.2px;color:#444;transform:scaleX(0.8)">11:41</div>
<div class="abs" style="left:809.5px;top:406.98px;width:237.50px;height:6.75px;background:#efefec"></div>
<div class="t" style="left:813.00px;top:407.73px;font-size:5.2px;color:#444;transform:scaleX(0.925);transform-origin:0 0"> Cruce. Giro izq. Dirección Maderuelo. CL-114.</div>
<div class="t" style="left:957.70px;width:40px;text-align:center;top:407.73px;font-size:5.2px;color:#444;transform:scaleX(0.8)">71,5</div>
<div class="t" style="left:978.20px;width:40px;text-align:center;top:407.73px;font-size:5.2px;color:#444;transform:scaleX(0.8)">42,2</div>
<div class="t" style="left:994.00px;width:40px;text-align:center;top:407.73px;font-size:5.2px;color:#444;transform:scaleX(0.8)">11:47</div>
<div class="t" style="left:1015.90px;width:40px;text-align:center;top:407.73px;font-size:5.2px;color:#444;transform:scaleX(0.8)">11:42</div>
<div class="abs" style="left:809.5px;top:413.68px;width:237.50px;height:6.75px;background:#d2d2cf"></div>
<div class="t" style="left:813.00px;top:414.43px;font-size:5.2px;color:#444;transform:scaleX(0.925);transform-origin:0 0"><span style="color:#262626;font-weight:700">VALDEVARNÉS.</span></div>
<div class="t" style="left:957.70px;width:40px;text-align:center;top:414.43px;font-size:5.2px;color:#444;transform:scaleX(0.8)">72,6</div>
<div class="t" style="left:978.20px;width:40px;text-align:center;top:414.43px;font-size:5.2px;color:#444;transform:scaleX(0.8)">41,1</div>
<div class="t" style="left:994.00px;width:40px;text-align:center;top:414.43px;font-size:5.2px;color:#444;transform:scaleX(0.8)">11:48</div>
<div class="t" style="left:1015.90px;width:40px;text-align:center;top:414.43px;font-size:5.2px;color:#444;transform:scaleX(0.8)">11:43</div>
<div class="abs" style="left:809.5px;top:420.39px;width:237.50px;height:6.75px;background:#efefec"></div>
<div class="t" style="left:813.00px;top:421.13px;font-size:5.2px;color:#444;transform:scaleX(0.925);transform-origin:0 0"><span style="color:#262626;font-weight:700">MADERUELO. SG-V-9113.</span></div>
<div class="t" style="left:957.70px;width:40px;text-align:center;top:421.13px;font-size:5.2px;color:#444;transform:scaleX(0.8)">75,8</div>
<div class="t" style="left:978.20px;width:40px;text-align:center;top:421.13px;font-size:5.2px;color:#444;transform:scaleX(0.8)">37,9</div>
<div class="t" style="left:994.00px;width:40px;text-align:center;top:421.13px;font-size:5.2px;color:#444;transform:scaleX(0.8)">11:53</div>
<div class="t" style="left:1015.90px;width:40px;text-align:center;top:421.13px;font-size:5.2px;color:#444;transform:scaleX(0.8)">11:48</div>
<div class="abs" style="left:809.5px;top:427.09px;width:237.50px;height:6.75px;background:#d2d2cf"></div>
<div class="t" style="left:813.00px;top:427.84px;font-size:5.2px;color:#444;transform:scaleX(0.925);transform-origin:0 0">Giro izquierda. Puente embalse de Linares.</div>
<div class="t" style="left:957.70px;width:40px;text-align:center;top:427.84px;font-size:5.2px;color:#444;transform:scaleX(0.8)">77,5</div>
<div class="t" style="left:978.20px;width:40px;text-align:center;top:427.84px;font-size:5.2px;color:#444;transform:scaleX(0.8)">36,2</div>
<div class="t" style="left:994.00px;width:40px;text-align:center;top:427.84px;font-size:5.2px;color:#444;transform:scaleX(0.8)">11:56</div>
<div class="t" style="left:1015.90px;width:40px;text-align:center;top:427.84px;font-size:5.2px;color:#444;transform:scaleX(0.8)">11:50</div>
<div class="abs" style="left:809.5px;top:433.80px;width:237.50px;height:6.75px;background:#efefec"></div>
<div class="t" style="left:813.00px;top:434.54px;font-size:5.2px;color:#444;transform:scaleX(0.925);transform-origin:0 0">Giro izq. Dirección Castillejo de Robledo. SG-945.</div>
<div class="t" style="left:957.70px;width:40px;text-align:center;top:434.54px;font-size:5.2px;color:#444;transform:scaleX(0.8)">77,8</div>
<div class="t" style="left:978.20px;width:40px;text-align:center;top:434.54px;font-size:5.2px;color:#444;transform:scaleX(0.8)">35,9</div>
<div class="t" style="left:994.00px;width:40px;text-align:center;top:434.54px;font-size:5.2px;color:#444;transform:scaleX(0.8)">12:56</div>
<div class="t" style="left:1015.90px;width:40px;text-align:center;top:434.54px;font-size:5.2px;color:#444;transform:scaleX(0.8)">11:51</div>
<div class="abs" style="left:809.5px;top:440.50px;width:237.50px;height:6.75px;background:#d2d2cf"></div>
<div class="t" style="left:813.00px;top:441.25px;font-size:5.2px;color:#444;transform:scaleX(0.925);transform-origin:0 0">Giro dcha. Dirección Castillejo. SO-P-4206.</div>
<div class="t" style="left:957.70px;width:40px;text-align:center;top:441.25px;font-size:5.2px;color:#444;transform:scaleX(0.8)">82,3</div>
<div class="t" style="left:978.20px;width:40px;text-align:center;top:441.25px;font-size:5.2px;color:#444;transform:scaleX(0.8)">31,4</div>
<div class="t" style="left:994.00px;width:40px;text-align:center;top:441.25px;font-size:5.2px;color:#444;transform:scaleX(0.8)">12:03</div>
<div class="t" style="left:1015.90px;width:40px;text-align:center;top:441.25px;font-size:5.2px;color:#444;transform:scaleX(0.8)">11:57</div>
<div class="abs" style="left:809.5px;top:447.21px;width:237.50px;height:6.75px;background:#efefec"></div>
<div class="t" style="left:813.00px;top:447.95px;font-size:5.2px;color:#444;transform:scaleX(0.925);transform-origin:0 0"><span style="color:#7b2c6a;font-weight:700">PREMIO MONTAÑA.</span> 3ª Cat.</div>
<svg class="abs" style="left:877.82px;top:446.81px;overflow:visible" width="13" height="8.5"><polygon points="6.50,0 13.00,8.50 0,8.50" fill="#5f2753"/><text x="6.50" y="7.22" font-size="4.25" fill="#fff" text-anchor="middle" font-family="Liberation Sans" font-weight="700">3</text></svg>
<div class="t" style="left:957.70px;width:40px;text-align:center;top:447.95px;font-size:5.2px;color:#444;transform:scaleX(0.8)">82,7</div>
<div class="t" style="left:978.20px;width:40px;text-align:center;top:447.95px;font-size:5.2px;color:#444;transform:scaleX(0.8)">31,0</div>
<div class="t" style="left:994.00px;width:40px;text-align:center;top:447.95px;font-size:5.2px;color:#444;transform:scaleX(0.8)">12:04</div>
<div class="t" style="left:1015.90px;width:40px;text-align:center;top:447.95px;font-size:5.2px;color:#444;transform:scaleX(0.8)">11:58</div>
<div class="abs" style="left:809.5px;top:453.91px;width:237.50px;height:6.75px;background:#d2d2cf"></div>
<div class="t" style="left:813.00px;top:454.65px;font-size:5.2px;color:#444;transform:scaleX(0.925);transform-origin:0 0">Provincia de Soria. SO-P-4206.</div>
<div class="t" style="left:957.70px;width:40px;text-align:center;top:454.65px;font-size:5.2px;color:#444;transform:scaleX(0.8)">83,5</div>
<div class="t" style="left:978.20px;width:40px;text-align:center;top:454.65px;font-size:5.2px;color:#444;transform:scaleX(0.8)">30,2</div>
<div class="t" style="left:994.00px;width:40px;text-align:center;top:454.65px;font-size:5.2px;color:#444;transform:scaleX(0.8)">12:05</div>
<div class="t" style="left:1015.90px;width:40px;text-align:center;top:454.65px;font-size:5.2px;color:#444;transform:scaleX(0.8)">11:59</div>
<div class="abs" style="left:809.5px;top:460.61px;width:237.50px;height:6.75px;background:#efefec"></div>
<div class="t" style="left:813.00px;top:461.36px;font-size:5.2px;color:#444;transform:scaleX(0.925);transform-origin:0 0"><span style="color:#262626;font-weight:700">CASTILLEJO DE ROBLEDO.</span> Cruce población</div>
<div class="t" style="left:957.70px;width:40px;text-align:center;top:461.36px;font-size:5.2px;color:#444;transform:scaleX(0.8)">87,0</div>
<div class="t" style="left:978.20px;width:40px;text-align:center;top:461.36px;font-size:5.2px;color:#444;transform:scaleX(0.8)">26,7</div>
<div class="t" style="left:994.00px;width:40px;text-align:center;top:461.36px;font-size:5.2px;color:#444;transform:scaleX(0.8)">12:10</div>
<div class="t" style="left:1015.90px;width:40px;text-align:center;top:461.36px;font-size:5.2px;color:#444;transform:scaleX(0.8)">12:04</div>
<div class="abs" style="left:809.5px;top:467.32px;width:237.50px;height:6.75px;background:#efefec"></div>
<div class="t" style="left:813.00px;top:468.06px;font-size:5.2px;color:#444;transform:scaleX(0.925);transform-origin:0 0">Recto por C/ Doña Gregoria Arranz</div>
<div class="t" style="left:957.70px;width:40px;text-align:center;top:468.06px;font-size:5.2px;color:#444;transform:scaleX(0.8)">87,1</div>
<div class="t" style="left:978.20px;width:40px;text-align:center;top:468.06px;font-size:5.2px;color:#444;transform:scaleX(0.8)">26,6</div>
<div class="t" style="left:994.00px;width:40px;text-align:center;top:468.06px;font-size:5.2px;color:#444;transform:scaleX(0.8)">12:10</div>
<div class="t" style="left:1015.90px;width:40px;text-align:center;top:468.06px;font-size:5.2px;color:#444;transform:scaleX(0.8)">12:04</div>
<div class="abs" style="left:809.5px;top:474.02px;width:237.50px;height:6.75px;background:#d2d2cf"></div>
<div class="t" style="left:813.00px;top:474.77px;font-size:5.2px;color:#444;transform:scaleX(0.925);transform-origin:0 0">Giro izq. C/ Los Heros.</div>
<div class="t" style="left:957.70px;width:40px;text-align:center;top:474.77px;font-size:5.2px;color:#444;transform:scaleX(0.8)">87,3</div>
<div class="t" style="left:978.20px;width:40px;text-align:center;top:474.77px;font-size:5.2px;color:#444;transform:scaleX(0.8)">26,4</div>
<div class="t" style="left:994.00px;width:40px;text-align:center;top:474.77px;font-size:5.2px;color:#444;transform:scaleX(0.8)">12:10</div>
<div class="t" style="left:1015.90px;width:40px;text-align:center;top:474.77px;font-size:5.2px;color:#444;transform:scaleX(0.8)">12:04</div>
<div class="abs" style="left:809.5px;top:480.73px;width:237.50px;height:6.75px;background:#efefec"></div>
<div class="t" style="left:813.00px;top:481.47px;font-size:5.2px;color:#444;transform:scaleX(0.925);transform-origin:0 0">Giro dcha. Camino asfaltado. Firme en mal estado</div>
<div class="t" style="left:957.70px;width:40px;text-align:center;top:481.47px;font-size:5.2px;color:#444;transform:scaleX(0.8)">88,4</div>
<div class="t" style="left:978.20px;width:40px;text-align:center;top:481.47px;font-size:5.2px;color:#444;transform:scaleX(0.8)">25,3</div>
<div class="t" style="left:994.00px;width:40px;text-align:center;top:481.47px;font-size:5.2px;color:#444;transform:scaleX(0.8)">12:12</div>
<div class="t" style="left:1015.90px;width:40px;text-align:center;top:481.47px;font-size:5.2px;color:#444;transform:scaleX(0.8)">12:06</div>
<div class="abs" style="left:809.5px;top:487.43px;width:237.50px;height:6.75px;background:#d2d2cf"></div>
<div class="t" style="left:813.00px;top:488.17px;font-size:5.2px;color:#444;transform:scaleX(0.925);transform-origin:0 0">Giro izq. Dirección Santa Cruz. SO-P-4205. 947 <span style="color:#d42a2a;font-weight:700">NO SUBIR MOTOS</span></div>
<div class="t" style="left:957.70px;width:40px;text-align:center;top:488.17px;font-size:5.2px;color:#444;transform:scaleX(0.8)">89,5</div>
<div class="t" style="left:978.20px;width:40px;text-align:center;top:488.17px;font-size:5.2px;color:#444;transform:scaleX(0.8)">24,2</div>
<div class="t" style="left:994.00px;width:40px;text-align:center;top:488.17px;font-size:5.2px;color:#444;transform:scaleX(0.8)">12:14</div>
<div class="t" style="left:1015.90px;width:40px;text-align:center;top:488.17px;font-size:5.2px;color:#444;transform:scaleX(0.8)">12:07</div>
<div class="abs" style="left:809.5px;top:494.13px;width:237.50px;height:6.75px;background:#efefec"></div>
<div class="t" style="left:813.00px;top:494.88px;font-size:5.2px;color:#444;transform:scaleX(0.925);transform-origin:0 0">Provincia de Burgos. BU-V-9321</div>
<div class="t" style="left:957.70px;width:40px;text-align:center;top:494.88px;font-size:5.2px;color:#444;transform:scaleX(0.8)">93,7</div>
<div class="t" style="left:978.20px;width:40px;text-align:center;top:494.88px;font-size:5.2px;color:#444;transform:scaleX(0.8)">20,0</div>
<div class="t" style="left:994.00px;width:40px;text-align:center;top:494.88px;font-size:5.2px;color:#444;transform:scaleX(0.8)">12:20</div>
<div class="t" style="left:1015.90px;width:40px;text-align:center;top:494.88px;font-size:5.2px;color:#444;transform:scaleX(0.8)">12:13</div>
<div class="abs" style="left:809.5px;top:500.84px;width:237.50px;height:6.75px;background:#d2d2cf"></div>
<div class="t" style="left:813.00px;top:501.58px;font-size:5.2px;color:#444;transform:scaleX(0.925);transform-origin:0 0"><span style="color:#262626;font-weight:700">SANTA CRUZ DE LA SALCEDA.</span> Cruce población.</div>
<div class="t" style="left:957.70px;width:40px;text-align:center;top:501.58px;font-size:5.2px;color:#444;transform:scaleX(0.8)">98,2</div>
<div class="t" style="left:978.20px;width:40px;text-align:center;top:501.58px;font-size:5.2px;color:#444;transform:scaleX(0.8)">15,5</div>
<div class="t" style="left:994.00px;width:40px;text-align:center;top:501.58px;font-size:5.2px;color:#444;transform:scaleX(0.8)">12:27</div>
<div class="t" style="left:1015.90px;width:40px;text-align:center;top:501.58px;font-size:5.2px;color:#444;transform:scaleX(0.8)">12:20</div>
<div class="abs" style="left:809.5px;top:507.54px;width:237.50px;height:6.75px;background:#efefec"></div>
<div class="t" style="left:813.00px;top:508.29px;font-size:5.2px;color:#444;transform:scaleX(0.925);transform-origin:0 0">Giro izq. En Plaza Mayor. Continúa por C/ La Fuente.</div>
<div class="t" style="left:957.70px;width:40px;text-align:center;top:508.29px;font-size:5.2px;color:#444;transform:scaleX(0.8)">98,6</div>
<div class="t" style="left:978.20px;width:40px;text-align:center;top:508.29px;font-size:5.2px;color:#444;transform:scaleX(0.8)">15,1</div>
<div class="t" style="left:994.00px;width:40px;text-align:center;top:508.29px;font-size:5.2px;color:#444;transform:scaleX(0.8)">12:27</div>
<div class="t" style="left:1015.90px;width:40px;text-align:center;top:508.29px;font-size:5.2px;color:#444;transform:scaleX(0.8)">12:20</div>
<div class="abs" style="left:809.5px;top:514.25px;width:237.50px;height:6.75px;background:#d2d2cf"></div>
<div class="t" style="left:813.00px;top:514.99px;font-size:5.2px;color:#444;transform:scaleX(0.925);transform-origin:0 0">Giro dcha. Dirección Fuentelcésped.</div>
<div class="t" style="left:957.70px;width:40px;text-align:center;top:514.99px;font-size:5.2px;color:#444;transform:scaleX(0.8)">98,8</div>
<div class="t" style="left:978.20px;width:40px;text-align:center;top:514.99px;font-size:5.2px;color:#444;transform:scaleX(0.8)">14,9</div>
<div class="t" style="left:994.00px;width:40px;text-align:center;top:514.99px;font-size:5.2px;color:#444;transform:scaleX(0.8)">12:28</div>
<div class="t" style="left:1015.90px;width:40px;text-align:center;top:514.99px;font-size:5.2px;color:#444;transform:scaleX(0.8)">12:21</div>
<div class="abs" style="left:809.5px;top:520.95px;width:237.50px;height:6.75px;background:#efefec"></div>
<div class="t" style="left:813.00px;top:521.69px;font-size:5.2px;color:#444;transform:scaleX(0.925);transform-origin:0 0">Giro izq. Dirección Fuentelcésped. BU-912</div>
<div class="t" style="left:957.70px;width:40px;text-align:center;top:521.69px;font-size:5.2px;color:#444;transform:scaleX(0.8)">99,1</div>
<div class="t" style="left:978.20px;width:40px;text-align:center;top:521.69px;font-size:5.2px;color:#444;transform:scaleX(0.8)">14,6</div>
<div class="t" style="left:994.00px;width:40px;text-align:center;top:521.69px;font-size:5.2px;color:#444;transform:scaleX(0.8)">12:28</div>
<div class="t" style="left:1015.90px;width:40px;text-align:center;top:521.69px;font-size:5.2px;color:#444;transform:scaleX(0.8)">12:21</div>
<div class="abs" style="left:809.5px;top:527.65px;width:237.50px;height:6.75px;background:#d2d2cf"></div>
<div class="t" style="left:813.00px;top:528.40px;font-size:5.2px;color:#444;transform:scaleX(0.925);transform-origin:0 0">PRECAUCIÓN. Puente estrecho.</div>
<div class="t" style="left:957.70px;width:40px;text-align:center;top:528.40px;font-size:5.2px;color:#444;transform:scaleX(0.8)">102,2</div>
<div class="t" style="left:978.20px;width:40px;text-align:center;top:528.40px;font-size:5.2px;color:#444;transform:scaleX(0.8)">11,5</div>
<div class="t" style="left:994.00px;width:40px;text-align:center;top:528.40px;font-size:5.2px;color:#444;transform:scaleX(0.8)">12:33</div>
<div class="t" style="left:1015.90px;width:40px;text-align:center;top:528.40px;font-size:5.2px;color:#444;transform:scaleX(0.8)">12:26</div>
<div class="abs" style="left:809.5px;top:534.36px;width:237.50px;height:6.75px;background:#efefec"></div>
<div class="t" style="left:813.00px;top:535.10px;font-size:5.2px;color:#444;transform:scaleX(0.925);transform-origin:0 0"><span style="color:#262626;font-weight:700">FUENTELCÉSPED.</span> Cruce población.</div>
<div class="t" style="left:957.70px;width:40px;text-align:center;top:535.10px;font-size:5.2px;color:#444;transform:scaleX(0.8)">102,7</div>
<div class="t" style="left:978.20px;width:40px;text-align:center;top:535.10px;font-size:5.2px;color:#444;transform:scaleX(0.8)">11,0</div>
<div class="t" style="left:994.00px;width:40px;text-align:center;top:535.10px;font-size:5.2px;color:#444;transform:scaleX(0.8)">12:34</div>
<div class="t" style="left:1015.90px;width:40px;text-align:center;top:535.10px;font-size:5.2px;color:#444;transform:scaleX(0.8)">12:26</div>
<div class="abs" style="left:809.5px;top:541.06px;width:237.50px;height:6.75px;background:#d2d2cf"></div>
<div class="t" style="left:813.00px;top:541.81px;font-size:5.2px;color:#444;transform:scaleX(0.925);transform-origin:0 0">Giro dcha. 180º dirección Aranda. BU-945</div>
<div class="t" style="left:957.70px;width:40px;text-align:center;top:541.81px;font-size:5.2px;color:#444;transform:scaleX(0.8)">103,2</div>
<div class="t" style="left:978.20px;width:40px;text-align:center;top:541.81px;font-size:5.2px;color:#444;transform:scaleX(0.8)">10,5</div>
<div class="t" style="left:994.00px;width:40px;text-align:center;top:541.81px;font-size:5.2px;color:#444;transform:scaleX(0.8)">12:34</div>
<div class="t" style="left:1015.90px;width:40px;text-align:center;top:541.81px;font-size:5.2px;color:#444;transform:scaleX(0.8)">12:27</div>
<div class="abs" style="left:809.5px;top:547.77px;width:237.50px;height:6.75px;background:#efefec"></div>
<div class="t" style="left:813.00px;top:548.51px;font-size:5.2px;color:#444;transform:scaleX(0.925);transform-origin:0 0"><span style="color:#262626;font-weight:700">FUENTESPINA.</span> Cruce población.</div>
<div class="t" style="left:957.70px;width:40px;text-align:center;top:548.51px;font-size:5.2px;color:#444;transform:scaleX(0.8)">109,0</div>
<div class="t" style="left:978.20px;width:40px;text-align:center;top:548.51px;font-size:5.2px;color:#444;transform:scaleX(0.8)">4,7</div>
<div class="t" style="left:994.00px;width:40px;text-align:center;top:548.51px;font-size:5.2px;color:#444;transform:scaleX(0.8)">12:43</div>
<div class="t" style="left:1015.90px;width:40px;text-align:center;top:548.51px;font-size:5.2px;color:#444;transform:scaleX(0.8)">12:35</div>
<div class="abs" style="left:809.5px;top:554.47px;width:237.50px;height:6.75px;background:#d2d2cf"></div>
<div class="t" style="left:813.00px;top:555.22px;font-size:5.2px;color:#444;transform:scaleX(0.925);transform-origin:0 0">Giro dcha. Dirección Aranda. N-I</div>
<div class="t" style="left:957.70px;width:40px;text-align:center;top:555.22px;font-size:5.2px;color:#444;transform:scaleX(0.8)">109,7</div>
<div class="t" style="left:978.20px;width:40px;text-align:center;top:555.22px;font-size:5.2px;color:#444;transform:scaleX(0.8)">4,0</div>
<div class="t" style="left:994.00px;width:40px;text-align:center;top:555.22px;font-size:5.2px;color:#444;transform:scaleX(0.8)">12:44</div>
<div class="t" style="left:1015.90px;width:40px;text-align:center;top:555.22px;font-size:5.2px;color:#444;transform:scaleX(0.8)">12:36</div>
<div class="abs" style="left:809.5px;top:561.18px;width:237.50px;height:6.75px;background:#efefec"></div>
<div class="t" style="left:813.00px;top:561.92px;font-size:5.2px;color:#444;transform:scaleX(0.925);transform-origin:0 0">Rotonda. Recto dirección Aranda. N-I</div>
<div class="t" style="left:957.70px;width:40px;text-align:center;top:561.92px;font-size:5.2px;color:#444;transform:scaleX(0.8)">110,5</div>
<div class="t" style="left:978.20px;width:40px;text-align:center;top:561.92px;font-size:5.2px;color:#444;transform:scaleX(0.8)">3,2</div>
<div class="t" style="left:994.00px;width:40px;text-align:center;top:561.92px;font-size:5.2px;color:#444;transform:scaleX(0.8)">12:45</div>
<div class="t" style="left:1015.90px;width:40px;text-align:center;top:561.92px;font-size:5.2px;color:#444;transform:scaleX(0.8)">12:37</div>
<div class="abs" style="left:809.5px;top:567.88px;width:237.50px;height:6.75px;background:#d2d2cf"></div>
<div class="t" style="left:813.00px;top:568.62px;font-size:5.2px;color:#444;transform:scaleX(0.925);transform-origin:0 0">Rotonda. Giro dcha. Dirección Aranda. N Ia</div>
<div class="t" style="left:957.70px;width:40px;text-align:center;top:568.62px;font-size:5.2px;color:#444;transform:scaleX(0.8)">110,9</div>
<div class="t" style="left:978.20px;width:40px;text-align:center;top:568.62px;font-size:5.2px;color:#444;transform:scaleX(0.8)">2,8</div>
<div class="t" style="left:994.00px;width:40px;text-align:center;top:568.62px;font-size:5.2px;color:#444;transform:scaleX(0.8)">12:46</div>
<div class="t" style="left:1015.90px;width:40px;text-align:center;top:568.62px;font-size:5.2px;color:#444;transform:scaleX(0.8)">12:38</div>
<div class="abs" style="left:809.5px;top:574.58px;width:237.50px;height:6.75px;background:#efefec"></div>
<div class="t" style="left:813.00px;top:575.33px;font-size:5.2px;color:#444;transform:scaleX(0.925);transform-origin:0 0"><span style="color:#262626;font-weight:700">ARANDA DE DUERO.</span> Cruce población.</div>
<div class="t" style="left:957.70px;width:40px;text-align:center;top:575.33px;font-size:5.2px;color:#444;transform:scaleX(0.8)">111,4</div>
<div class="t" style="left:978.20px;width:40px;text-align:center;top:575.33px;font-size:5.2px;color:#444;transform:scaleX(0.8)">2,3</div>
<div class="t" style="left:994.00px;width:40px;text-align:center;top:575.33px;font-size:5.2px;color:#444;transform:scaleX(0.8)">12:47</div>
<div class="t" style="left:1015.90px;width:40px;text-align:center;top:575.33px;font-size:5.2px;color:#444;transform:scaleX(0.8)">12:39</div>
<div class="abs" style="left:809.5px;top:581.29px;width:237.50px;height:6.75px;background:#d2d2cf"></div>
<div class="t" style="left:813.00px;top:582.03px;font-size:5.2px;color:#444;transform:scaleX(0.925);transform-origin:0 0">Rotonda. Recto por Avd. Castilla. Pasos elevados</div>
<div class="t" style="left:957.70px;width:40px;text-align:center;top:582.03px;font-size:5.2px;color:#444;transform:scaleX(0.8)">112,4</div>
<div class="t" style="left:978.20px;width:40px;text-align:center;top:582.03px;font-size:5.2px;color:#444;transform:scaleX(0.8)">1,3</div>
<div class="t" style="left:994.00px;width:40px;text-align:center;top:582.03px;font-size:5.2px;color:#444;transform:scaleX(0.8)">12:48</div>
<div class="t" style="left:1015.90px;width:40px;text-align:center;top:582.03px;font-size:5.2px;color:#444;transform:scaleX(0.8)">12:40</div>
<div class="abs" style="left:809.5px;top:587.99px;width:237.50px;height:6.75px;background:#efefec"></div>
<div class="t" style="left:813.00px;top:588.74px;font-size:5.2px;color:#444;transform:scaleX(0.925);transform-origin:0 0">Puente río Duero. Giro dcha. Por C/ Postas.</div>
<div class="t" style="left:957.70px;width:40px;text-align:center;top:588.74px;font-size:5.2px;color:#444;transform:scaleX(0.8)">113,4</div>
<div class="t" style="left:978.20px;width:40px;text-align:center;top:588.74px;font-size:5.2px;color:#444;transform:scaleX(0.8)">0,3</div>
<div class="t" style="left:994.00px;width:40px;text-align:center;top:588.74px;font-size:5.2px;color:#444;transform:scaleX(0.8)">12:50</div>
<div class="t" style="left:1015.90px;width:40px;text-align:center;top:588.74px;font-size:5.2px;color:#444;transform:scaleX(0.8)">12:42</div>
<div class="abs" style="left:809.5px;top:594.70px;width:237.50px;height:6.75px;background:#d2d2cf"></div>
<div class="t" style="left:813.00px;top:595.44px;font-size:5.2px;color:#444;transform:scaleX(0.925);transform-origin:0 0"><span style="color:#c4377f;font-weight:700">META.</span> Jardines de Don Diego</div>
<div class="t" style="left:957.70px;width:40px;text-align:center;top:595.44px;font-size:5.2px;color:#444;transform:scaleX(0.8)">113,7</div>
<div class="t" style="left:978.20px;width:40px;text-align:center;top:595.44px;font-size:5.2px;color:#444;transform:scaleX(0.8)">0,0</div>
<div class="t" style="left:994.00px;width:40px;text-align:center;top:595.44px;font-size:5.2px;color:#444;transform:scaleX(0.8)">12:50</div>
<div class="t" style="left:1015.90px;width:40px;text-align:center;top:595.44px;font-size:5.2px;color:#444;transform:scaleX(0.8)">12:42</div>
<div class="t" style="left:153.00px;width:50px;text-align:center;top:608.74px;font-size:6.8px;font-weight:700;color:#222;transform:scaleX(.58)">KM</div>
<div class="t" style="left:170.00px;width:50px;text-align:center;top:608.74px;font-size:6.8px;font-weight:700;color:#222;transform:scaleX(.58)">KM</div>
<div class="t" style="left:170.00px;width:50px;text-align:center;top:617.24px;font-size:6.8px;font-weight:700;color:#222;transform:scaleX(.6)">Faltan</div>
<div class="t" style="left:190.00px;width:50px;text-align:center;top:608.74px;font-size:6.8px;font-weight:700;color:#222;transform:scaleX(.58)">HORARIO</div>
<div class="t" style="left:190.00px;width:50px;text-align:center;top:617.24px;font-size:6.8px;font-weight:700;color:#222;transform:scaleX(.6)">40KM/H</div>
<div class="t" style="left:210.00px;width:50px;text-align:center;top:608.74px;font-size:6.8px;font-weight:700;color:#222;transform:scaleX(.58)">HORARIO</div>
<div class="t" style="left:210.00px;width:50px;text-align:center;top:617.24px;font-size:6.8px;font-weight:700;color:#222;transform:scaleX(.6)">42KM/H</div>
<div class="t" style="left:425.90px;width:50px;text-align:center;top:571.88px;font-size:6.4px;font-weight:700;color:#222;transform:scaleX(.58)">KM</div>
<div class="t" style="left:440.50px;width:50px;text-align:center;top:571.88px;font-size:6.4px;font-weight:700;color:#222;transform:scaleX(.58)">KM</div>
<div class="t" style="left:440.50px;width:50px;text-align:center;top:580.08px;font-size:6.4px;font-weight:700;color:#222;transform:scaleX(.6)">Faltan</div>
<div class="t" style="left:458.80px;width:50px;text-align:center;top:571.88px;font-size:6.4px;font-weight:700;color:#222;transform:scaleX(.58)">HORARIO</div>
<div class="t" style="left:458.80px;width:50px;text-align:center;top:580.08px;font-size:6.4px;font-weight:700;color:#222;transform:scaleX(.6)">40KM/H</div>
<div class="t" style="left:479.20px;width:50px;text-align:center;top:571.88px;font-size:6.4px;font-weight:700;color:#222;transform:scaleX(.58)">HORARIO</div>
<div class="t" style="left:479.20px;width:50px;text-align:center;top:580.08px;font-size:6.4px;font-weight:700;color:#222;transform:scaleX(.6)">42KM/H</div>
<div class="t" style="left:687.40px;width:50px;text-align:center;top:509.24px;font-size:6.8px;font-weight:700;color:#222;transform:scaleX(.58)">KM</div>
<div class="t" style="left:702.50px;width:50px;text-align:center;top:509.24px;font-size:6.8px;font-weight:700;color:#222;transform:scaleX(.58)">KM</div>
<div class="t" style="left:702.50px;width:50px;text-align:center;top:518.24px;font-size:6.8px;font-weight:700;color:#222;transform:scaleX(.6)">Faltan</div>
<div class="t" style="left:720.00px;width:50px;text-align:center;top:509.24px;font-size:6.8px;font-weight:700;color:#222;transform:scaleX(.58)">HORARIO</div>
<div class="t" style="left:720.00px;width:50px;text-align:center;top:518.24px;font-size:6.8px;font-weight:700;color:#222;transform:scaleX(.6)">40KM/H</div>
<div class="t" style="left:742.75px;width:50px;text-align:center;top:509.24px;font-size:6.8px;font-weight:700;color:#222;transform:scaleX(.58)">HORARIO</div>
<div class="t" style="left:742.75px;width:50px;text-align:center;top:518.24px;font-size:6.8px;font-weight:700;color:#222;transform:scaleX(.6)">42KM/H</div>
<div class="t" style="left:954.40px;width:50px;text-align:center;top:603.26px;font-size:5.6px;font-weight:700;color:#222;transform:scaleX(.58)">KM</div>
<div class="t" style="left:970.50px;width:50px;text-align:center;top:603.26px;font-size:5.6px;font-weight:700;color:#222;transform:scaleX(.58)">KM</div>
<div class="t" style="left:970.50px;width:50px;text-align:center;top:609.76px;font-size:5.6px;font-weight:700;color:#222;transform:scaleX(.6)">Faltan</div>
<div class="t" style="left:990.50px;width:50px;text-align:center;top:603.26px;font-size:5.6px;font-weight:700;color:#222;transform:scaleX(.58)">HORARIO</div>
<div class="t" style="left:990.50px;width:50px;text-align:center;top:609.76px;font-size:5.6px;font-weight:700;color:#222;transform:scaleX(.6)">40KM/H</div>
<div class="t" style="left:1012.50px;width:50px;text-align:center;top:603.26px;font-size:5.6px;font-weight:700;color:#222;transform:scaleX(.58)">HORARIO</div>
<div class="t" style="left:1012.50px;width:50px;text-align:center;top:609.76px;font-size:5.6px;font-weight:700;color:#222;transform:scaleX(.6)">42KM/H</div>
<svg class="abs" style="left:0;top:0;pointer-events:none" width="1068" height="756"><defs><linearGradient id="g44" x1="0" y1="0" x2="0" y2="1"><stop offset="0" stop-color="#dc2830"/><stop offset="1" stop-color="#c8202a"/></linearGradient><clipPath id="cg44"><polygon points="44.2,715.5 44.2,667.5 47.5,665.0 52.5,668.0 58.8,669.5 65.0,670.5 75.0,672.5 80.0,674.2 86.2,678.8 91.2,681.2 96.2,675.0 105.0,675.5 110.0,676.2 115.0,682.5 120.0,685.0 127.5,686.8 138.8,687.5 147.5,688.8 155.0,685.0 162.5,678.8 168.0,673.8 172.5,675.5 177.5,678.8 183.8,683.2 190.0,679.5 195.0,674.5 202.5,674.5 208.8,675.0 213.8,679.5 217.5,678.8 221.5,677.5 221.5,715.5"/></clipPath></defs><polygon points="44.2,715.5 44.2,667.5 47.5,665.0 52.5,668.0 58.8,669.5 65.0,670.5 75.0,672.5 80.0,674.2 86.2,678.8 91.2,681.2 96.2,675.0 105.0,675.5 110.0,676.2 115.0,682.5 120.0,685.0 127.5,686.8 138.8,687.5 147.5,688.8 155.0,685.0 162.5,678.8 168.0,673.8 172.5,675.5 177.5,678.8 183.8,683.2 190.0,679.5 195.0,674.5 202.5,674.5 208.8,675.0 213.8,679.5 217.5,678.8 221.5,677.5 221.5,715.5" fill="url(#g44)"/><g clip-path="url(#cg44)"><path d="M44.2,715.5 L46.1,670.0 L47.9,715.5 Z" fill="#7a0a10" opacity="0.20"/><path d="M46.8,715.5 L48.2,640.2 L49.7,715.5 Z" fill="#7a0a10" opacity="0.09"/><path d="M48.8,715.5 L50.1,675.1 L51.4,715.5 Z" fill="#7a0a10" opacity="0.19"/><path d="M52.9,715.5 L54.6,663.2 L56.4,715.5 Z" fill="#7a0a10" opacity="0.17"/><path d="M55.9,715.5 L57.0,660.2 L58.2,715.5 Z" fill="#7a0a10" opacity="0.27"/><path d="M58.2,715.5 L59.3,673.9 L60.5,715.5 Z" fill="#7a0a10" opacity="0.10"/><path d="M60.5,715.5 L62.8,636.9 L65.0,715.5 Z" fill="#7a0a10" opacity="0.29"/><path d="M63.7,715.5 L65.6,643.0 L67.6,715.5 Z" fill="#7a0a10" opacity="0.28"/><path d="M66.5,715.5 L68.0,662.4 L69.4,715.5 Z" fill="#7a0a10" opacity="0.09"/><path d="M70.9,715.5 L72.8,664.0 L74.7,715.5 Z" fill="#7a0a10" opacity="0.09"/><path d="M75.1,715.5 L77.4,668.7 L79.7,715.5 Z" fill="#7a0a10" opacity="0.15"/><path d="M79.0,715.5 L81.2,644.8 L83.4,715.5 Z" fill="#7a0a10" opacity="0.20"/><path d="M82.4,715.5 L85.0,649.3 L87.6,715.5 Z" fill="#7a0a10" opacity="0.23"/><path d="M86.8,715.5 L89.5,641.8 L92.2,715.5 Z" fill="#7a0a10" opacity="0.09"/><path d="M89.5,715.5 L90.5,661.4 L91.6,715.5 Z" fill="#7a0a10" opacity="0.25"/><path d="M93.1,715.5 L96.1,643.5 L99.1,715.5 Z" fill="#7a0a10" opacity="0.16"/><path d="M95.5,715.5 L97.1,659.8 L98.8,715.5 Z" fill="#7a0a10" opacity="0.26"/><path d="M97.6,715.5 L99.5,660.4 L101.4,715.5 Z" fill="#7a0a10" opacity="0.09"/><path d="M100.0,715.5 L101.4,668.9 L102.7,715.5 Z" fill="#7a0a10" opacity="0.22"/><path d="M103.9,715.5 L105.5,646.4 L107.0,715.5 Z" fill="#7a0a10" opacity="0.22"/><path d="M105.9,715.5 L107.4,660.6 L109.0,715.5 Z" fill="#7a0a10" opacity="0.23"/><path d="M108.5,715.5 L111.2,646.7 L113.8,715.5 Z" fill="#7a0a10" opacity="0.26"/><path d="M113.4,715.5 L114.9,656.0 L116.4,715.5 Z" fill="#7a0a10" opacity="0.09"/><path d="M117.9,715.5 L120.1,655.0 L122.3,715.5 Z" fill="#7a0a10" opacity="0.20"/><path d="M120.8,715.5 L122.4,657.4 L124.0,715.5 Z" fill="#7a0a10" opacity="0.17"/><path d="M125.6,715.5 L126.8,673.2 L127.9,715.5 Z" fill="#7a0a10" opacity="0.14"/><path d="M129.6,715.5 L130.8,661.5 L131.9,715.5 Z" fill="#7a0a10" opacity="0.18"/><path d="M134.3,715.5 L135.5,666.3 L136.7,715.5 Z" fill="#7a0a10" opacity="0.28"/><path d="M137.2,715.5 L139.2,645.2 L141.3,715.5 Z" fill="#7a0a10" opacity="0.26"/><path d="M141.3,715.5 L143.4,646.4 L145.5,715.5 Z" fill="#7a0a10" opacity="0.10"/><path d="M144.5,715.5 L145.8,645.5 L147.1,715.5 Z" fill="#7a0a10" opacity="0.29"/><path d="M147.2,715.5 L149.4,648.3 L151.6,715.5 Z" fill="#7a0a10" opacity="0.20"/><path d="M150.2,715.5 L152.2,638.7 L154.2,715.5 Z" fill="#7a0a10" opacity="0.28"/><path d="M154.9,715.5 L157.8,667.6 L160.7,715.5 Z" fill="#7a0a10" opacity="0.23"/><path d="M158.1,715.5 L161.0,663.0 L163.9,715.5 Z" fill="#7a0a10" opacity="0.24"/><path d="M161.4,715.5 L162.9,664.9 L164.3,715.5 Z" fill="#7a0a10" opacity="0.23"/><path d="M163.4,715.5 L165.1,644.0 L166.7,715.5 Z" fill="#7a0a10" opacity="0.20"/><path d="M165.8,715.5 L167.2,640.3 L168.6,715.5 Z" fill="#7a0a10" opacity="0.08"/><path d="M169.0,715.5 L171.0,647.8 L173.0,715.5 Z" fill="#7a0a10" opacity="0.22"/><path d="M171.4,715.5 L174.2,662.7 L177.1,715.5 Z" fill="#7a0a10" opacity="0.22"/><path d="M175.4,715.5 L177.1,648.3 L178.7,715.5 Z" fill="#7a0a10" opacity="0.21"/><path d="M179.4,715.5 L182.0,667.3 L184.7,715.5 Z" fill="#7a0a10" opacity="0.08"/><path d="M181.8,715.5 L182.8,658.0 L183.8,715.5 Z" fill="#7a0a10" opacity="0.10"/><path d="M186.3,715.5 L189.2,652.7 L192.0,715.5 Z" fill="#7a0a10" opacity="0.11"/><path d="M191.2,715.5 L193.9,645.4 L196.7,715.5 Z" fill="#7a0a10" opacity="0.26"/><path d="M194.0,715.5 L195.3,651.7 L196.6,715.5 Z" fill="#7a0a10" opacity="0.14"/><path d="M198.4,715.5 L200.7,642.6 L203.0,715.5 Z" fill="#7a0a10" opacity="0.12"/><path d="M201.7,715.5 L204.5,667.1 L207.3,715.5 Z" fill="#7a0a10" opacity="0.18"/><path d="M205.8,715.5 L208.5,650.6 L211.3,715.5 Z" fill="#7a0a10" opacity="0.19"/><path d="M209.2,715.5 L211.8,643.2 L214.4,715.5 Z" fill="#7a0a10" opacity="0.14"/><path d="M213.7,715.5 L215.6,642.5 L217.6,715.5 Z" fill="#7a0a10" opacity="0.22"/><path d="M215.8,715.5 L217.2,636.8 L218.7,715.5 Z" fill="#7a0a10" opacity="0.17"/><path d="M218.6,715.5 L221.5,635.7 L224.4,715.5 Z" fill="#7a0a10" opacity="0.18"/></g><filter id="ng44" x="0" y="0" width="100%" height="100%"><feTurbulence type="fractalNoise" baseFrequency="0.3 0.06" numOctaves="2" seed="10"/><feColorMatrix type="matrix" values="0 0 0 0 0  0 0 0 0 0  0 0 0 0 0  1.8 0 0 0 -0.75"/></filter><rect x="44.25" y="625.5" width="177.2" height="90" fill="#7a0a10" filter="url(#ng44)" clip-path="url(#cg44)" opacity="0.35"/><line x1="139.25" y1="645" x2="139.25" y2="715.5" stroke="#fff" stroke-opacity=".4" stroke-width=".45"/></svg>
<svg class="abs" style="left:0;top:0;pointer-events:none" width="1068" height="756"><defs><linearGradient id="g292" x1="0" y1="0" x2="0" y2="1"><stop offset="0" stop-color="#a6d24f"/><stop offset="1" stop-color="#74ae38"/></linearGradient><clipPath id="cg292"><polygon points="292.6,715.4 292.6,685.2 297.8,681.5 302.4,665.7 307.0,666.3 309.8,671.3 314.4,670.4 321.9,664.4 325.6,667.6 330.2,675.9 333.9,675.0 338.5,671.3 344.0,668.5 349.6,663.0 355.2,655.6 360.7,652.8 366.3,650.9 371.0,648.5 377.4,648.5 383.0,650.0 387.6,653.7 390.4,643.5 392.8,635.2 396.0,640.7 399.6,648.0 401.1,653.7 408.5,652.8 413.1,652.8 419.6,654.6 425.2,657.4 430.7,663.9 438.1,671.3 443.7,681.5 449.3,686.1 453.0,679.6 455.7,675.0 458.5,679.6 461.3,687.0 467.8,688.9 475.2,689.8 482.6,690.7 490.0,693.5 493.3,691.7 493.7,715.4"/></clipPath></defs><polygon points="292.6,715.4 292.6,685.2 297.8,681.5 302.4,665.7 307.0,666.3 309.8,671.3 314.4,670.4 321.9,664.4 325.6,667.6 330.2,675.9 333.9,675.0 338.5,671.3 344.0,668.5 349.6,663.0 355.2,655.6 360.7,652.8 366.3,650.9 371.0,648.5 377.4,648.5 383.0,650.0 387.6,653.7 390.4,643.5 392.8,635.2 396.0,640.7 399.6,648.0 401.1,653.7 408.5,652.8 413.1,652.8 419.6,654.6 425.2,657.4 430.7,663.9 438.1,671.3 443.7,681.5 449.3,686.1 453.0,679.6 455.7,675.0 458.5,679.6 461.3,687.0 467.8,688.9 475.2,689.8 482.6,690.7 490.0,693.5 493.3,691.7 493.7,715.4" fill="url(#g292)"/><g clip-path="url(#cg292)"><path d="M292.6,715.4 L295.1,641.4 L297.7,715.4 Z" fill="#2f5a10" opacity="0.25"/><path d="M297.1,715.4 L298.5,658.6 L299.9,715.4 Z" fill="#2f5a10" opacity="0.28"/><path d="M300.1,715.4 L302.8,652.2 L305.5,715.4 Z" fill="#2f5a10" opacity="0.28"/><path d="M304.0,715.4 L305.2,656.9 L306.5,715.4 Z" fill="#2f5a10" opacity="0.21"/><path d="M307.4,715.4 L308.8,652.9 L310.1,715.4 Z" fill="#2f5a10" opacity="0.22"/><path d="M309.7,715.4 L312.6,644.6 L315.4,715.4 Z" fill="#2f5a10" opacity="0.22"/><path d="M312.7,715.4 L315.5,658.5 L318.3,715.4 Z" fill="#2f5a10" opacity="0.10"/><path d="M315.4,715.4 L316.8,665.3 L318.1,715.4 Z" fill="#2f5a10" opacity="0.29"/><path d="M319.1,715.4 L320.6,668.9 L322.1,715.4 Z" fill="#2f5a10" opacity="0.27"/><path d="M321.3,715.4 L323.2,653.8 L325.0,715.4 Z" fill="#2f5a10" opacity="0.08"/><path d="M323.6,715.4 L325.8,640.9 L328.0,715.4 Z" fill="#2f5a10" opacity="0.15"/><path d="M325.7,715.4 L327.9,658.6 L330.2,715.4 Z" fill="#2f5a10" opacity="0.18"/><path d="M330.2,715.4 L332.7,655.3 L335.2,715.4 Z" fill="#2f5a10" opacity="0.23"/><path d="M333.6,715.4 L334.7,672.1 L335.8,715.4 Z" fill="#2f5a10" opacity="0.19"/><path d="M338.4,715.4 L341.4,664.0 L344.4,715.4 Z" fill="#2f5a10" opacity="0.25"/><path d="M341.3,715.4 L342.7,641.3 L344.0,715.4 Z" fill="#2f5a10" opacity="0.17"/><path d="M345.6,715.4 L347.4,654.9 L349.2,715.4 Z" fill="#2f5a10" opacity="0.20"/><path d="M349.7,715.4 L351.2,647.3 L352.7,715.4 Z" fill="#2f5a10" opacity="0.18"/><path d="M353.2,715.4 L355.0,653.0 L356.7,715.4 Z" fill="#2f5a10" opacity="0.13"/><path d="M356.5,715.4 L357.8,674.2 L359.1,715.4 Z" fill="#2f5a10" opacity="0.30"/><path d="M358.9,715.4 L360.7,648.4 L362.4,715.4 Z" fill="#2f5a10" opacity="0.24"/><path d="M363.3,715.4 L366.0,654.8 L368.8,715.4 Z" fill="#2f5a10" opacity="0.18"/><path d="M367.8,715.4 L370.3,650.0 L372.9,715.4 Z" fill="#2f5a10" opacity="0.12"/><path d="M370.5,715.4 L372.0,648.1 L373.5,715.4 Z" fill="#2f5a10" opacity="0.11"/><path d="M372.9,715.4 L375.0,659.6 L377.1,715.4 Z" fill="#2f5a10" opacity="0.19"/><path d="M376.7,715.4 L378.1,641.1 L379.5,715.4 Z" fill="#2f5a10" opacity="0.22"/><path d="M379.9,715.4 L381.4,657.9 L383.0,715.4 Z" fill="#2f5a10" opacity="0.18"/><path d="M384.4,715.4 L386.4,640.1 L388.3,715.4 Z" fill="#2f5a10" opacity="0.21"/><path d="M387.3,715.4 L389.0,663.8 L390.8,715.4 Z" fill="#2f5a10" opacity="0.13"/><path d="M391.5,715.4 L394.5,668.6 L397.5,715.4 Z" fill="#2f5a10" opacity="0.26"/><path d="M395.6,715.4 L398.5,648.8 L401.4,715.4 Z" fill="#2f5a10" opacity="0.11"/><path d="M398.0,715.4 L400.6,650.5 L403.1,715.4 Z" fill="#2f5a10" opacity="0.21"/><path d="M401.4,715.4 L403.6,660.8 L405.7,715.4 Z" fill="#2f5a10" opacity="0.17"/><path d="M405.2,715.4 L408.0,644.2 L410.7,715.4 Z" fill="#2f5a10" opacity="0.12"/><path d="M409.7,715.4 L412.4,660.3 L415.0,715.4 Z" fill="#2f5a10" opacity="0.16"/><path d="M412.6,715.4 L414.3,665.7 L415.9,715.4 Z" fill="#2f5a10" opacity="0.14"/><path d="M415.5,715.4 L418.2,653.2 L420.9,715.4 Z" fill="#2f5a10" opacity="0.28"/><path d="M418.6,715.4 L421.1,665.4 L423.6,715.4 Z" fill="#2f5a10" opacity="0.26"/><path d="M422.0,715.4 L423.2,664.2 L424.4,715.4 Z" fill="#2f5a10" opacity="0.21"/><path d="M424.4,715.4 L426.6,644.1 L428.9,715.4 Z" fill="#2f5a10" opacity="0.23"/><path d="M428.9,715.4 L431.3,663.4 L433.7,715.4 Z" fill="#2f5a10" opacity="0.15"/><path d="M433.4,715.4 L434.5,637.1 L435.6,715.4 Z" fill="#2f5a10" opacity="0.16"/><path d="M436.2,715.4 L438.0,651.3 L439.7,715.4 Z" fill="#2f5a10" opacity="0.18"/><path d="M439.5,715.4 L441.2,649.5 L442.9,715.4 Z" fill="#2f5a10" opacity="0.21"/><path d="M444.2,715.4 L445.5,663.9 L446.8,715.4 Z" fill="#2f5a10" opacity="0.16"/><path d="M448.5,715.4 L450.5,665.3 L452.4,715.4 Z" fill="#2f5a10" opacity="0.30"/><path d="M451.4,715.4 L452.8,648.9 L454.1,715.4 Z" fill="#2f5a10" opacity="0.23"/><path d="M455.2,715.4 L457.8,651.6 L460.5,715.4 Z" fill="#2f5a10" opacity="0.08"/><path d="M457.9,715.4 L460.3,663.1 L462.8,715.4 Z" fill="#2f5a10" opacity="0.12"/><path d="M461.3,715.4 L463.9,674.8 L466.6,715.4 Z" fill="#2f5a10" opacity="0.25"/><path d="M465.9,715.4 L468.5,638.8 L471.1,715.4 Z" fill="#2f5a10" opacity="0.25"/><path d="M469.7,715.4 L471.3,647.9 L472.8,715.4 Z" fill="#2f5a10" opacity="0.17"/><path d="M474.4,715.4 L476.9,666.3 L479.3,715.4 Z" fill="#2f5a10" opacity="0.14"/><path d="M479.2,715.4 L481.8,655.9 L484.5,715.4 Z" fill="#2f5a10" opacity="0.29"/><path d="M482.6,715.4 L484.3,640.5 L486.0,715.4 Z" fill="#2f5a10" opacity="0.20"/><path d="M486.4,715.4 L487.9,646.7 L489.4,715.4 Z" fill="#2f5a10" opacity="0.21"/><path d="M489.2,715.4 L491.4,648.3 L493.5,715.4 Z" fill="#2f5a10" opacity="0.09"/><path d="M491.6,715.4 L493.6,650.8 L495.6,715.4 Z" fill="#2f5a10" opacity="0.20"/></g><filter id="ng292" x="0" y="0" width="100%" height="100%"><feTurbulence type="fractalNoise" baseFrequency="0.3 0.06" numOctaves="2" seed="3"/><feColorMatrix type="matrix" values="0 0 0 0 0  0 0 0 0 0  0 0 0 0 0  1.8 0 0 0 -0.75"/></filter><rect x="292.6" y="625.4" width="201.1" height="90" fill="#2f5a10" filter="url(#ng292)" clip-path="url(#cg292)" opacity="0.25"/><line x1="311.25" y1="640" x2="311.25" y2="715.4" stroke="#fff" stroke-opacity=".4" stroke-width=".45"/><line x1="334.5" y1="640" x2="334.5" y2="715.4" stroke="#fff" stroke-opacity=".4" stroke-width=".45"/><line x1="342" y1="640" x2="342" y2="715.4" stroke="#fff" stroke-opacity=".4" stroke-width=".45"/><line x1="362" y1="640" x2="362" y2="715.4" stroke="#fff" stroke-opacity=".4" stroke-width=".45"/><line x1="372.75" y1="640" x2="372.75" y2="715.4" stroke="#fff" stroke-opacity=".4" stroke-width=".45"/><line x1="400.75" y1="640" x2="400.75" y2="715.4" stroke="#fff" stroke-opacity=".4" stroke-width=".45"/><line x1="420.75" y1="640" x2="420.75" y2="715.4" stroke="#fff" stroke-opacity=".4" stroke-width=".45"/><line x1="440" y1="640" x2="440" y2="715.4" stroke="#fff" stroke-opacity=".4" stroke-width=".45"/><line x1="449.5" y1="640" x2="449.5" y2="715.4" stroke="#fff" stroke-opacity=".4" stroke-width=".45"/><line x1="460.75" y1="640" x2="460.75" y2="715.4" stroke="#fff" stroke-opacity=".4" stroke-width=".45"/><line x1="470.75" y1="640" x2="470.75" y2="715.4" stroke="#fff" stroke-opacity=".4" stroke-width=".45"/><line x1="485.25" y1="640" x2="485.25" y2="715.4" stroke="#fff" stroke-opacity=".4" stroke-width=".45"/><line x1="490.75" y1="640" x2="490.75" y2="715.4" stroke="#fff" stroke-opacity=".4" stroke-width=".45"/></svg>
<svg class="abs" style="left:0;top:0;pointer-events:none" width="1068" height="756"><defs><linearGradient id="g563" x1="0" y1="0" x2="0" y2="1"><stop offset="0" stop-color="#e39a3c"/><stop offset="1" stop-color="#d4832c"/></linearGradient><clipPath id="cg563"><polygon points="563.2,715.8 563.2,685.0 569.0,683.0 579.0,685.0 585.2,681.2 599.0,680.0 611.5,676.0 621.5,673.8 630.2,672.5 634.0,662.5 636.5,657.0 640.2,659.5 644.0,657.0 647.8,655.5 651.5,662.5 656.5,657.0 661.5,663.8 669.0,667.5 674.0,669.5 678.5,656.2 684.0,662.5 694.0,669.5 704.0,673.8 714.0,677.5 719.0,674.5 724.0,677.5 729.0,677.5 732.0,674.5 736.5,679.5 741.5,678.0 746.5,676.2 751.5,681.2 756.5,683.8 759.0,686.2 759.0,715.8"/></clipPath></defs><polygon points="563.2,715.8 563.2,685.0 569.0,683.0 579.0,685.0 585.2,681.2 599.0,680.0 611.5,676.0 621.5,673.8 630.2,672.5 634.0,662.5 636.5,657.0 640.2,659.5 644.0,657.0 647.8,655.5 651.5,662.5 656.5,657.0 661.5,663.8 669.0,667.5 674.0,669.5 678.5,656.2 684.0,662.5 694.0,669.5 704.0,673.8 714.0,677.5 719.0,674.5 724.0,677.5 729.0,677.5 732.0,674.5 736.5,679.5 741.5,678.0 746.5,676.2 751.5,681.2 756.5,683.8 759.0,686.2 759.0,715.8" fill="url(#g563)"/><g clip-path="url(#cg563)"><path d="M563.2,715.8 L565.3,647.9 L567.3,715.8 Z" fill="#6a3a08" opacity="0.27"/><path d="M565.3,715.8 L568.2,672.6 L571.0,715.8 Z" fill="#6a3a08" opacity="0.29"/><path d="M568.4,715.8 L570.3,659.7 L572.2,715.8 Z" fill="#6a3a08" opacity="0.21"/><path d="M573.4,715.8 L576.3,648.9 L579.2,715.8 Z" fill="#6a3a08" opacity="0.27"/><path d="M575.4,715.8 L576.8,662.2 L578.1,715.8 Z" fill="#6a3a08" opacity="0.29"/><path d="M578.8,715.8 L581.7,654.1 L584.6,715.8 Z" fill="#6a3a08" opacity="0.19"/><path d="M583.3,715.8 L584.3,658.5 L585.4,715.8 Z" fill="#6a3a08" opacity="0.28"/><path d="M587.4,715.8 L590.3,663.2 L593.2,715.8 Z" fill="#6a3a08" opacity="0.30"/><path d="M591.8,715.8 L592.8,661.1 L593.9,715.8 Z" fill="#6a3a08" opacity="0.27"/><path d="M596.5,715.8 L598.5,643.9 L600.5,715.8 Z" fill="#6a3a08" opacity="0.21"/><path d="M599.1,715.8 L600.1,655.1 L601.1,715.8 Z" fill="#6a3a08" opacity="0.12"/><path d="M602.7,715.8 L605.6,642.9 L608.6,715.8 Z" fill="#6a3a08" opacity="0.30"/><path d="M604.9,715.8 L607.3,672.0 L609.7,715.8 Z" fill="#6a3a08" opacity="0.25"/><path d="M609.3,715.8 L610.8,664.4 L612.3,715.8 Z" fill="#6a3a08" opacity="0.08"/><path d="M611.4,715.8 L612.6,673.5 L613.7,715.8 Z" fill="#6a3a08" opacity="0.23"/><path d="M614.8,715.8 L615.9,669.3 L617.0,715.8 Z" fill="#6a3a08" opacity="0.13"/><path d="M617.9,715.8 L619.7,658.3 L621.5,715.8 Z" fill="#6a3a08" opacity="0.19"/><path d="M621.9,715.8 L624.5,665.7 L627.1,715.8 Z" fill="#6a3a08" opacity="0.11"/><path d="M626.4,715.8 L627.9,638.2 L629.3,715.8 Z" fill="#6a3a08" opacity="0.25"/><path d="M629.0,715.8 L632.0,659.8 L635.0,715.8 Z" fill="#6a3a08" opacity="0.15"/><path d="M633.5,715.8 L634.8,646.5 L636.1,715.8 Z" fill="#6a3a08" opacity="0.15"/><path d="M638.1,715.8 L640.8,637.3 L643.6,715.8 Z" fill="#6a3a08" opacity="0.08"/><path d="M641.9,715.8 L643.1,664.0 L644.3,715.8 Z" fill="#6a3a08" opacity="0.14"/><path d="M645.6,715.8 L647.3,667.9 L649.0,715.8 Z" fill="#6a3a08" opacity="0.11"/><path d="M648.5,715.8 L649.6,648.9 L650.7,715.8 Z" fill="#6a3a08" opacity="0.24"/><path d="M653.0,715.8 L655.0,667.6 L656.9,715.8 Z" fill="#6a3a08" opacity="0.14"/><path d="M657.7,715.8 L660.1,647.9 L662.5,715.8 Z" fill="#6a3a08" opacity="0.16"/><path d="M660.7,715.8 L662.6,646.2 L664.5,715.8 Z" fill="#6a3a08" opacity="0.26"/><path d="M665.5,715.8 L667.1,668.7 L668.8,715.8 Z" fill="#6a3a08" opacity="0.21"/><path d="M667.8,715.8 L670.0,653.4 L672.1,715.8 Z" fill="#6a3a08" opacity="0.17"/><path d="M671.8,715.8 L673.8,662.5 L675.9,715.8 Z" fill="#6a3a08" opacity="0.09"/><path d="M675.4,715.8 L677.3,636.3 L679.2,715.8 Z" fill="#6a3a08" opacity="0.11"/><path d="M678.1,715.8 L680.0,658.8 L681.9,715.8 Z" fill="#6a3a08" opacity="0.30"/><path d="M680.5,715.8 L681.8,651.5 L683.2,715.8 Z" fill="#6a3a08" opacity="0.25"/><path d="M683.2,715.8 L685.8,644.3 L688.3,715.8 Z" fill="#6a3a08" opacity="0.10"/><path d="M686.2,715.8 L688.1,657.9 L690.0,715.8 Z" fill="#6a3a08" opacity="0.29"/><path d="M688.3,715.8 L690.4,672.7 L692.6,715.8 Z" fill="#6a3a08" opacity="0.27"/><path d="M692.4,715.8 L695.3,638.8 L698.1,715.8 Z" fill="#6a3a08" opacity="0.08"/><path d="M697.1,715.8 L699.2,665.0 L701.3,715.8 Z" fill="#6a3a08" opacity="0.29"/><path d="M701.4,715.8 L703.9,659.0 L706.4,715.8 Z" fill="#6a3a08" opacity="0.28"/><path d="M704.4,715.8 L706.6,665.9 L708.7,715.8 Z" fill="#6a3a08" opacity="0.28"/><path d="M708.9,715.8 L711.9,640.8 L714.8,715.8 Z" fill="#6a3a08" opacity="0.23"/><path d="M712.6,715.8 L715.2,649.4 L717.8,715.8 Z" fill="#6a3a08" opacity="0.16"/><path d="M715.4,715.8 L717.2,674.3 L718.9,715.8 Z" fill="#6a3a08" opacity="0.13"/><path d="M720.2,715.8 L722.1,674.1 L724.0,715.8 Z" fill="#6a3a08" opacity="0.19"/><path d="M723.8,715.8 L726.0,654.5 L728.3,715.8 Z" fill="#6a3a08" opacity="0.14"/><path d="M728.3,715.8 L731.3,652.5 L734.3,715.8 Z" fill="#6a3a08" opacity="0.10"/><path d="M730.4,715.8 L731.5,668.3 L732.5,715.8 Z" fill="#6a3a08" opacity="0.28"/><path d="M733.0,715.8 L735.6,642.4 L738.1,715.8 Z" fill="#6a3a08" opacity="0.20"/><path d="M735.9,715.8 L737.5,653.7 L739.0,715.8 Z" fill="#6a3a08" opacity="0.09"/><path d="M738.3,715.8 L740.0,644.3 L741.7,715.8 Z" fill="#6a3a08" opacity="0.21"/><path d="M740.4,715.8 L741.6,645.2 L742.8,715.8 Z" fill="#6a3a08" opacity="0.24"/><path d="M743.2,715.8 L746.0,657.5 L748.8,715.8 Z" fill="#6a3a08" opacity="0.21"/><path d="M747.7,715.8 L749.5,637.6 L751.4,715.8 Z" fill="#6a3a08" opacity="0.22"/><path d="M750.7,715.8 L753.3,646.0 L755.9,715.8 Z" fill="#6a3a08" opacity="0.16"/><path d="M754.4,715.8 L755.8,674.6 L757.2,715.8 Z" fill="#6a3a08" opacity="0.20"/><path d="M757.5,715.8 L759.9,671.5 L762.2,715.8 Z" fill="#6a3a08" opacity="0.30"/></g><filter id="ng563" x="0" y="0" width="100%" height="100%"><feTurbulence type="fractalNoise" baseFrequency="0.3 0.06" numOctaves="2" seed="2"/><feColorMatrix type="matrix" values="0 0 0 0 0  0 0 0 0 0  0 0 0 0 0  1.8 0 0 0 -0.75"/></filter><rect x="563.25" y="625.8" width="195.8" height="90" fill="#6a3a08" filter="url(#ng563)" clip-path="url(#cg563)" opacity="0.35"/><line x1="573.5" y1="645" x2="573.5" y2="715.8" stroke="#fff" stroke-opacity=".4" stroke-width=".45"/><line x1="582.75" y1="645" x2="582.75" y2="715.8" stroke="#fff" stroke-opacity=".4" stroke-width=".45"/><line x1="593.5" y1="645" x2="593.5" y2="715.8" stroke="#fff" stroke-opacity=".4" stroke-width=".45"/><line x1="615.25" y1="645" x2="615.25" y2="715.8" stroke="#fff" stroke-opacity=".4" stroke-width=".45"/><line x1="627.25" y1="645" x2="627.25" y2="715.8" stroke="#fff" stroke-opacity=".4" stroke-width=".45"/><line x1="636" y1="645" x2="636" y2="715.8" stroke="#fff" stroke-opacity=".4" stroke-width=".45"/><line x1="652.25" y1="645" x2="652.25" y2="715.8" stroke="#fff" stroke-opacity=".4" stroke-width=".45"/><line x1="666" y1="645" x2="666" y2="715.8" stroke="#fff" stroke-opacity=".4" stroke-width=".45"/><line x1="678.5" y1="645" x2="678.5" y2="715.8" stroke="#fff" stroke-opacity=".4" stroke-width=".45"/><line x1="699" y1="645" x2="699" y2="715.8" stroke="#fff" stroke-opacity=".4" stroke-width=".45"/><line x1="704" y1="645" x2="704" y2="715.8" stroke="#fff" stroke-opacity=".4" stroke-width=".45"/><line x1="714" y1="645" x2="714" y2="715.8" stroke="#fff" stroke-opacity=".4" stroke-width=".45"/><line x1="724.5" y1="645" x2="724.5" y2="715.8" stroke="#fff" stroke-opacity=".4" stroke-width=".45"/><line x1="754" y1="645" x2="754" y2="715.8" stroke="#fff" stroke-opacity=".4" stroke-width=".45"/></svg>
<svg class="abs" style="left:0;top:0;pointer-events:none" width="1068" height="756"><defs><linearGradient id="g834" x1="0" y1="0" x2="0" y2="1"><stop offset="0" stop-color="#2f9bb8"/><stop offset="1" stop-color="#2689a6"/></linearGradient><clipPath id="cg834"><polygon points="834.2,717.0 834.2,694.0 841.8,692.8 848.2,690.2 850.8,693.5 857.1,691.0 861.0,686.4 863.5,689.5 867.3,691.5 869.9,690.2 872.4,691.5 876.2,689.0 882.6,691.5 892.8,693.5 903.0,695.3 908.1,693.5 911.9,686.4 918.3,685.1 925.9,685.9 928.5,687.7 931.0,681.3 934.8,673.2 937.4,669.1 941.2,666.5 946.3,669.9 948.8,668.6 952.7,671.1 956.5,677.5 961.6,680.0 964.1,678.8 966.7,681.8 971.8,685.1 974.3,682.6 976.8,676.7 980.7,675.7 984.5,678.3 987.0,676.7 989.6,681.3 997.2,683.9 1004.9,687.7 1009.9,689.5 1013.8,687.7 1017.6,691.0 1025.2,692.8 1032.9,695.3 1032.9,717.0"/></clipPath></defs><polygon points="834.2,717.0 834.2,694.0 841.8,692.8 848.2,690.2 850.8,693.5 857.1,691.0 861.0,686.4 863.5,689.5 867.3,691.5 869.9,690.2 872.4,691.5 876.2,689.0 882.6,691.5 892.8,693.5 903.0,695.3 908.1,693.5 911.9,686.4 918.3,685.1 925.9,685.9 928.5,687.7 931.0,681.3 934.8,673.2 937.4,669.1 941.2,666.5 946.3,669.9 948.8,668.6 952.7,671.1 956.5,677.5 961.6,680.0 964.1,678.8 966.7,681.8 971.8,685.1 974.3,682.6 976.8,676.7 980.7,675.7 984.5,678.3 987.0,676.7 989.6,681.3 997.2,683.9 1004.9,687.7 1009.9,689.5 1013.8,687.7 1017.6,691.0 1025.2,692.8 1032.9,695.3 1032.9,717.0" fill="url(#g834)"/><g clip-path="url(#cg834)"><path d="M834.2,717 L835.8,660.0 L837.4,717 Z" fill="#0a3a50" opacity="0.12"/><path d="M839.2,717 L842.1,667.1 L844.9,717 Z" fill="#0a3a50" opacity="0.29"/><path d="M842.1,717 L844.7,638.1 L847.3,717 Z" fill="#0a3a50" opacity="0.09"/><path d="M846.9,717 L849.7,646.5 L852.5,717 Z" fill="#0a3a50" opacity="0.18"/><path d="M851.9,717 L853.8,661.1 L855.8,717 Z" fill="#0a3a50" opacity="0.22"/><path d="M855.3,717 L858.2,669.7 L861.2,717 Z" fill="#0a3a50" opacity="0.21"/><path d="M860.1,717 L862.4,674.5 L864.7,717 Z" fill="#0a3a50" opacity="0.13"/><path d="M864.3,717 L866.6,641.4 L869.0,717 Z" fill="#0a3a50" opacity="0.21"/><path d="M867.8,717 L869.2,665.1 L870.5,717 Z" fill="#0a3a50" opacity="0.18"/><path d="M869.9,717 L872.1,663.8 L874.4,717 Z" fill="#0a3a50" opacity="0.10"/><path d="M873.7,717 L876.0,638.6 L878.3,717 Z" fill="#0a3a50" opacity="0.28"/><path d="M876.3,717 L877.9,655.9 L879.4,717 Z" fill="#0a3a50" opacity="0.20"/><path d="M879.1,717 L881.0,667.1 L882.9,717 Z" fill="#0a3a50" opacity="0.20"/><path d="M882.8,717 L884.8,654.2 L886.8,717 Z" fill="#0a3a50" opacity="0.29"/><path d="M887.3,717 L888.3,651.4 L889.3,717 Z" fill="#0a3a50" opacity="0.25"/><path d="M890.6,717 L893.5,655.6 L896.4,717 Z" fill="#0a3a50" opacity="0.21"/><path d="M894.8,717 L897.1,663.1 L899.3,717 Z" fill="#0a3a50" opacity="0.28"/><path d="M897.2,717 L899.3,652.5 L901.4,717 Z" fill="#0a3a50" opacity="0.23"/><path d="M900.2,717 L902.4,671.6 L904.6,717 Z" fill="#0a3a50" opacity="0.18"/><path d="M904.2,717 L906.8,666.0 L909.4,717 Z" fill="#0a3a50" opacity="0.09"/><path d="M906.5,717 L909.5,671.6 L912.4,717 Z" fill="#0a3a50" opacity="0.25"/><path d="M910.7,717 L912.5,652.2 L914.2,717 Z" fill="#0a3a50" opacity="0.12"/><path d="M913.7,717 L916.6,674.1 L919.5,717 Z" fill="#0a3a50" opacity="0.25"/><path d="M916.2,717 L917.7,637.6 L919.1,717 Z" fill="#0a3a50" opacity="0.30"/><path d="M919.0,717 L921.9,661.9 L924.8,717 Z" fill="#0a3a50" opacity="0.10"/><path d="M921.6,717 L924.1,640.1 L926.7,717 Z" fill="#0a3a50" opacity="0.16"/><path d="M925.3,717 L928.0,652.3 L930.6,717 Z" fill="#0a3a50" opacity="0.08"/><path d="M930.2,717 L933.2,668.3 L936.1,717 Z" fill="#0a3a50" opacity="0.13"/><path d="M932.9,717 L935.8,665.3 L938.8,717 Z" fill="#0a3a50" opacity="0.29"/><path d="M935.4,717 L936.6,667.3 L937.8,717 Z" fill="#0a3a50" opacity="0.28"/><path d="M938.2,717 L941.1,651.3 L944.1,717 Z" fill="#0a3a50" opacity="0.24"/><path d="M942.9,717 L944.1,639.6 L945.3,717 Z" fill="#0a3a50" opacity="0.08"/><path d="M945.3,717 L947.8,668.1 L950.4,717 Z" fill="#0a3a50" opacity="0.13"/><path d="M948.7,717 L950.2,668.7 L951.6,717 Z" fill="#0a3a50" opacity="0.17"/><path d="M951.6,717 L953.1,644.0 L954.7,717 Z" fill="#0a3a50" opacity="0.28"/><path d="M954.2,717 L957.1,664.7 L959.9,717 Z" fill="#0a3a50" opacity="0.22"/><path d="M959.1,717 L962.0,659.0 L965.0,717 Z" fill="#0a3a50" opacity="0.28"/><path d="M963.5,717 L964.9,639.6 L966.2,717 Z" fill="#0a3a50" opacity="0.19"/><path d="M966.5,717 L968.3,664.8 L970.2,717 Z" fill="#0a3a50" opacity="0.09"/><path d="M968.7,717 L971.1,657.8 L973.5,717 Z" fill="#0a3a50" opacity="0.09"/><path d="M972.8,717 L974.7,659.6 L976.5,717 Z" fill="#0a3a50" opacity="0.16"/><path d="M977.4,717 L978.6,660.9 L979.7,717 Z" fill="#0a3a50" opacity="0.11"/><path d="M981.4,717 L983.9,656.7 L986.5,717 Z" fill="#0a3a50" opacity="0.27"/><path d="M985.3,717 L987.3,661.4 L989.4,717 Z" fill="#0a3a50" opacity="0.30"/><path d="M989.6,717 L991.5,654.7 L993.3,717 Z" fill="#0a3a50" opacity="0.24"/><path d="M992.3,717 L994.1,650.7 L995.9,717 Z" fill="#0a3a50" opacity="0.08"/><path d="M994.4,717 L996.4,649.2 L998.5,717 Z" fill="#0a3a50" opacity="0.20"/><path d="M997.0,717 L998.9,643.7 L1000.7,717 Z" fill="#0a3a50" opacity="0.26"/><path d="M999.9,717 L1002.7,657.3 L1005.5,717 Z" fill="#0a3a50" opacity="0.26"/><path d="M1004.9,717 L1007.2,669.6 L1009.6,717 Z" fill="#0a3a50" opacity="0.09"/><path d="M1009.7,717 L1010.9,647.2 L1012.1,717 Z" fill="#0a3a50" opacity="0.21"/><path d="M1014.6,717 L1016.9,644.0 L1019.1,717 Z" fill="#0a3a50" opacity="0.20"/><path d="M1017.0,717 L1019.4,650.1 L1021.7,717 Z" fill="#0a3a50" opacity="0.20"/><path d="M1021.5,717 L1022.7,653.3 L1023.9,717 Z" fill="#0a3a50" opacity="0.25"/><path d="M1024.5,717 L1026.3,646.8 L1028.1,717 Z" fill="#0a3a50" opacity="0.15"/><path d="M1026.7,717 L1027.8,643.1 L1029.0,717 Z" fill="#0a3a50" opacity="0.26"/><path d="M1031.4,717 L1033.0,667.6 L1034.7,717 Z" fill="#0a3a50" opacity="0.26"/></g><filter id="ng834" x="0" y="0" width="100%" height="100%"><feTurbulence type="fractalNoise" baseFrequency="0.3 0.06" numOctaves="2" seed="1"/><feColorMatrix type="matrix" values="0 0 0 0 0  0 0 0 0 0  0 0 0 0 0  1.8 0 0 0 -0.75"/></filter><rect x="834.2" y="627" width="198.7" height="90" fill="#0a3a50" filter="url(#ng834)" clip-path="url(#cg834)" opacity="0.35"/><line x1="843.1" y1="640" x2="843.1" y2="717" stroke="#fff" stroke-opacity=".4" stroke-width=".45"/><line x1="849.5" y1="640" x2="849.5" y2="717" stroke="#fff" stroke-opacity=".4" stroke-width=".45"/><line x1="856.6" y1="640" x2="856.6" y2="717" stroke="#fff" stroke-opacity=".4" stroke-width=".45"/><line x1="861" y1="640" x2="861" y2="717" stroke="#fff" stroke-opacity=".4" stroke-width=".45"/><line x1="867.3" y1="640" x2="867.3" y2="717" stroke="#fff" stroke-opacity=".4" stroke-width=".45"/><line x1="870.4" y1="640" x2="870.4" y2="717" stroke="#fff" stroke-opacity=".4" stroke-width=".45"/><line x1="888.2" y1="640" x2="888.2" y2="717" stroke="#fff" stroke-opacity=".4" stroke-width=".45"/><line x1="894.1" y1="640" x2="894.1" y2="717" stroke="#fff" stroke-opacity=".4" stroke-width=".45"/><line x1="907.6" y1="640" x2="907.6" y2="717" stroke="#fff" stroke-opacity=".4" stroke-width=".45"/><line x1="910.6" y1="640" x2="910.6" y2="717" stroke="#fff" stroke-opacity=".4" stroke-width=".45"/><line x1="920.3" y1="640" x2="920.3" y2="717" stroke="#fff" stroke-opacity=".4" stroke-width=".45"/><line x1="929" y1="640" x2="929" y2="717" stroke="#fff" stroke-opacity=".4" stroke-width=".45"/><line x1="937.4" y1="640" x2="937.4" y2="717" stroke="#fff" stroke-opacity=".4" stroke-width=".45"/><line x1="949.3" y1="640" x2="949.3" y2="717" stroke="#fff" stroke-opacity=".4" stroke-width=".45"/><line x1="958.5" y1="640" x2="958.5" y2="717" stroke="#fff" stroke-opacity=".4" stroke-width=".45"/><line x1="962.1" y1="640" x2="962.1" y2="717" stroke="#fff" stroke-opacity=".4" stroke-width=".45"/><line x1="965.4" y1="640" x2="965.4" y2="717" stroke="#fff" stroke-opacity=".4" stroke-width=".45"/><line x1="976.3" y1="640" x2="976.3" y2="717" stroke="#fff" stroke-opacity=".4" stroke-width=".45"/><line x1="987" y1="640" x2="987" y2="717" stroke="#fff" stroke-opacity=".4" stroke-width=".45"/><line x1="1006.1" y1="640" x2="1006.1" y2="717" stroke="#fff" stroke-opacity=".4" stroke-width=".45"/><line x1="1013" y1="640" x2="1013" y2="717" stroke="#fff" stroke-opacity=".4" stroke-width=".45"/><line x1="1023.2" y1="640" x2="1023.2" y2="717" stroke="#fff" stroke-opacity=".4" stroke-width=".45"/><line x1="1029.8" y1="640" x2="1029.8" y2="717" stroke="#fff" stroke-opacity=".4" stroke-width=".45"/></svg>
<svg class="abs" style="left:0;top:0" width="1068" height="756"><rect x="23.75" y="715.5" width="222.5" height="8.8" fill="#8f979b"/><line x1="23.75" y1="725.9" x2="246.25" y2="725.9" stroke="#c8cccf" stroke-width=".6" stroke-dasharray="1 1"/><text x="44.2" y="731.6" font-size="4.6" font-weight="700" fill="#333" text-anchor="middle" font-family="Liberation Sans" transform="translate(44.2 0) scale(.8 1) translate(-44.2 0)">0</text><text x="64.0" y="731.6" font-size="4.6" font-weight="700" fill="#333" text-anchor="middle" font-family="Liberation Sans" transform="translate(64.0 0) scale(.8 1) translate(-64.0 0)">2</text><text x="83.8" y="731.6" font-size="4.6" font-weight="700" fill="#333" text-anchor="middle" font-family="Liberation Sans" transform="translate(83.8 0) scale(.8 1) translate(-83.8 0)">4</text><text x="103.7" y="731.6" font-size="4.6" font-weight="700" fill="#333" text-anchor="middle" font-family="Liberation Sans" transform="translate(103.7 0) scale(.8 1) translate(-103.7 0)">6</text><text x="123.5" y="731.6" font-size="4.6" font-weight="700" fill="#333" text-anchor="middle" font-family="Liberation Sans" transform="translate(123.5 0) scale(.8 1) translate(-123.5 0)">8</text><text x="143.2" y="731.6" font-size="4.6" font-weight="700" fill="#333" text-anchor="middle" font-family="Liberation Sans" transform="translate(143.2 0) scale(.8 1) translate(-143.2 0)">10</text><text x="163.1" y="731.6" font-size="4.6" font-weight="700" fill="#333" text-anchor="middle" font-family="Liberation Sans" transform="translate(163.1 0) scale(.8 1) translate(-163.1 0)">12</text><text x="182.8" y="731.6" font-size="4.6" font-weight="700" fill="#333" text-anchor="middle" font-family="Liberation Sans" transform="translate(182.8 0) scale(.8 1) translate(-182.8 0)">14</text><text x="202.7" y="731.6" font-size="4.6" font-weight="700" fill="#333" text-anchor="middle" font-family="Liberation Sans" transform="translate(202.7 0) scale(.8 1) translate(-202.7 0)">16</text><text x="222.5" y="731.6" font-size="4.6" font-weight="700" fill="#333" text-anchor="middle" font-family="Liberation Sans" transform="translate(222.5 0) scale(.8 1) translate(-222.5 0)">18</text><text x="242.2" y="731.6" font-size="4.6" font-weight="700" fill="#333" text-anchor="middle" font-family="Liberation Sans" transform="translate(242.2 0) scale(.8 1) translate(-242.2 0)">20</text><line x1="44.25" y1="651" x2="44.25" y2="668" stroke="#999" stroke-width="0.5"/><line x1="221.5" y1="651" x2="221.5" y2="678" stroke="#999" stroke-width="0.5"/><circle cx="44.25" cy="647.5" r="4.2" fill="#c4377f" stroke="#fff" stroke-width=".8"/><text x="44.25" y="649.39" font-size="5.04" font-weight="700" fill="#fff" text-anchor="middle" font-family="Liberation Sans">S</text><circle cx="221.5" cy="647.5" r="4.2" fill="#555" stroke="#fff" stroke-width=".8"/><text x="221.5" y="649.39" font-size="5.04" font-weight="700" fill="#fff" text-anchor="middle" font-family="Liberation Sans">M</text><line x1="139.25" y1="645" x2="139.25" y2="715.5" stroke="#fff" stroke-width="0.5"/><rect x="137.8" y="646" width=".9" height="34.0" fill="#555" opacity=".4"/><line x1="139.25" y1="681" x2="139.25" y2="715" stroke="#bbb" stroke-width=".4"/><text x="40.5" y="658.7" font-size="3.4" font-weight="700" fill="#444" text-anchor="end" font-family="Liberation Sans" transform="translate(40.5 0) scale(.85 1) translate(-40.5 0)">1000</text><text x="40.5" y="669.2" font-size="3.4" font-weight="700" fill="#444" text-anchor="end" font-family="Liberation Sans" transform="translate(40.5 0) scale(.85 1) translate(-40.5 0)">900</text><text x="40.5" y="680.7" font-size="3.4" font-weight="700" fill="#444" text-anchor="end" font-family="Liberation Sans" transform="translate(40.5 0) scale(.85 1) translate(-40.5 0)">800</text><text x="40.5" y="691.2" font-size="3.4" font-weight="700" fill="#444" text-anchor="end" font-family="Liberation Sans" transform="translate(40.5 0) scale(.85 1) translate(-40.5 0)">850</text><text x="40.5" y="702.0" font-size="3.4" font-weight="700" fill="#444" text-anchor="end" font-family="Liberation Sans" transform="translate(40.5 0) scale(.85 1) translate(-40.5 0)">800</text><rect x="271.9" y="715.4" width="241.8" height="9.0" fill="#8f979b"/><line x1="271.9" y1="726.0" x2="513.7" y2="726.0" stroke="#c8cccf" stroke-width=".6" stroke-dasharray="1 1"/><text x="292.6" y="732.0" font-size="4.6" font-weight="700" fill="#333" text-anchor="middle" font-family="Liberation Sans" transform="translate(292.6 0) scale(.8 1) translate(-292.6 0)">0</text><text x="312.3" y="732.0" font-size="4.6" font-weight="700" fill="#333" text-anchor="middle" font-family="Liberation Sans" transform="translate(312.3 0) scale(.8 1) translate(-312.3 0)">10</text><text x="331.9" y="732.0" font-size="4.6" font-weight="700" fill="#333" text-anchor="middle" font-family="Liberation Sans" transform="translate(331.9 0) scale(.8 1) translate(-331.9 0)">20</text><text x="351.6" y="732.0" font-size="4.6" font-weight="700" fill="#333" text-anchor="middle" font-family="Liberation Sans" transform="translate(351.6 0) scale(.8 1) translate(-351.6 0)">30</text><text x="371.2" y="732.0" font-size="4.6" font-weight="700" fill="#333" text-anchor="middle" font-family="Liberation Sans" transform="translate(371.2 0) scale(.8 1) translate(-371.2 0)">40</text><text x="390.9" y="732.0" font-size="4.6" font-weight="700" fill="#333" text-anchor="middle" font-family="Liberation Sans" transform="translate(390.9 0) scale(.8 1) translate(-390.9 0)">50</text><text x="410.6" y="732.0" font-size="4.6" font-weight="700" fill="#333" text-anchor="middle" font-family="Liberation Sans" transform="translate(410.6 0) scale(.8 1) translate(-410.6 0)">60</text><text x="430.2" y="732.0" font-size="4.6" font-weight="700" fill="#333" text-anchor="middle" font-family="Liberation Sans" transform="translate(430.2 0) scale(.8 1) translate(-430.2 0)">70</text><text x="449.9" y="732.0" font-size="4.6" font-weight="700" fill="#333" text-anchor="middle" font-family="Liberation Sans" transform="translate(449.9 0) scale(.8 1) translate(-449.9 0)">80</text><text x="469.5" y="732.0" font-size="4.6" font-weight="700" fill="#333" text-anchor="middle" font-family="Liberation Sans" transform="translate(469.5 0) scale(.8 1) translate(-469.5 0)">90</text><text x="489.2" y="732.0" font-size="4.6" font-weight="700" fill="#333" text-anchor="middle" font-family="Liberation Sans" transform="translate(489.2 0) scale(.8 1) translate(-489.2 0)">100</text><circle cx="293.1" cy="618" r="4.2" fill="#c4377f" stroke="#fff" stroke-width=".8"/><text x="293.1" y="619.89" font-size="5.04" font-weight="700" fill="#fff" text-anchor="middle" font-family="Liberation Sans">S</text><circle cx="493.1" cy="618" r="4.2" fill="#555" stroke="#fff" stroke-width=".8"/><text x="493.1" y="619.89" font-size="5.04" font-weight="700" fill="#fff" text-anchor="middle" font-family="Liberation Sans">M</text><line x1="292.6" y1="622" x2="292.6" y2="715" stroke="#999" stroke-width="0.5"/><line x1="493.5" y1="622" x2="493.5" y2="690" stroke="#999" stroke-width="0.5"/><rect x="309.8" y="614" width=".9" height="36.0" fill="#444" opacity=".4"/><line x1="311.25" y1="651" x2="311.25" y2="715" stroke="#bbb" stroke-width=".4"/><rect x="333.0" y="630" width=".9" height="18.0" fill="#444" opacity=".4"/><line x1="334.5" y1="649" x2="334.5" y2="715" stroke="#bbb" stroke-width=".4"/><rect x="340.5" y="624" width=".9" height="26.0" fill="#444" opacity=".4"/><line x1="342" y1="651" x2="342" y2="715" stroke="#bbb" stroke-width=".4"/><rect x="360.5" y="632" width=".9" height="14.0" fill="#444" opacity=".4"/><line x1="362" y1="647" x2="362" y2="715" stroke="#bbb" stroke-width=".4"/><rect x="371.2" y="633" width=".9" height="18.0" fill="#444" opacity=".4"/><line x1="372.75" y1="652" x2="372.75" y2="715" stroke="#bbb" stroke-width=".4"/><rect x="399.2" y="615" width=".9" height="30.0" fill="#444" opacity=".4"/><line x1="400.75" y1="646" x2="400.75" y2="715" stroke="#bbb" stroke-width=".4"/><rect x="419.2" y="615" width=".9" height="31.0" fill="#444" opacity=".4"/><line x1="420.75" y1="647" x2="420.75" y2="715" stroke="#bbb" stroke-width=".4"/><rect x="438.5" y="631" width=".9" height="19.0" fill="#444" opacity=".4"/><line x1="440" y1="651" x2="440" y2="715" stroke="#bbb" stroke-width=".4"/><rect x="448.0" y="628" width=".9" height="16.0" fill="#444" opacity=".4"/><line x1="449.5" y1="645" x2="449.5" y2="715" stroke="#bbb" stroke-width=".4"/><rect x="459.2" y="616" width=".9" height="35.0" fill="#444" opacity=".4"/><line x1="460.75" y1="652" x2="460.75" y2="715" stroke="#bbb" stroke-width=".4"/><rect x="469.2" y="620" width=".9" height="25.0" fill="#444" opacity=".4"/><line x1="470.75" y1="646" x2="470.75" y2="715" stroke="#bbb" stroke-width=".4"/><rect x="483.8" y="635" width=".9" height="16.0" fill="#444" opacity=".4"/><line x1="485.25" y1="652" x2="485.25" y2="715" stroke="#bbb" stroke-width=".4"/><rect x="489.2" y="636" width=".9" height="15.0" fill="#444" opacity=".4"/><line x1="490.75" y1="652" x2="490.75" y2="715" stroke="#bbb" stroke-width=".4"/><polygon points="302.0,654.8 306.0,661.2 298.0,661.2" fill="#5f2753"/><rect x="301.2" y="657.5" width="1.6" height="2.2" fill="#fff" opacity=".8"/><polygon points="392.0,625.8 396.2,632.2 387.8,632.2" fill="#5f2753"/><rect x="391.2" y="628.5" width="1.6" height="2.2" fill="#fff" opacity=".8"/><rect x="330.2" y="647.5" width="6" height="6" rx="1.6" fill="#2f9a55" stroke="#1d6a3a" stroke-width=".5"/><rect x="332.1" y="649.5" width="2.4" height="2" fill="#fff" opacity=".8"/><rect x="446.0" y="647.5" width="6" height="6" rx="1.6" fill="#2f9a55" stroke="#1d6a3a" stroke-width=".5"/><rect x="447.8" y="649.5" width="2.4" height="2" fill="#fff" opacity=".8"/><circle cx="363.25" cy="650" r="3.2" fill="#d3822f" stroke="#6a3a10" stroke-width=".9"/><rect x="362.1" y="649.0" width="2.4" height="2" fill="#fff" opacity=".7"/><circle cx="472" cy="650" r="3.2" fill="#d3822f" stroke="#6a3a10" stroke-width=".9"/><rect x="470.8" y="649.0" width="2.4" height="2" fill="#fff" opacity=".7"/><text x="291.0" y="627.2" font-size="3.4" font-weight="700" fill="#444" text-anchor="end" font-family="Liberation Sans" transform="translate(291.0 0) scale(.85 1) translate(-291.0 0)">1200</text><text x="291.0" y="637.2" font-size="3.4" font-weight="700" fill="#444" text-anchor="end" font-family="Liberation Sans" transform="translate(291.0 0) scale(.85 1) translate(-291.0 0)">1100</text><text x="291.0" y="646.2" font-size="3.4" font-weight="700" fill="#444" text-anchor="end" font-family="Liberation Sans" transform="translate(291.0 0) scale(.85 1) translate(-291.0 0)">1000</text><text x="291.0" y="657.2" font-size="3.4" font-weight="700" fill="#444" text-anchor="end" font-family="Liberation Sans" transform="translate(291.0 0) scale(.85 1) translate(-291.0 0)">900</text><text x="291.0" y="672.2" font-size="3.4" font-weight="700" fill="#444" text-anchor="end" font-family="Liberation Sans" transform="translate(291.0 0) scale(.85 1) translate(-291.0 0)">800</text><text x="291.0" y="684.2" font-size="3.4" font-weight="700" fill="#444" text-anchor="end" font-family="Liberation Sans" transform="translate(291.0 0) scale(.85 1) translate(-291.0 0)">700</text><rect x="300.0" y="719.0" width="4" height="1.8" fill="#d8dde0" opacity=".55"/><rect x="307.0" y="719.0" width="4" height="1.8" fill="#d8dde0" opacity=".55"/><rect x="331.0" y="719.0" width="4" height="1.8" fill="#d8dde0" opacity=".55"/><rect x="339.0" y="719.0" width="4" height="1.8" fill="#d8dde0" opacity=".55"/><rect x="360.0" y="719.0" width="4" height="1.8" fill="#d8dde0" opacity=".55"/><rect x="370.0" y="719.0" width="4" height="1.8" fill="#d8dde0" opacity=".55"/><rect x="390.0" y="719.0" width="4" height="1.8" fill="#d8dde0" opacity=".55"/><rect x="398.0" y="719.0" width="4" height="1.8" fill="#d8dde0" opacity=".55"/><rect x="418.0" y="719.0" width="4" height="1.8" fill="#d8dde0" opacity=".55"/><rect x="438.0" y="719.0" width="4" height="1.8" fill="#d8dde0" opacity=".55"/><rect x="447.0" y="719.0" width="4" height="1.8" fill="#d8dde0" opacity=".55"/><rect x="459.0" y="719.0" width="4" height="1.8" fill="#d8dde0" opacity=".55"/><rect x="469.0" y="719.0" width="4" height="1.8" fill="#d8dde0" opacity=".55"/><rect x="483.0" y="719.0" width="4" height="1.8" fill="#d8dde0" opacity=".55"/><rect x="489.0" y="719.0" width="4" height="1.8" fill="#d8dde0" opacity=".55"/><rect x="542.75" y="716.6" width="237.0" height="8.4" fill="#8f979b"/><line x1="542.75" y1="726.6" x2="779.75" y2="726.6" stroke="#c8cccf" stroke-width=".6" stroke-dasharray="1 1"/><text x="563.2" y="732.0" font-size="4.6" font-weight="700" fill="#333" text-anchor="middle" font-family="Liberation Sans" transform="translate(563.2 0) scale(.8 1) translate(-563.2 0)">0</text><text x="583.2" y="732.0" font-size="4.6" font-weight="700" fill="#333" text-anchor="middle" font-family="Liberation Sans" transform="translate(583.2 0) scale(.8 1) translate(-583.2 0)">10</text><text x="603.2" y="732.0" font-size="4.6" font-weight="700" fill="#333" text-anchor="middle" font-family="Liberation Sans" transform="translate(603.2 0) scale(.8 1) translate(-603.2 0)">20</text><text x="623.2" y="732.0" font-size="4.6" font-weight="700" fill="#333" text-anchor="middle" font-family="Liberation Sans" transform="translate(623.2 0) scale(.8 1) translate(-623.2 0)">30</text><text x="643.2" y="732.0" font-size="4.6" font-weight="700" fill="#333" text-anchor="middle" font-family="Liberation Sans" transform="translate(643.2 0) scale(.8 1) translate(-643.2 0)">40</text><text x="663.2" y="732.0" font-size="4.6" font-weight="700" fill="#333" text-anchor="middle" font-family="Liberation Sans" transform="translate(663.2 0) scale(.8 1) translate(-663.2 0)">50</text><text x="683.2" y="732.0" font-size="4.6" font-weight="700" fill="#333" text-anchor="middle" font-family="Liberation Sans" transform="translate(683.2 0) scale(.8 1) translate(-683.2 0)">60</text><text x="703.2" y="732.0" font-size="4.6" font-weight="700" fill="#333" text-anchor="middle" font-family="Liberation Sans" transform="translate(703.2 0) scale(.8 1) translate(-703.2 0)">70</text><text x="723.2" y="732.0" font-size="4.6" font-weight="700" fill="#333" text-anchor="middle" font-family="Liberation Sans" transform="translate(723.2 0) scale(.8 1) translate(-723.2 0)">80</text><text x="743.2" y="732.0" font-size="4.6" font-weight="700" fill="#333" text-anchor="middle" font-family="Liberation Sans" transform="translate(743.2 0) scale(.8 1) translate(-743.2 0)">90</text><text x="763.2" y="732.0" font-size="4.6" font-weight="700" fill="#333" text-anchor="middle" font-family="Liberation Sans" transform="translate(763.2 0) scale(.8 1) translate(-763.2 0)">100</text><circle cx="563.75" cy="620.5" r="4.2" fill="#c4377f" stroke="#fff" stroke-width=".8"/><text x="563.75" y="622.39" font-size="5.04" font-weight="700" fill="#fff" text-anchor="middle" font-family="Liberation Sans">S</text><circle cx="759.5" cy="620.5" r="4.2" fill="#555" stroke="#fff" stroke-width=".8"/><text x="759.5" y="622.39" font-size="5.04" font-weight="700" fill="#fff" text-anchor="middle" font-family="Liberation Sans">M</text><line x1="563.25" y1="624" x2="563.25" y2="715" stroke="#999" stroke-width="0.5"/><line x1="759.2" y1="624" x2="759.2" y2="715" stroke="#999" stroke-width="0.5"/><rect x="572.0" y="612" width=".9" height="36.0" fill="#444" opacity=".4"/><line x1="573.5" y1="649" x2="573.5" y2="715" stroke="#bbb" stroke-width=".4"/><rect x="581.2" y="634" width=".9" height="14.0" fill="#444" opacity=".4"/><line x1="582.75" y1="649" x2="582.75" y2="715" stroke="#bbb" stroke-width=".4"/><rect x="592.0" y="620" width=".9" height="28.0" fill="#444" opacity=".4"/><line x1="593.5" y1="649" x2="593.5" y2="715" stroke="#bbb" stroke-width=".4"/><rect x="613.8" y="625" width=".9" height="23.0" fill="#444" opacity=".4"/><line x1="615.25" y1="649" x2="615.25" y2="715" stroke="#bbb" stroke-width=".4"/><rect x="625.8" y="636" width=".9" height="12.0" fill="#444" opacity=".4"/><line x1="627.25" y1="649" x2="627.25" y2="715" stroke="#bbb" stroke-width=".4"/><rect x="634.5" y="630" width=".9" height="18.0" fill="#444" opacity=".4"/><line x1="636" y1="649" x2="636" y2="715" stroke="#bbb" stroke-width=".4"/><rect x="650.8" y="633" width=".9" height="17.0" fill="#444" opacity=".4"/><line x1="652.25" y1="651" x2="652.25" y2="715" stroke="#bbb" stroke-width=".4"/><rect x="664.5" y="637" width=".9" height="13.0" fill="#444" opacity=".4"/><line x1="666" y1="651" x2="666" y2="715" stroke="#bbb" stroke-width=".4"/><rect x="677.0" y="612" width=".9" height="33.0" fill="#444" opacity=".4"/><line x1="678.5" y1="646" x2="678.5" y2="715" stroke="#bbb" stroke-width=".4"/><rect x="697.5" y="634" width=".9" height="14.0" fill="#444" opacity=".4"/><line x1="699" y1="649" x2="699" y2="715" stroke="#bbb" stroke-width=".4"/><rect x="702.5" y="611" width=".9" height="37.0" fill="#444" opacity=".4"/><line x1="704" y1="649" x2="704" y2="715" stroke="#bbb" stroke-width=".4"/><rect x="712.5" y="614" width=".9" height="34.0" fill="#444" opacity=".4"/><line x1="714" y1="649" x2="714" y2="715" stroke="#bbb" stroke-width=".4"/><rect x="723.0" y="620" width=".9" height="28.0" fill="#444" opacity=".4"/><line x1="724.5" y1="649" x2="724.5" y2="715" stroke="#bbb" stroke-width=".4"/><rect x="752.5" y="612" width=".9" height="36.0" fill="#444" opacity=".4"/><line x1="754" y1="649" x2="754" y2="715" stroke="#bbb" stroke-width=".4"/><rect x="595.2" y="653.0" width="6.5" height="6.5" rx="1.6" fill="#2f9a55" stroke="#1d6a3a" stroke-width=".5"/><rect x="597.3" y="655.2" width="2.4" height="2" fill="#fff" opacity=".8"/><polygon points="636.5,647.8 640.5,654.2 632.5,654.2" fill="#5f2753"/><rect x="635.7" y="650.5" width="1.6" height="2.2" fill="#fff" opacity=".8"/><circle cx="653.25" cy="651.25" r="3.3" fill="#d3822f" stroke="#6a3a10" stroke-width=".9"/><rect x="652.0" y="650.2" width="2.4" height="2" fill="#fff" opacity=".7"/><polygon points="678.5,646.8 682.5,653.2 674.5,653.2" fill="#5f2753"/><rect x="677.7" y="649.5" width="1.6" height="2.2" fill="#fff" opacity=".8"/><text x="560.0" y="650.5" font-size="3.4" font-weight="700" fill="#444" text-anchor="end" font-family="Liberation Sans" transform="translate(560.0 0) scale(.85 1) translate(-560.0 0)">1200</text><text x="560.0" y="661.0" font-size="3.4" font-weight="700" fill="#444" text-anchor="end" font-family="Liberation Sans" transform="translate(560.0 0) scale(.85 1) translate(-560.0 0)">1100</text><text x="560.0" y="671.0" font-size="3.4" font-weight="700" fill="#444" text-anchor="end" font-family="Liberation Sans" transform="translate(560.0 0) scale(.85 1) translate(-560.0 0)">1000</text><text x="560.0" y="681.7" font-size="3.4" font-weight="700" fill="#444" text-anchor="end" font-family="Liberation Sans" transform="translate(560.0 0) scale(.85 1) translate(-560.0 0)">900</text><text x="560.0" y="692.5" font-size="3.4" font-weight="700" fill="#444" text-anchor="end" font-family="Liberation Sans" transform="translate(560.0 0) scale(.85 1) translate(-560.0 0)">800</text><text x="560.0" y="703.0" font-size="3.4" font-weight="700" fill="#444" text-anchor="end" font-family="Liberation Sans" transform="translate(560.0 0) scale(.85 1) translate(-560.0 0)">700</text><rect x="571.0" y="720.0" width="4" height="1.8" fill="#d8dde0" opacity=".55"/><rect x="581.0" y="720.0" width="4" height="1.8" fill="#d8dde0" opacity=".55"/><rect x="591.0" y="720.0" width="4" height="1.8" fill="#d8dde0" opacity=".55"/><rect x="604.0" y="720.0" width="4" height="1.8" fill="#d8dde0" opacity=".55"/><rect x="613.0" y="720.0" width="4" height="1.8" fill="#d8dde0" opacity=".55"/><rect x="625.0" y="720.0" width="4" height="1.8" fill="#d8dde0" opacity=".55"/><rect x="634.0" y="720.0" width="4" height="1.8" fill="#d8dde0" opacity=".55"/><rect x="650.0" y="720.0" width="4" height="1.8" fill="#d8dde0" opacity=".55"/><rect x="664.0" y="720.0" width="4" height="1.8" fill="#d8dde0" opacity=".55"/><rect x="676.0" y="720.0" width="4" height="1.8" fill="#d8dde0" opacity=".55"/><rect x="697.0" y="720.0" width="4" height="1.8" fill="#d8dde0" opacity=".55"/><rect x="702.0" y="720.0" width="4" height="1.8" fill="#d8dde0" opacity=".55"/><rect x="712.0" y="720.0" width="4" height="1.8" fill="#d8dde0" opacity=".55"/><rect x="722.0" y="720.0" width="4" height="1.8" fill="#d8dde0" opacity=".55"/><rect x="752.0" y="720.0" width="4" height="1.8" fill="#d8dde0" opacity=".55"/><rect x="816.9" y="718.3" width="234.6" height="6.0" fill="#8f979b"/><line x1="816.9" y1="725.9" x2="1051.5" y2="725.9" stroke="#c8cccf" stroke-width=".6" stroke-dasharray="1 1"/><text x="834.2" y="730.3" font-size="4.3" font-weight="700" fill="#333" text-anchor="middle" font-family="Liberation Sans" transform="translate(834.2 0) scale(.8 1) translate(-834.2 0)">0</text><text x="851.7" y="730.3" font-size="4.3" font-weight="700" fill="#333" text-anchor="middle" font-family="Liberation Sans" transform="translate(851.7 0) scale(.8 1) translate(-851.7 0)">10</text><text x="869.2" y="730.3" font-size="4.3" font-weight="700" fill="#333" text-anchor="middle" font-family="Liberation Sans" transform="translate(869.2 0) scale(.8 1) translate(-869.2 0)">20</text><text x="886.6" y="730.3" font-size="4.3" font-weight="700" fill="#333" text-anchor="middle" font-family="Liberation Sans" transform="translate(886.6 0) scale(.8 1) translate(-886.6 0)">30</text><text x="904.1" y="730.3" font-size="4.3" font-weight="700" fill="#333" text-anchor="middle" font-family="Liberation Sans" transform="translate(904.1 0) scale(.8 1) translate(-904.1 0)">40</text><text x="921.6" y="730.3" font-size="4.3" font-weight="700" fill="#333" text-anchor="middle" font-family="Liberation Sans" transform="translate(921.6 0) scale(.8 1) translate(-921.6 0)">50</text><text x="939.1" y="730.3" font-size="4.3" font-weight="700" fill="#333" text-anchor="middle" font-family="Liberation Sans" transform="translate(939.1 0) scale(.8 1) translate(-939.1 0)">60</text><text x="956.6" y="730.3" font-size="4.3" font-weight="700" fill="#333" text-anchor="middle" font-family="Liberation Sans" transform="translate(956.6 0) scale(.8 1) translate(-956.6 0)">70</text><text x="974.0" y="730.3" font-size="4.3" font-weight="700" fill="#333" text-anchor="middle" font-family="Liberation Sans" transform="translate(974.0 0) scale(.8 1) translate(-974.0 0)">80</text><text x="991.5" y="730.3" font-size="4.3" font-weight="700" fill="#333" text-anchor="middle" font-family="Liberation Sans" transform="translate(991.5 0) scale(.8 1) translate(-991.5 0)">90</text><text x="1009.0" y="730.3" font-size="4.3" font-weight="700" fill="#333" text-anchor="middle" font-family="Liberation Sans" transform="translate(1009.0 0) scale(.8 1) translate(-1009.0 0)">100</text><text x="1026.5" y="730.3" font-size="4.3" font-weight="700" fill="#333" text-anchor="middle" font-family="Liberation Sans" transform="translate(1026.5 0) scale(.8 1) translate(-1026.5 0)">110</text><line x1="834.2" y1="635.5" x2="834.2" y2="717" stroke="#555" stroke-width="0.6"/><line x1="1032.9" y1="635.5" x2="1032.9" y2="717" stroke="#555" stroke-width="0.6"/><line x1="843.1" y1="650" x2="843.1" y2="717" stroke="#fff" stroke-width="0.5"/><line x1="849.5" y1="650" x2="849.5" y2="717" stroke="#fff" stroke-width="0.5"/><line x1="856.6" y1="650" x2="856.6" y2="717" stroke="#fff" stroke-width="0.5"/><line x1="861" y1="650" x2="861" y2="717" stroke="#fff" stroke-width="0.5"/><line x1="867.3" y1="650" x2="867.3" y2="717" stroke="#fff" stroke-width="0.5"/><line x1="870.4" y1="650" x2="870.4" y2="717" stroke="#fff" stroke-width="0.5"/><line x1="888.2" y1="650" x2="888.2" y2="717" stroke="#fff" stroke-width="0.5"/><line x1="894.1" y1="650" x2="894.1" y2="717" stroke="#fff" stroke-width="0.5"/><line x1="907.6" y1="650" x2="907.6" y2="717" stroke="#fff" stroke-width="0.5"/><line x1="910.6" y1="650" x2="910.6" y2="717" stroke="#fff" stroke-width="0.5"/><line x1="920.3" y1="650" x2="920.3" y2="717" stroke="#fff" stroke-width="0.5"/><line x1="929" y1="650" x2="929" y2="717" stroke="#fff" stroke-width="0.5"/><line x1="937.4" y1="650" x2="937.4" y2="717" stroke="#fff" stroke-width="0.5"/><line x1="949.3" y1="650" x2="949.3" y2="717" stroke="#fff" stroke-width="0.5"/><line x1="958.5" y1="650" x2="958.5" y2="717" stroke="#fff" stroke-width="0.5"/><line x1="962.1" y1="650" x2="962.1" y2="717" stroke="#fff" stroke-width="0.5"/><line x1="965.4" y1="650" x2="965.4" y2="717" stroke="#fff" stroke-width="0.5"/><line x1="976.3" y1="650" x2="976.3" y2="717" stroke="#fff" stroke-width="0.5"/><line x1="987" y1="650" x2="987" y2="717" stroke="#fff" stroke-width="0.5"/><line x1="1006.1" y1="650" x2="1006.1" y2="717" stroke="#fff" stroke-width="0.5"/><line x1="1013" y1="650" x2="1013" y2="717" stroke="#fff" stroke-width="0.5"/><line x1="1023.2" y1="650" x2="1023.2" y2="717" stroke="#fff" stroke-width="0.5"/><line x1="1029.8" y1="650" x2="1029.8" y2="717" stroke="#fff" stroke-width="0.5"/><rect x="848.0" y="645" width=".9" height="15.0" fill="#444" opacity=".4"/><line x1="849.5" y1="661" x2="849.5" y2="715" stroke="#bbb" stroke-width=".4"/><rect x="855.1" y="636" width=".9" height="24.0" fill="#444" opacity=".4"/><line x1="856.6" y1="661" x2="856.6" y2="715" stroke="#bbb" stroke-width=".4"/><rect x="865.8" y="637" width=".9" height="23.0" fill="#444" opacity=".4"/><line x1="867.3" y1="661" x2="867.3" y2="715" stroke="#bbb" stroke-width=".4"/><rect x="886.7" y="649" width=".9" height="11.0" fill="#444" opacity=".4"/><line x1="888.2" y1="661" x2="888.2" y2="715" stroke="#bbb" stroke-width=".4"/><rect x="892.6" y="638" width=".9" height="22.0" fill="#444" opacity=".4"/><line x1="894.1" y1="661" x2="894.1" y2="715" stroke="#bbb" stroke-width=".4"/><rect x="906.1" y="642" width=".9" height="18.0" fill="#444" opacity=".4"/><line x1="907.6" y1="661" x2="907.6" y2="715" stroke="#bbb" stroke-width=".4"/><rect x="918.8" y="640" width=".9" height="20.0" fill="#444" opacity=".4"/><line x1="920.3" y1="661" x2="920.3" y2="715" stroke="#bbb" stroke-width=".4"/><rect x="927.5" y="635" width=".9" height="25.0" fill="#444" opacity=".4"/><line x1="929" y1="661" x2="929" y2="715" stroke="#bbb" stroke-width=".4"/><rect x="947.8" y="637" width=".9" height="23.0" fill="#444" opacity=".4"/><line x1="949.3" y1="661" x2="949.3" y2="715" stroke="#bbb" stroke-width=".4"/><rect x="957.0" y="641" width=".9" height="19.0" fill="#444" opacity=".4"/><line x1="958.5" y1="661" x2="958.5" y2="715" stroke="#bbb" stroke-width=".4"/><rect x="960.6" y="644" width=".9" height="16.0" fill="#444" opacity=".4"/><line x1="962.1" y1="661" x2="962.1" y2="715" stroke="#bbb" stroke-width=".4"/><rect x="963.9" y="645" width=".9" height="15.0" fill="#444" opacity=".4"/><line x1="965.4" y1="661" x2="965.4" y2="715" stroke="#bbb" stroke-width=".4"/><rect x="985.5" y="632" width=".9" height="28.0" fill="#444" opacity=".4"/><line x1="987" y1="661" x2="987" y2="715" stroke="#bbb" stroke-width=".4"/><rect x="1004.6" y="630" width=".9" height="30.0" fill="#444" opacity=".4"/><line x1="1006.1" y1="661" x2="1006.1" y2="715" stroke="#bbb" stroke-width=".4"/><rect x="1011.5" y="640" width=".9" height="20.0" fill="#444" opacity=".4"/><line x1="1013" y1="661" x2="1013" y2="715" stroke="#bbb" stroke-width=".4"/><rect x="1021.7" y="642" width=".9" height="18.0" fill="#444" opacity=".4"/><line x1="1023.2" y1="661" x2="1023.2" y2="715" stroke="#bbb" stroke-width=".4"/><rect x="1028.3" y="640" width=".9" height="20.0" fill="#444" opacity=".4"/><line x1="1029.8" y1="661" x2="1029.8" y2="715" stroke="#bbb" stroke-width=".4"/><circle cx="843.1" cy="667.3" r="2.9" fill="#d9b27a" stroke="#6a4a28" stroke-width=".9"/><rect x="841.9" y="666.3" width="2.4" height="2" fill="#fff" opacity=".7"/><circle cx="870.4" cy="667.3" r="2.9" fill="#d9b27a" stroke="#6a4a28" stroke-width=".9"/><rect x="869.2" y="666.3" width="2.4" height="2" fill="#fff" opacity=".7"/><polygon points="860.2,666.2 863.7,671.8 856.7,671.8" fill="#2a2a2a"/><rect x="859.4" y="668.5" width="1.6" height="2.2" fill="#fff" opacity=".8"/><polygon points="937.4,665.2 940.9,670.8 933.9,670.8" fill="#2a2a2a"/><rect x="936.6" y="667.5" width="1.6" height="2.2" fill="#fff" opacity=".8"/><polygon points="976.3,665.2 979.8,670.8 972.8,670.8" fill="#2a2a2a"/><rect x="975.5" y="667.5" width="1.6" height="2.2" fill="#fff" opacity=".8"/><circle cx="894.8" cy="666.5" r="2.4" fill="#fff" stroke="#1f5f3c" stroke-width="1.6"/><circle cx="910.6" cy="666.5" r="2.4" fill="#fff" stroke="#1f5f3c" stroke-width="1.6"/><text x="831.0" y="659.6" font-size="3.4" font-weight="700" fill="#444" text-anchor="end" font-family="Liberation Sans" transform="translate(831.0 0) scale(.85 1) translate(-831.0 0)">1200</text><text x="831.0" y="668.5" font-size="3.4" font-weight="700" fill="#444" text-anchor="end" font-family="Liberation Sans" transform="translate(831.0 0) scale(.85 1) translate(-831.0 0)">1100</text><text x="831.0" y="677.7" font-size="3.4" font-weight="700" fill="#444" text-anchor="end" font-family="Liberation Sans" transform="translate(831.0 0) scale(.85 1) translate(-831.0 0)">1000</text><text x="831.0" y="686.8" font-size="3.4" font-weight="700" fill="#444" text-anchor="end" font-family="Liberation Sans" transform="translate(831.0 0) scale(.85 1) translate(-831.0 0)">900</text><text x="831.0" y="695.7" font-size="3.4" font-weight="700" fill="#444" text-anchor="end" font-family="Liberation Sans" transform="translate(831.0 0) scale(.85 1) translate(-831.0 0)">800</text><text x="831.0" y="704.9" font-size="3.4" font-weight="700" fill="#444" text-anchor="end" font-family="Liberation Sans" transform="translate(831.0 0) scale(.85 1) translate(-831.0 0)">700</text><rect x="841.0" y="720.3" width="4" height="1.8" fill="#d8dde0" opacity=".55"/><rect x="847.0" y="720.3" width="4" height="1.8" fill="#d8dde0" opacity=".55"/><rect x="855.0" y="720.3" width="4" height="1.8" fill="#d8dde0" opacity=".55"/><rect x="859.0" y="720.3" width="4" height="1.8" fill="#d8dde0" opacity=".55"/><rect x="865.0" y="720.3" width="4" height="1.8" fill="#d8dde0" opacity=".55"/><rect x="869.0" y="720.3" width="4" height="1.8" fill="#d8dde0" opacity=".55"/><rect x="886.0" y="720.3" width="4" height="1.8" fill="#d8dde0" opacity=".55"/><rect x="892.0" y="720.3" width="4" height="1.8" fill="#d8dde0" opacity=".55"/><rect x="906.0" y="720.3" width="4" height="1.8" fill="#d8dde0" opacity=".55"/><rect x="909.0" y="720.3" width="4" height="1.8" fill="#d8dde0" opacity=".55"/><rect x="918.0" y="720.3" width="4" height="1.8" fill="#d8dde0" opacity=".55"/><rect x="927.0" y="720.3" width="4" height="1.8" fill="#d8dde0" opacity=".55"/><rect x="935.0" y="720.3" width="4" height="1.8" fill="#d8dde0" opacity=".55"/><rect x="948.0" y="720.3" width="4" height="1.8" fill="#d8dde0" opacity=".55"/><rect x="957.0" y="720.3" width="4" height="1.8" fill="#d8dde0" opacity=".55"/><rect x="960.0" y="720.3" width="4" height="1.8" fill="#d8dde0" opacity=".55"/><rect x="964.0" y="720.3" width="4" height="1.8" fill="#d8dde0" opacity=".55"/><rect x="974.0" y="720.3" width="4" height="1.8" fill="#d8dde0" opacity=".55"/><rect x="985.0" y="720.3" width="4" height="1.8" fill="#d8dde0" opacity=".55"/><rect x="1004.0" y="720.3" width="4" height="1.8" fill="#d8dde0" opacity=".55"/><rect x="1011.0" y="720.3" width="4" height="1.8" fill="#d8dde0" opacity=".55"/><rect x="1021.0" y="720.3" width="4" height="1.8" fill="#d8dde0" opacity=".55"/><rect x="1028.0" y="720.3" width="4" height="1.8" fill="#d8dde0" opacity=".55"/></svg>
<div class="t" style="left:25.50px;top:717.08px;font-size:6.4px;font-weight:700;color:#fff;transform:scaleX(0.8727);transform-origin:0 0;">Km</div>
<div class="t" style="left:227.00px;top:716.57px;font-size:7.6px;font-weight:700;color:#222;transform:scaleX(0.8790);transform-origin:0 0;">17,9</div>
<div class="t" style="left:495.50px;top:716.06px;font-size:8.2px;font-weight:700;color:#222;transform:scaleX(0.7311);transform-origin:0 0;">102,3</div>
<div class="t" style="left:544.50px;top:718.38px;font-size:6.4px;font-weight:700;color:#fff;transform:scaleX(0.8727);transform-origin:0 0;">Km</div>
<div class="t" style="left:760.50px;top:717.06px;font-size:8.2px;font-weight:700;color:#222;transform:scaleX(0.8285);transform-origin:0 0;">97,70</div>
<div class="t" style="left:818.50px;top:718.42px;font-size:6.0px;font-weight:700;color:#fff;transform:scaleX(0.8274);transform-origin:0 0;">Km</div>
<div class="t" style="left:1035.00px;top:717.02px;font-size:8.6px;font-weight:700;color:#222;transform:scaleX(0.7365);transform-origin:0 0;">113,7</div>
<div class="t" style="left:-23.32px;top:675.37px;font-size:10.2px;font-weight:700;color:#222;transform:rotate(-90deg) scaleX(0.6001);transform-origin:50.82px 5.13px;-webkit-text-stroke:.35px #222">CALERUEGA / 955 m</div>
<div class="t" style="left:205.80px;top:691.87px;font-size:10.2px;font-weight:700;color:#222;transform:rotate(-90deg) scaleX(0.5491);transform-origin:25.50px 5.13px;-webkit-text-stroke:.35px #222">CASTILLO</div>
<div class="t" style="left:181.69px;top:669.12px;font-size:10.2px;font-weight:700;color:#222;transform:rotate(-90deg) scaleX(0.6165);transform-origin:59.61px 5.13px;-webkit-text-stroke:.35px #222">DE PEÑARANDA / 900 m</div>
<div class="t" style="left:222.63px;top:639.08px;font-size:8.8px;font-weight:700;color:#222;transform:rotate(-90deg) scaleX(0.6777);transform-origin:56.07px 4.42px;-webkit-text-stroke:.35px #222">LANGA DE DUERO / 839 m</div>
<div class="t" style="left:431.54px;top:661.03px;font-size:9.3px;font-weight:700;color:#222;transform:rotate(-90deg) scaleX(0.6407);transform-origin:72.26px 4.67px;-webkit-text-stroke:.35px #222">CASTILLO DE PEÑAFIEL / 797 m</div>
<div class="t" style="left:461.70px;top:656.33px;font-size:9.8px;font-weight:700;color:#222;transform:rotate(-90deg) scaleX(0.6072);transform-origin:84.40px 4.92px;-webkit-text-stroke:.35px #222">SAN ESTEBAN DE GORMAZ / 858 m</div>
<div class="t" style="left:685.85px;top:656.33px;font-size:9.8px;font-weight:700;color:#222;transform:rotate(-90deg) scaleX(0.6072);transform-origin:84.40px 4.92px;-webkit-text-stroke:.35px #222">SAN ESTEBAN DE GORMAZ / 858 m</div>
<div class="t" style="left:757.60px;top:673.88px;font-size:9.2px;font-weight:700;color:#222;transform:rotate(-90deg) scaleX(0.5708);transform-origin:62.20px 4.62px;-webkit-text-stroke:.35px #222">ARANDA DE DUERO / 806 m</div>
<div class="t" style="left:979.40px;top:674.53px;font-size:9.2px;font-weight:700;color:#222;transform:rotate(-90deg) scaleX(0.5684);transform-origin:62.20px 4.62px;-webkit-text-stroke:.35px #222">ARANDA DE DUERO / 806 m</div>
</body></html>
